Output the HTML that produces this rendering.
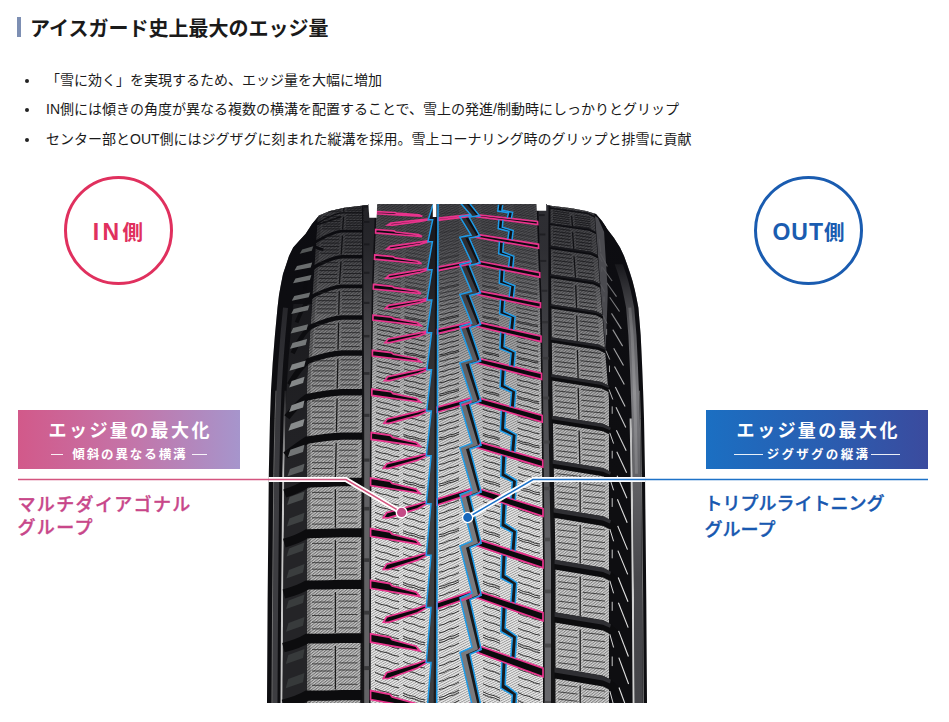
<!DOCTYPE html>
<html lang="ja">
<head>
<meta charset="utf-8">
<title>アイスガード史上最大のエッジ量</title>
<style>
html,body{margin:0;padding:0;background:#fff;}
body{width:949px;height:722px;position:relative;overflow:hidden;font-family:"Liberation Sans","Noto Sans CJK JP",sans-serif;color:#1a1a1a;}
.bar{position:absolute;left:17px;top:17px;width:4px;height:20px;background:#7d8fb3;}
.h{position:absolute;left:30px;top:19px;font-size:20px;line-height:20px;font-weight:700;white-space:nowrap;}
ul{position:absolute;left:0;top:0;margin:0;padding:0;list-style:none;}
li{position:absolute;left:46px;white-space:nowrap;font-size:14px;line-height:20px;}
li:before{content:"";position:absolute;left:-21px;top:9px;width:4px;height:4px;border-radius:50%;background:#222;}
.circ{position:absolute;width:103px;height:103px;border-radius:50%;border:3px solid;text-align:center;line-height:106px;font-size:23px;font-weight:700;letter-spacing:2px;text-indent:3px;white-space:nowrap;}
.circ span{font-size:20.5px;}
.cin{left:63.5px;top:175.5px;border-color:#e0305e;color:#e0305e;letter-spacing:3.4px;}
.cout{left:754px;top:175.5px;border-color:#1a5cb0;color:#1a5cb0;letter-spacing:1px;text-indent:1px;}
.box{position:absolute;top:410px;height:59px;width:222px;color:#fff;text-align:center;font-weight:700;white-space:nowrap;}
.bin{left:18px;background:linear-gradient(90deg,#d2598a 0%,#c474a8 50%,#a695cc 100%);}
.bout{left:706px;background:linear-gradient(90deg,#1b6fc2 0%,#2a5db0 55%,#3b4b9e 100%);}
.box .t{position:absolute;left:0;right:0;top:11px;font-size:18px;line-height:20px;letter-spacing:2.4px;text-indent:2.4px;}
.box .s{position:absolute;left:0;right:0;top:36.5px;font-size:12.5px;line-height:16px;letter-spacing:1.9px;}
.box .s i{display:inline-block;height:0;border-top:1px solid #fff;vertical-align:4px;opacity:.9;}
.lab{position:absolute;font-size:18px;font-weight:500;white-space:nowrap;-webkit-text-stroke:0.35px currentColor;}
.lin{left:17.5px;top:494px;color:#c8478a;line-height:22.5px;letter-spacing:1.35px;}
.lout{left:704.5px;top:490.5px;color:#1858b0;line-height:26px;letter-spacing:0px;}
svg{position:absolute;left:0;top:0;}
</style>
</head>
<body>
<div class="bar"></div>
<div class="h">アイスガード史上最大のエッジ量</div>
<ul>
<li style="top:70px">「雪に効く」を実現するため、エッジ量を大幅に増加</li>
<li style="top:99px">IN側には傾きの角度が異なる複数の横溝を配置することで、雪上の発進/制動時にしっかりとグリップ</li>
<li style="top:129px">センター部とOUT側にはジグザグに刻まれた縦溝を採用。雪上コーナリング時のグリップと排雪に貢献</li>
</ul>
<div class="circ cin">IN<span>側</span></div>
<div class="circ cout">OUT<span>側</span></div>
<div class="box bin"><div class="t">エッジ量の最大化</div><div class="s"><i style="width:11.2px;margin-right:9.6px"></i>傾斜の異なる横溝<i style="width:14.7px;margin-left:4.4px"></i></div></div>
<div class="box bout"><div class="t">エッジ量の最大化</div><div class="s" style="letter-spacing:2.3px"><i style="width:29.1px;margin-right:3.7px"></i>ジグザグの縦溝<i style="width:29.6px;margin-left:0.3px"></i></div></div>
<div class="lab lin">マルチダイアゴナル<br>グループ</div>
<div class="lab lout">トリプルライトニング<br>グループ</div>
<svg width="949" height="722" viewBox="0 0 949 722">
<defs>
<clipPath id="cs"><polygon points="267.0,703.0 267.6,600.0 268.3,530.0 268.8,473.8 269.4,446.0 270.0,418.4 271.0,390.7 272.7,363.0 274.9,335.4 277.5,307.7 279.0,295.0 281.0,284.0 283.0,274.0 286.3,264.2 289.0,256.0 293.2,247.6 299.0,241.0 305.7,233.8 312.0,224.0 319.0,215.5 330.0,211.0 344.5,207.7 368.0,205.0 368.0,204.0 546.6,204.0 546.6,205.2 571.5,208.2 586.0,211.0 596.0,214.0 602.0,221.0 607.5,229.6 614.0,238.0 620.0,247.6 624.0,256.0 627.0,264.2 630.0,273.0 632.5,281.0 634.8,290.0 636.5,298.0 638.4,307.7 640.7,335.4 642.0,363.0 643.1,390.7 644.0,418.4 644.5,446.0 645.0,473.8 645.6,530.0 646.3,600.0 647.0,703.0"/></clipPath>
<pattern id="hl" width="2.2" height="2.2" patternUnits="userSpaceOnUse" patternTransform="rotate(-32)"><rect width="2.2" height="2.2" fill="#eeeeee"/><rect width="2.2" height="0.9" fill="#979797"/></pattern>
<pattern id="hr" width="2.2" height="2.2" patternUnits="userSpaceOnUse" patternTransform="rotate(-28)"><rect width="2.2" height="2.2" fill="#ececec"/><rect width="2.2" height="0.9" fill="#979797"/></pattern>
<pattern id="hs" width="2.2" height="2.2" patternUnits="userSpaceOnUse" patternTransform="rotate(-38)"><rect width="2.2" height="2.2" fill="#c6c6c6"/><rect width="2.2" height="1.0" fill="#707070"/></pattern>
<pattern id="hs2" width="2.2" height="2.2" patternUnits="userSpaceOnUse" patternTransform="rotate(-38)"><rect width="2.2" height="2.2" fill="#d6d6d6"/><rect width="2.2" height="1.0" fill="#808080"/></pattern>
<linearGradient id="shade" x1="0" y1="204" x2="0" y2="520" gradientUnits="userSpaceOnUse"><stop offset="0.000" stop-color="#0c0c11" stop-opacity="0.73"/><stop offset="0.082" stop-color="#0c0c11" stop-opacity="0.71"/><stop offset="0.146" stop-color="#0c0c11" stop-opacity="0.68"/><stop offset="0.259" stop-color="#0c0c11" stop-opacity="0.56"/><stop offset="0.377" stop-color="#0c0c11" stop-opacity="0.39"/><stop offset="0.509" stop-color="#0c0c11" stop-opacity="0.25"/><stop offset="0.661" stop-color="#0c0c11" stop-opacity="0.13"/><stop offset="0.842" stop-color="#0c0c11" stop-opacity="0.04"/><stop offset="1.000" stop-color="#0c0c11" stop-opacity="0.00"/></linearGradient>
<linearGradient id="rb" x1="0" y1="260" x2="0" y2="703" gradientUnits="userSpaceOnUse"><stop offset="0" stop-color="#141418"/><stop offset=".16" stop-color="#5c5c60"/><stop offset=".30" stop-color="#7c7c80"/><stop offset=".50" stop-color="#606064"/><stop offset=".72" stop-color="#47474b"/><stop offset="1" stop-color="#444448"/></linearGradient>
<linearGradient id="rg" x1="0" y1="204" x2="0" y2="703" gradientUnits="userSpaceOnUse"><stop offset="0" stop-color="#8a8a8e"/><stop offset=".25" stop-color="#5a5a5e"/><stop offset=".55" stop-color="#56565a"/><stop offset=".72" stop-color="#66666a"/><stop offset="1" stop-color="#68686c"/></linearGradient>
<linearGradient id="lw" x1="0" y1="380" x2="0" y2="475" gradientUnits="userSpaceOnUse"><stop offset="0" stop-color="#c6c6c6" stop-opacity="0"/><stop offset="1" stop-color="#c6c6c6" stop-opacity="1"/></linearGradient>
</defs>
<polygon points="267.0,703.0 267.6,600.0 268.3,530.0 268.8,473.8 269.4,446.0 270.0,418.4 271.0,390.7 272.7,363.0 274.9,335.4 277.5,307.7 279.0,295.0 281.0,284.0 283.0,274.0 286.3,264.2 289.0,256.0 293.2,247.6 299.0,241.0 305.7,233.8 312.0,224.0 319.0,215.5 330.0,211.0 344.5,207.7 368.0,205.0 368.0,204.0 546.6,204.0 546.6,205.2 571.5,208.2 586.0,211.0 596.0,214.0 602.0,221.0 607.5,229.6 614.0,238.0 620.0,247.6 624.0,256.0 627.0,264.2 630.0,273.0 632.5,281.0 634.8,290.0 636.5,298.0 638.4,307.7 640.7,335.4 642.0,363.0 643.1,390.7 644.0,418.4 644.5,446.0 645.0,473.8 645.6,530.0 646.3,600.0 647.0,703.0" fill="#0e0e11"/>
<g clip-path="url(#cs)">
<path d="M285.5,307.7 L282.9,335.4 L280.7,363.0 L279.0,390.7 L278.0,418.4 L277.4,446.0 L276.8,473.8 L276.3,530.0 L275.6,600.0 L275.0,703.0" fill="none" stroke="#3d3d41" stroke-width="5"/>
<path d="M285.6,390.7 L284.6,418.4 L284.0,446.0 L283.4,473.8 L282.9,530.0 L282.2,600.0 L281.6,703.0" fill="none" stroke="url(#lw)" stroke-width="2.2"/>
<path d="M276.0,390.7 L275.0,418.4 L274.4,446.0 L273.8,473.8 L273.3,530.0 L272.6,600.0 L272.0,703.0" fill="none" stroke="#8a8a8a" stroke-width=".8"/>
<path d="M630.7,418.4 L631.2,446.0 L631.7,473.8 L632.3,530.0 L633.0,600.0 L633.7,703.0" fill="none" stroke="#cfcfcf" stroke-width="2.2"/>
<path d="M639.5,390.7 L640.4,418.4 L640.9,446.0 L641.4,473.8 L642.0,530.0 L642.7,600.0 L643.4,703.0" fill="none" stroke="#8c8c8c" stroke-width=".8"/>
<rect x="368" y="204" width="68.5" height="500" fill="url(#hl)"/>
<rect x="436.5" y="204" width="109" height="500" fill="url(#hr)"/>
<polygon points="319.0,200.0 318.5,208.0 317.9,216.0 317.4,224.0 316.9,232.0 316.3,240.0 315.8,248.0 315.3,256.0 314.7,264.0 314.2,272.0 313.7,280.0 313.1,288.0 312.6,296.0 312.1,304.0 311.5,312.0 311.0,320.0 310.5,328.0 309.9,336.0 309.4,344.0 308.9,352.0 308.3,360.0 307.8,368.0 307.3,376.0 307.0,384.0 307.0,392.0 307.0,400.0 307.0,408.0 307.0,416.0 307.0,424.0 307.0,432.0 307.0,440.0 307.0,448.0 307.0,456.0 307.0,464.0 307.0,472.0 307.0,480.0 307.0,488.0 307.0,496.0 307.0,504.0 307.0,512.0 307.0,520.0 307.0,528.0 307.0,536.0 307.0,544.0 307.0,552.0 307.0,560.0 307.0,568.0 307.0,576.0 307.0,584.0 307.0,592.0 307.0,600.0 307.0,608.0 307.0,616.0 307.0,624.0 307.0,632.0 307.0,640.0 307.0,648.0 307.0,656.0 307.0,664.0 307.0,672.0 307.0,680.0 307.0,688.0 307.0,696.0 307.0,704.0 362.0,707.0 362.0,200.0" fill="url(#hs)"/>
<polygon points="319.0,200.0 318.5,208.0 317.9,216.0 317.4,224.0 316.9,232.0 316.3,240.0 315.8,248.0 315.3,256.0 314.7,264.0 314.2,272.0 313.7,280.0 313.1,288.0 312.6,296.0 312.1,304.0 311.5,312.0 311.0,320.0 310.5,328.0 309.9,336.0 309.4,344.0 308.9,352.0 308.3,360.0 307.8,368.0 307.3,376.0 307.0,384.0 307.0,392.0 307.0,400.0 307.0,408.0 307.0,416.0 307.0,424.0 307.0,432.0 307.0,440.0 307.0,448.0 307.0,456.0 307.0,464.0 307.0,472.0 307.0,480.0 307.0,488.0 307.0,496.0 307.0,504.0 307.0,512.0 307.0,520.0 307.0,528.0 307.0,536.0 307.0,544.0 307.0,552.0 307.0,560.0 307.0,568.0 307.0,576.0 307.0,584.0 307.0,592.0 307.0,600.0 307.0,608.0 307.0,616.0 307.0,624.0 307.0,632.0 307.0,640.0 307.0,648.0 307.0,656.0 307.0,664.0 307.0,672.0 307.0,680.0 307.0,688.0 307.0,696.0 307.0,704.0 310.5,704.0 310.5,696.0 310.5,688.0 310.5,680.0 310.5,672.0 310.5,664.0 310.5,656.0 310.5,648.0 310.5,640.0 310.5,632.0 310.5,624.0 310.5,616.0 310.5,608.0 310.5,600.0 310.5,592.0 310.5,584.0 310.5,576.0 310.5,568.0 310.5,560.0 310.5,552.0 310.5,544.0 310.5,536.0 310.5,528.0 310.5,520.0 310.5,512.0 310.5,504.0 310.5,496.0 310.5,488.0 310.5,480.0 310.5,472.0 310.5,464.0 310.5,456.0 310.5,448.0 310.5,440.0 310.5,432.0 310.5,424.0 310.5,416.0 310.5,408.0 310.5,400.0 310.5,392.0 310.5,384.0 310.8,376.0 311.3,368.0 311.8,360.0 312.4,352.0 312.9,344.0 313.4,336.0 314.0,328.0 314.5,320.0 315.0,312.0 315.6,304.0 316.1,296.0 316.6,288.0 317.2,280.0 317.7,272.0 318.2,264.0 318.8,256.0 319.3,248.0 319.8,240.0 320.4,232.0 320.9,224.0 321.4,216.0 322.0,208.0 322.5,200.0" fill="#000" fill-opacity=".25"/>
<polygon points="593.2,200.0 593.8,208.0 594.5,216.0 595.1,224.0 595.7,232.0 596.4,240.0 597.0,248.0 597.6,256.0 598.3,264.0 598.9,272.0 599.5,280.0 600.2,288.0 600.8,296.0 601.4,304.0 602.1,312.0 602.7,320.0 603.3,328.0 603.9,336.0 604.6,344.0 605.2,352.0 605.8,360.0 606.5,368.0 607.1,376.0 607.7,384.0 608.4,392.0 609.0,400.0 609.0,408.0 609.0,416.0 609.0,424.0 609.0,432.0 609.0,440.0 609.0,448.0 609.0,456.0 609.0,464.0 609.0,472.0 609.0,480.0 609.0,488.0 609.0,496.0 609.0,504.0 609.0,512.0 609.0,520.0 609.0,528.0 609.0,536.0 609.0,544.0 609.0,552.0 609.0,560.0 609.0,568.0 609.0,576.0 609.0,584.0 609.0,592.0 609.0,600.0 609.0,608.0 609.0,616.0 609.0,624.0 609.0,632.0 609.0,640.0 609.0,648.0 609.0,656.0 609.0,664.0 609.0,672.0 609.0,680.0 609.0,688.0 609.0,696.0 609.0,704.0 555.0,704.0 555.0,696.0 555.0,688.0 555.0,680.0 555.0,672.0 555.0,664.0 555.0,656.0 555.0,648.0 555.0,640.0 555.0,632.0 555.0,624.0 555.0,616.0 555.0,608.0 555.0,600.0 555.0,592.0 555.0,584.0 555.0,576.0 555.0,568.0 555.0,560.0 554.9,552.0 554.7,544.0 554.5,536.0 554.4,528.0 554.2,520.0 554.1,512.0 554.0,504.0 553.8,496.0 553.6,488.0 553.5,480.0 553.4,472.0 553.2,464.0 553.0,456.0 552.9,448.0 552.8,440.0 552.6,432.0 552.5,424.0 552.3,416.0 552.1,408.0 552.0,400.0 551.9,392.0 551.8,384.0 551.7,376.0 551.6,368.0 551.5,360.0 551.4,352.0 551.3,344.0 551.2,336.0 551.2,328.0 551.1,320.0 551.0,312.0 550.9,304.0 550.8,296.0 550.7,288.0 550.6,280.0 550.5,272.0 550.4,264.0 550.3,256.0 550.2,248.0 550.1,240.0 550.0,232.0 550.0,224.0 550.0,216.0 550.0,208.0 550.0,200.0" fill="url(#hs2)"/>
<polygon points="293.4,304.0 292.6,312.0 291.8,320.0 291.1,328.0 290.4,336.0 289.7,344.0 289.1,352.0 288.4,360.0 287.9,368.0 287.4,376.0 286.9,384.0 286.5,392.0 286.2,400.0 285.9,408.0 285.6,416.0 285.4,424.0 285.2,432.0 285.0,440.0 284.9,448.0 284.7,456.0 284.5,464.0 284.3,472.0 284.2,480.0 284.2,488.0 284.1,496.0 284.0,504.0 284.0,512.0 283.9,520.0 283.8,528.0 283.7,536.0 283.7,544.0 283.6,552.0 283.5,560.0 283.4,568.0 283.3,576.0 283.3,584.0 283.2,592.0 283.1,600.0 283.1,608.0 283.0,616.0 283.0,624.0 282.9,632.0 282.9,640.0 282.8,648.0 282.8,656.0 282.7,664.0 282.7,672.0 282.6,680.0 282.6,688.0 282.5,696.0 282.5,704.0 307.0,704.0 307.0,696.0 307.0,688.0 307.0,680.0 307.0,672.0 307.0,664.0 307.0,656.0 307.0,648.0 307.0,640.0 307.0,632.0 307.0,624.0 307.0,616.0 307.0,608.0 307.0,600.0 307.0,592.0 307.0,584.0 307.0,576.0 307.0,568.0 307.0,560.0 307.0,552.0 307.0,544.0 307.0,536.0 307.0,528.0 307.0,520.0 307.0,512.0 307.0,504.0 307.0,496.0 307.0,488.0 307.0,480.0 307.0,472.0 307.0,464.0 307.0,456.0 307.0,448.0 307.0,440.0 307.0,432.0 307.0,424.0 307.0,416.0 307.0,408.0 307.0,400.0 307.0,392.0 307.0,384.0 307.3,376.0 307.8,368.0 308.3,360.0 308.9,352.0 309.4,344.0 309.9,336.0 310.5,328.0 311.0,320.0 311.5,312.0 312.1,304.0" fill="#242427"/>
<polygon points="362.0,204.0 362.0,230.0 362.0,260.0 362.0,290.0 362.0,320.0 362.0,350.0 362.0,400.0 360.2,707.0 370.6,707.0 371.7,400.0 372.5,350.0 372.9,320.0 373.4,290.0 374.5,260.0 375.8,230.0 376.5,204.0" fill="#161618"/>
<polygon points="363.2,204.0 363.2,230.0 363.3,260.0 363.5,290.0 363.7,320.0 363.9,350.0 364.2,400.0 364.2,707.0 369.0,707.0 370.1,400.0 370.9,350.0 371.3,320.0 371.8,290.0 372.9,260.0 374.2,230.0 374.9,204.0" fill="#626265"/>
<polygon points="536.7,204.0 537.4,230.0 538.4,260.0 539.9,300.0 540.7,350.0 541.4,400.0 542.2,480.0 543.0,560.0 543.0,707.0 555.5,707.0 555.5,560.0 554.0,480.0 552.5,400.0 551.9,350.0 551.3,300.0 550.9,260.0 550.5,230.0 550.5,204.0" fill="#131315"/>
<polygon points="538.4,204.0 539.1,230.0 540.1,260.0 541.6,300.0 542.4,350.0 543.1,400.0 543.9,480.0 544.7,560.0 544.7,707.0 551.0,707.0 551.0,560.0 549.5,480.0 548.2,400.0 548.3,350.0 548.3,300.0 548.4,260.0 548.4,230.0 548.5,204.0" fill="url(#rg)"/>
<rect x="364" y="205.7" width="5.5" height="2.0" fill="#3a3a3c"/>
<rect x="538.4" y="200.1" width="6.2" height="2.0" fill="#4a4a4c"/>
<rect x="364" y="220.9" width="5.5" height="2.0" fill="#3a3a3c"/>
<rect x="538.5" y="214.1" width="6.2" height="2.0" fill="#4a4a4c"/>
<rect x="364" y="243.4" width="5.5" height="2.0" fill="#3a3a3c"/>
<rect x="539.2" y="233.5" width="6.2" height="2.0" fill="#4a4a4c"/>
<rect x="364" y="271.7" width="5.5" height="2.1" fill="#3a3a3c"/>
<rect x="540.1" y="259.9" width="6.2" height="2.0" fill="#4a4a4c"/>
<rect x="364" y="301.8" width="5.5" height="2.2" fill="#3a3a3c"/>
<rect x="541.2" y="289.7" width="6.2" height="2.1" fill="#4a4a4c"/>
<rect x="364" y="334.9" width="5.5" height="2.5" fill="#3a3a3c"/>
<rect x="541.9" y="321.0" width="6.2" height="2.4" fill="#4a4a4c"/>
<rect x="364" y="372.1" width="5.5" height="2.7" fill="#3a3a3c"/>
<rect x="542.5" y="356.9" width="6.2" height="2.6" fill="#4a4a4c"/>
<rect x="364" y="413.8" width="5.5" height="3.1" fill="#3a3a3c"/>
<rect x="543.0" y="396.5" width="6.2" height="3.0" fill="#4a4a4c"/>
<rect x="364" y="458.5" width="5.5" height="3.2" fill="#3a3a3c"/>
<rect x="543.5" y="440.5" width="6.2" height="3.1" fill="#4a4a4c"/>
<rect x="364" y="506.9" width="5.5" height="3.6" fill="#3a3a3c"/>
<rect x="544.0" y="486.8" width="6.2" height="3.5" fill="#4a4a4c"/>
<rect x="364" y="558.3" width="5.5" height="3.6" fill="#3a3a3c"/>
<rect x="544.5" y="537.7" width="6.2" height="3.6" fill="#4a4a4c"/>
<rect x="364" y="610.8" width="5.5" height="3.8" fill="#3a3a3c"/>
<rect x="544.7" y="589.6" width="6.2" height="3.7" fill="#4a4a4c"/>
<rect x="364" y="666.1" width="5.5" height="4.0" fill="#3a3a3c"/>
<rect x="544.7" y="643.6" width="6.2" height="3.9" fill="#4a4a4c"/>
<rect x="364" y="724.1" width="5.5" height="4.1" fill="#3a3a3c"/>
<rect x="544.7" y="700.9" width="6.2" height="4.1" fill="#4a4a4c"/>
<rect x="364" y="782.1" width="5.5" height="4.1" fill="#3a3a3c"/>
<rect x="544.7" y="758.9" width="6.2" height="4.1" fill="#4a4a4c"/>
<line x1="344.2" y1="202.6" x2="343.7" y2="211.7" stroke="#1c1c1c" stroke-width="1.3"/>
<path d="M323.9,202.2 H341.5 M347.0,201.2 H364.7" stroke="#2a2a2a" stroke-width=".8" fill="none"/>
<path d="M323.8,204.1 H341.5 M347.0,203.1 H364.7" stroke="#2a2a2a" stroke-width=".8" fill="none"/>
<path d="M323.7,206.0 H341.4 M347.0,205.0 H364.6" stroke="#2a2a2a" stroke-width=".8" fill="none"/>
<path d="M323.5,207.9 H341.3 M346.9,206.9 H364.5" stroke="#2a2a2a" stroke-width=".8" fill="none"/>
<path d="M323.4,209.8 H341.2 M346.7,208.8 H364.4" stroke="#2a2a2a" stroke-width=".8" fill="none"/>
<path d="M323.3,211.7 H341.0 M346.6,210.7 H364.3" stroke="#2a2a2a" stroke-width=".8" fill="none"/>
<polygon points="549.5,207.2 587.9,212.7 595.9,216.7 605.9,225.7 605.9,227.2 595.9,218.2 587.9,214.2 549.5,208.7" fill="#0c0c0e"/>
<polygon points="549.5,207.2 587.9,212.7 595.9,216.7 594.9,216.4 587.9,213.4 549.5,207.9" fill="#2f2f33"/>
<line x1="571.6" y1="215.9" x2="572.5" y2="226.6" stroke="#1c1c1c" stroke-width="1.3"/>
<path d="M553.0,210.9 L569.2,213.3 M574.3,215.1 L590.0,217.4" stroke="#2a2a2a" stroke-width=".8" fill="none"/>
<path d="M553.0,213.1 L569.3,215.4 M574.5,217.2 L590.2,219.6" stroke="#2a2a2a" stroke-width=".8" fill="none"/>
<path d="M553.0,215.2 L569.5,217.6 M574.6,219.4 L590.4,221.7" stroke="#2a2a2a" stroke-width=".8" fill="none"/>
<path d="M553.0,217.4 L569.6,219.7 M574.7,221.6 L590.5,223.9" stroke="#2a2a2a" stroke-width=".8" fill="none"/>
<path d="M553.0,219.5 L569.7,221.9 M574.9,223.7 L590.7,226.0" stroke="#2a2a2a" stroke-width=".8" fill="none"/>
<path d="M553.0,221.7 L569.8,224.0 M575.0,225.9 L590.9,228.2" stroke="#2a2a2a" stroke-width=".8" fill="none"/>
<path d="M362.5,212.9 L342,212.9 Q334.1,213.4 318.1,222.9 Q310.1,227.9 341.3,216.5" fill="none" stroke="#0c0c0e" stroke-width="1.4"/>
<line x1="343.6" y1="216.6" x2="342.6" y2="229.4" stroke="#1c1c1c" stroke-width="1.3"/>
<path d="M323.0,216.6 H340.8 M346.4,215.6 H364.1" stroke="#2a2a2a" stroke-width=".8" fill="none"/>
<path d="M322.8,219.1 H340.6 M346.2,218.1 H364.0" stroke="#2a2a2a" stroke-width=".8" fill="none"/>
<path d="M322.6,221.5 H340.5 M346.1,220.5 H363.9" stroke="#2a2a2a" stroke-width=".8" fill="none"/>
<path d="M322.5,224.0 H340.3 M345.9,223.0 H363.7" stroke="#2a2a2a" stroke-width=".8" fill="none"/>
<path d="M322.3,226.4 H340.2 M345.8,225.4 H363.6" stroke="#2a2a2a" stroke-width=".8" fill="none"/>
<path d="M322.1,228.9 H340.0 M345.7,227.9 H363.5" stroke="#2a2a2a" stroke-width=".8" fill="none"/>
<polygon points="549.5,222.9 589.2,228.6 597.2,232.6 607.2,241.6 607.2,243.8 597.2,234.8 589.2,230.8 549.5,225.1" fill="#0c0c0e"/>
<polygon points="549.5,222.9 589.2,228.6 597.2,232.6 596.2,232.6 589.2,229.6 549.5,223.9" fill="#2f2f33"/>
<line x1="572.6" y1="232.2" x2="573.8" y2="249.3" stroke="#1c1c1c" stroke-width="1.3"/>
<path d="M553.0,228.1 L570.2,230.4 M575.4,232.2 L591.4,234.6" stroke="#2a2a2a" stroke-width=".8" fill="none"/>
<path d="M553.0,231.2 L570.4,233.5 M575.6,235.3 L591.6,237.7" stroke="#2a2a2a" stroke-width=".8" fill="none"/>
<path d="M553.0,234.3 L570.6,236.6 M575.7,238.5 L591.9,240.8" stroke="#2a2a2a" stroke-width=".8" fill="none"/>
<path d="M553.1,237.4 L570.7,239.7 M575.9,241.6 L592.1,243.9" stroke="#2a2a2a" stroke-width=".8" fill="none"/>
<path d="M553.1,240.5 L570.9,242.9 M576.1,244.7 L592.4,247.0" stroke="#2a2a2a" stroke-width=".8" fill="none"/>
<path d="M553.2,243.6 L571.1,246.0 M576.3,247.8 L592.6,250.2" stroke="#2a2a2a" stroke-width=".8" fill="none"/>
<line x1="599.3" y1="239.6" x2="600.6" y2="251.7" stroke="#e2e2e2" stroke-width="1.1"/>
<line x1="599.5" y1="239.1" x2="599.5" y2="243.4" stroke="#c8c8c8" stroke-width="1"/>
<path d="M362.5,231.2 L342,231.2 Q333.5,231.7 316.9,241.2 Q308.9,246.2 323.4,249.8" fill="none" stroke="#0c0c0e" stroke-width="2.7"/>
<line x1="342.5" y1="235.6" x2="341.2" y2="254.6" stroke="#1c1c1c" stroke-width="1.3"/>
<path d="M321.6,236.3 H339.6 M345.2,235.3 H363.2" stroke="#2a2a2a" stroke-width=".8" fill="none"/>
<path d="M321.4,239.7 H339.4 M345.0,238.7 H363.0" stroke="#2a2a2a" stroke-width=".8" fill="none"/>
<path d="M321.2,243.1 H339.2 M344.8,242.1 H362.8" stroke="#2a2a2a" stroke-width=".8" fill="none"/>
<path d="M321.0,246.5 H339.0 M344.7,245.5 H362.7" stroke="#2a2a2a" stroke-width=".8" fill="none"/>
<path d="M320.7,249.9 H338.8 M344.5,248.9 H362.5" stroke="#2a2a2a" stroke-width=".8" fill="none"/>
<path d="M320.5,253.3 H338.6 M344.3,252.3 H362.3" stroke="#2a2a2a" stroke-width=".8" fill="none"/>
<polygon points="549.7,245.6 591.1,251.7 599.1,255.7 609.1,264.7 609.1,268.1 599.1,259.1 591.1,255.1 549.7,249.1" fill="#0c0c0e"/>
<polygon points="549.7,245.6 591.1,251.7 599.1,255.7 598.1,256.2 591.1,253.2 549.7,247.2" fill="#2f2f33"/>
<line x1="574.0" y1="256.2" x2="575.5" y2="277.8" stroke="#1c1c1c" stroke-width="1.3"/>
<path d="M553.3,252.6 L571.6,254.9 M576.9,256.8 L593.3,259.1" stroke="#2a2a2a" stroke-width=".8" fill="none"/>
<path d="M553.3,256.4 L571.8,258.7 M577.1,260.6 L593.6,262.9" stroke="#2a2a2a" stroke-width=".8" fill="none"/>
<path d="M553.3,260.2 L572.1,262.5 M577.3,264.4 L593.9,266.7" stroke="#2a2a2a" stroke-width=".8" fill="none"/>
<path d="M553.4,264.0 L572.3,266.4 M577.5,268.2 L594.2,270.5" stroke="#2a2a2a" stroke-width=".8" fill="none"/>
<path d="M553.4,267.8 L572.5,270.2 M577.8,272.0 L594.5,274.3" stroke="#2a2a2a" stroke-width=".8" fill="none"/>
<path d="M553.5,271.6 L572.7,274.0 M578.0,275.8 L594.8,278.1" stroke="#2a2a2a" stroke-width=".8" fill="none"/>
<line x1="600.4" y1="253.4" x2="607.3" y2="266.6" stroke="#e2e2e2" stroke-width="1.1"/>
<line x1="602.3" y1="267.2" x2="612.1" y2="281.0" stroke="#e2e2e2" stroke-width="1.1"/>
<line x1="598.4" y1="255.0" x2="602.2" y2="261.9" stroke="#d8d8d8" stroke-width="1"/>
<line x1="601.7" y1="266.6" x2="601.7" y2="271.7" stroke="#c8c8c8" stroke-width="1"/>
<path d="M362.5,256.8 L342,256.8 Q332.6,257.3 315.2,266.5 Q307.2,271.5 304.7,289.3" fill="none" stroke="#0c0c0e" stroke-width="3.5"/>
<line x1="341.0" y1="261.5" x2="339.4" y2="284.0" stroke="#1c1c1c" stroke-width="1.3"/>
<path d="M319.9,262.7 H338.0 M343.7,261.7 H361.9" stroke="#2a2a2a" stroke-width=".8" fill="none"/>
<path d="M319.6,266.6 H337.8 M343.5,265.6 H361.7" stroke="#2a2a2a" stroke-width=".8" fill="none"/>
<path d="M319.4,270.6 H337.5 M343.3,269.6 H361.5" stroke="#2a2a2a" stroke-width=".8" fill="none"/>
<path d="M319.1,274.5 H337.3 M343.1,273.5 H361.3" stroke="#2a2a2a" stroke-width=".8" fill="none"/>
<path d="M318.8,278.4 H337.1 M342.8,277.4 H361.1" stroke="#2a2a2a" stroke-width=".8" fill="none"/>
<path d="M318.6,282.4 H336.8 M342.6,281.4 H361.0" stroke="#2a2a2a" stroke-width=".8" fill="none"/>
<polygon points="550.0,274.2 593.4,280.6 601.4,284.6 611.4,293.6 611.4,297.5 601.4,288.5 593.4,284.5 550.1,278.1" fill="#0c0c0e"/>
<polygon points="550.0,274.2 593.4,280.6 601.4,284.6 600.4,285.3 593.4,282.3 550.0,275.9" fill="#2f2f33"/>
<line x1="575.7" y1="285.3" x2="576.6" y2="307.9" stroke="#1c1c1c" stroke-width="1.3"/>
<path d="M553.6,281.8 L573.3,284.1 M578.6,285.9 L595.6,288.3" stroke="#2a2a2a" stroke-width=".8" fill="none"/>
<path d="M553.6,285.7 L573.5,288.1 M578.9,289.9 L595.9,292.2" stroke="#2a2a2a" stroke-width=".8" fill="none"/>
<path d="M553.7,289.7 L573.7,292.0 M579.0,293.9 L596.3,296.2" stroke="#2a2a2a" stroke-width=".8" fill="none"/>
<path d="M553.7,293.7 L573.8,296.0 M579.1,297.8 L596.6,300.2" stroke="#2a2a2a" stroke-width=".8" fill="none"/>
<path d="M553.8,297.6 L573.9,300.0 M579.2,301.8 L596.9,304.1" stroke="#2a2a2a" stroke-width=".8" fill="none"/>
<path d="M553.8,301.6 L573.9,303.9 M579.3,305.8 L597.2,308.1" stroke="#2a2a2a" stroke-width=".8" fill="none"/>
<line x1="606.7" y1="282.8" x2="616.5" y2="296.6" stroke="#e2e2e2" stroke-width="1.1"/>
<line x1="609.7" y1="297.2" x2="619.5" y2="311.5" stroke="#e2e2e2" stroke-width="1.1"/>
<line x1="600.7" y1="284.6" x2="604.5" y2="291.8" stroke="#d8d8d8" stroke-width="1"/>
<line x1="604.0" y1="296.6" x2="604.0" y2="301.8" stroke="#c8c8c8" stroke-width="1"/>
<path d="M362.5,286.4 L342,286.4 Q331.6,286.9 313.2,295.9 Q305.2,300.9 296.6,322.5" fill="none" stroke="#0c0c0e" stroke-width="3.8"/>
<line x1="339.3" y1="291.3" x2="338.7" y2="314.7" stroke="#1c1c1c" stroke-width="1.3"/>
<path d="M317.9,292.6 H336.4 M342.2,291.6 H360.6" stroke="#2a2a2a" stroke-width=".8" fill="none"/>
<path d="M317.6,296.6 H336.3 M342.1,295.6 H360.5" stroke="#2a2a2a" stroke-width=".8" fill="none"/>
<path d="M317.4,300.7 H336.2 M342.0,299.7 H360.5" stroke="#2a2a2a" stroke-width=".8" fill="none"/>
<path d="M317.1,304.8 H336.1 M342.0,303.8 H360.4" stroke="#2a2a2a" stroke-width=".8" fill="none"/>
<path d="M316.8,308.9 H336.0 M341.9,307.9 H360.3" stroke="#2a2a2a" stroke-width=".8" fill="none"/>
<path d="M316.5,312.9 H336.0 M341.8,311.9 H360.3" stroke="#2a2a2a" stroke-width=".8" fill="none"/>
<polygon points="550.4,304.3 595.8,311.1 603.8,315.1 613.8,324.1 613.8,328.2 603.8,319.2 595.8,315.2 550.4,308.4" fill="#0c0c0e"/>
<polygon points="550.4,304.3 595.8,311.1 603.8,315.1 602.8,315.9 595.8,312.9 550.4,306.1" fill="#2f2f33"/>
<line x1="576.7" y1="315.6" x2="577.3" y2="341.0" stroke="#1c1c1c" stroke-width="1.3"/>
<path d="M554.0,312.4 L574.2,314.8 M579.5,316.6 L598.0,318.9" stroke="#2a2a2a" stroke-width=".8" fill="none"/>
<path d="M554.0,316.8 L574.2,319.1 M579.6,321.0 L598.4,323.3" stroke="#2a2a2a" stroke-width=".8" fill="none"/>
<path d="M554.1,321.2 L574.3,323.5 M579.7,325.3 L598.7,327.7" stroke="#2a2a2a" stroke-width=".8" fill="none"/>
<path d="M554.1,325.5 L574.4,327.9 M579.8,329.7 L599.1,332.1" stroke="#2a2a2a" stroke-width=".8" fill="none"/>
<path d="M554.2,329.9 L574.5,332.3 M579.9,334.1 L599.4,336.4" stroke="#2a2a2a" stroke-width=".8" fill="none"/>
<path d="M554.2,334.3 L574.6,336.6 M580.0,338.5 L599.8,340.8" stroke="#2a2a2a" stroke-width=".8" fill="none"/>
<line x1="611.5" y1="313.4" x2="621.3" y2="328.9" stroke="#e2e2e2" stroke-width="1.1"/>
<line x1="612.8" y1="329.6" x2="622.6" y2="346.1" stroke="#e2e2e2" stroke-width="1.1"/>
<line x1="603.1" y1="315.3" x2="606.9" y2="323.4" stroke="#d8d8d8" stroke-width="1"/>
<line x1="606.6" y1="328.9" x2="606.6" y2="334.9" stroke="#c8c8c8" stroke-width="1"/>
<path d="M362.5,317.5 L342,317.5 Q330.6,318.0 311.2,326.6 Q303.2,331.6 292.6,353.2" fill="none" stroke="#0c0c0e" stroke-width="4.5"/>
<line x1="338.6" y1="322.7" x2="338.0" y2="349.8" stroke="#1c1c1c" stroke-width="1.3"/>
<path d="M315.8,324.4 H335.7 M341.6,323.4 H360.1" stroke="#2a2a2a" stroke-width=".8" fill="none"/>
<path d="M315.5,329.1 H335.6 M341.5,328.1 H360.0" stroke="#2a2a2a" stroke-width=".8" fill="none"/>
<path d="M315.2,333.7 H335.5 M341.4,332.7 H359.9" stroke="#2a2a2a" stroke-width=".8" fill="none"/>
<path d="M314.8,338.3 H335.4 M341.3,337.3 H359.8" stroke="#2a2a2a" stroke-width=".8" fill="none"/>
<path d="M314.5,342.9 H335.3 M341.2,341.9 H359.8" stroke="#2a2a2a" stroke-width=".8" fill="none"/>
<path d="M314.2,347.6 H335.2 M341.1,346.6 H359.7" stroke="#2a2a2a" stroke-width=".8" fill="none"/>
<polygon points="550.8,337.3 598.5,344.5 606.5,348.5 616.5,357.5 616.5,362.9 606.5,353.9 598.5,349.9 550.8,342.6" fill="#0c0c0e"/>
<polygon points="550.8,337.3 598.5,344.5 606.5,348.5 605.5,349.9 598.5,346.9 550.8,339.7" fill="#2f2f33"/>
<line x1="577.4" y1="349.8" x2="578.1" y2="377.9" stroke="#1c1c1c" stroke-width="1.3"/>
<path d="M554.4,346.9 L574.9,349.3 M580.2,351.1 L600.8,353.5" stroke="#2a2a2a" stroke-width=".8" fill="none"/>
<path d="M554.4,351.7 L575.0,354.1 M580.3,355.9 L601.2,358.3" stroke="#2a2a2a" stroke-width=".8" fill="none"/>
<path d="M554.5,356.5 L575.0,358.9 M580.4,360.7 L601.5,363.0" stroke="#2a2a2a" stroke-width=".8" fill="none"/>
<path d="M554.5,361.3 L575.1,363.7 M580.5,365.5 L601.9,367.8" stroke="#2a2a2a" stroke-width=".8" fill="none"/>
<path d="M554.6,366.1 L575.2,368.5 M580.6,370.3 L602.3,372.6" stroke="#2a2a2a" stroke-width=".8" fill="none"/>
<path d="M554.7,370.9 L575.3,373.2 M580.7,375.1 L602.7,377.4" stroke="#2a2a2a" stroke-width=".8" fill="none"/>
<line x1="613.7" y1="348.3" x2="623.5" y2="365.6" stroke="#e2e2e2" stroke-width="1.1"/>
<line x1="614.5" y1="366.4" x2="624.3" y2="384.5" stroke="#e2e2e2" stroke-width="1.1"/>
<line x1="605.9" y1="350.6" x2="609.7" y2="359.5" stroke="#d8d8d8" stroke-width="1"/>
<line x1="609.5" y1="365.6" x2="609.5" y2="372.1" stroke="#c8c8c8" stroke-width="1"/>
<path d="M362.5,353.0 L342,353.0 Q329.4,353.5 308.8,360.6 Q300.8,365.6 289.5,384.6" fill="none" stroke="#0c0c0e" stroke-width="5.6"/>
<line x1="337.9" y1="358.8" x2="337.2" y2="388.4" stroke="#1c1c1c" stroke-width="1.3"/>
<path d="M313.3,360.8 H335.0 M340.8,359.8 H359.5" stroke="#2a2a2a" stroke-width=".8" fill="none"/>
<path d="M313.0,365.9 H334.9 M340.7,364.9 H359.4" stroke="#2a2a2a" stroke-width=".8" fill="none"/>
<path d="M312.7,370.9 H334.8 M340.6,369.9 H359.3" stroke="#2a2a2a" stroke-width=".8" fill="none"/>
<path d="M312.3,375.9 H334.6 M340.5,374.9 H359.2" stroke="#2a2a2a" stroke-width=".8" fill="none"/>
<path d="M312.0,380.9 H334.5 M340.4,379.9 H359.1" stroke="#2a2a2a" stroke-width=".8" fill="none"/>
<path d="M312.0,385.9 H334.4 M340.4,384.9 H359.1" stroke="#2a2a2a" stroke-width=".8" fill="none"/>
<polygon points="551.2,374.2 601.5,382.0 609.5,386.0 619.5,395.0 619.5,401.4 609.5,392.4 601.5,388.4 551.3,380.6" fill="#0c0c0e"/>
<polygon points="551.2,374.2 601.5,382.0 609.5,386.0 608.5,387.9 601.5,384.9 551.2,377.1" fill="#2f2f33"/>
<line x1="578.2" y1="387.8" x2="578.9" y2="419.4" stroke="#1c1c1c" stroke-width="1.3"/>
<path d="M554.8,385.4 L575.6,387.7 M581.0,389.5 L603.8,391.9" stroke="#2a2a2a" stroke-width=".8" fill="none"/>
<path d="M554.9,390.7 L575.7,393.0 M581.1,394.9 L604.2,397.2" stroke="#2a2a2a" stroke-width=".8" fill="none"/>
<path d="M554.9,396.0 L575.8,398.4 M581.3,400.2 L604.6,402.5" stroke="#2a2a2a" stroke-width=".8" fill="none"/>
<path d="M555.0,401.3 L575.9,403.7 M581.4,405.5 L605.0,407.9" stroke="#2a2a2a" stroke-width=".8" fill="none"/>
<path d="M555.1,406.7 L576.0,409.0 M581.5,410.9 L605.0,413.2" stroke="#2a2a2a" stroke-width=".8" fill="none"/>
<path d="M555.2,412.0 L576.1,414.3 M581.6,416.2 L605.0,418.5" stroke="#2a2a2a" stroke-width=".8" fill="none"/>
<line x1="615.3" y1="386.9" x2="625.1" y2="406.4" stroke="#e2e2e2" stroke-width="1.1"/>
<line x1="616.0" y1="407.2" x2="625.8" y2="427.6" stroke="#e2e2e2" stroke-width="1.1"/>
<line x1="609.0" y1="389.4" x2="612.8" y2="399.5" stroke="#d8d8d8" stroke-width="1"/>
<line x1="612.2" y1="406.4" x2="612.2" y2="413.8" stroke="#c8c8c8" stroke-width="1"/>
<path d="M362.5,392.2 L342,392.2 Q328.5,392.7 307.0,397.3 Q299.0,402.3 286.9,417.3" fill="none" stroke="#0c0c0e" stroke-width="6.6"/>
<line x1="337.1" y1="398.5" x2="336.4" y2="431.8" stroke="#1c1c1c" stroke-width="1.3"/>
<path d="M312.0,401.0 H334.1 M340.1,400.0 H358.8" stroke="#2a2a2a" stroke-width=".8" fill="none"/>
<path d="M312.0,406.6 H334.0 M339.9,405.6 H358.7" stroke="#2a2a2a" stroke-width=".8" fill="none"/>
<path d="M312.0,412.1 H333.9 M339.8,411.1 H358.6" stroke="#2a2a2a" stroke-width=".8" fill="none"/>
<path d="M312.0,417.7 H333.8 M339.7,416.7 H358.5" stroke="#2a2a2a" stroke-width=".8" fill="none"/>
<path d="M312.0,423.3 H333.7 M339.6,422.3 H358.4" stroke="#2a2a2a" stroke-width=".8" fill="none"/>
<path d="M312.0,428.9 H333.6 M339.5,427.9 H358.4" stroke="#2a2a2a" stroke-width=".8" fill="none"/>
<polygon points="551.8,415.8 603.0,423.8 611.0,427.8 621.0,436.8 621.0,444.3 611.0,435.3 603.0,431.3 551.9,423.3" fill="#0c0c0e"/>
<polygon points="551.8,415.8 603.0,423.8 611.0,427.8 610.0,430.2 603.0,427.2 551.9,419.2" fill="#2f2f33"/>
<line x1="579.1" y1="430.5" x2="579.8" y2="463.8" stroke="#1c1c1c" stroke-width="1.3"/>
<path d="M555.5,428.2 L576.5,430.6 M581.9,432.4 L605.0,434.8" stroke="#2a2a2a" stroke-width=".8" fill="none"/>
<path d="M555.6,433.8 L576.6,436.2 M582.0,438.0 L605.0,440.3" stroke="#2a2a2a" stroke-width=".8" fill="none"/>
<path d="M555.7,439.4 L576.7,441.7 M582.1,443.6 L605.0,445.9" stroke="#2a2a2a" stroke-width=".8" fill="none"/>
<path d="M555.8,445.0 L576.8,447.3 M582.3,449.2 L605.0,451.5" stroke="#2a2a2a" stroke-width=".8" fill="none"/>
<path d="M555.9,450.6 L576.9,452.9 M582.4,454.7 L605.0,457.1" stroke="#2a2a2a" stroke-width=".8" fill="none"/>
<path d="M556.0,456.1 L577.0,458.5 M582.5,460.3 L605.0,462.7" stroke="#2a2a2a" stroke-width=".8" fill="none"/>
<line x1="616.4" y1="430.2" x2="626.2" y2="450.8" stroke="#e2e2e2" stroke-width="1.1"/>
<line x1="616.8" y1="451.7" x2="626.6" y2="472.8" stroke="#e2e2e2" stroke-width="1.1"/>
<line x1="609.8" y1="432.9" x2="613.6" y2="443.6" stroke="#d8d8d8" stroke-width="1"/>
<line x1="612.2" y1="450.8" x2="612.2" y2="458.5" stroke="#c8c8c8" stroke-width="1"/>
<path d="M362.5,436.1 L342,436.1 Q328.5,436.6 307.0,440.1 Q299.0,445.1 285.6,455.4" fill="none" stroke="#0c0c0e" stroke-width="7.4"/>
<line x1="336.2" y1="442.8" x2="335.4" y2="477.4" stroke="#1c1c1c" stroke-width="1.3"/>
<path d="M312.0,445.4 H333.2 M339.2,444.4 H358.1" stroke="#2a2a2a" stroke-width=".8" fill="none"/>
<path d="M312.0,451.2 H333.1 M339.1,450.2 H358.0" stroke="#2a2a2a" stroke-width=".8" fill="none"/>
<path d="M312.0,456.9 H333.0 M339.0,455.9 H357.9" stroke="#2a2a2a" stroke-width=".8" fill="none"/>
<path d="M312.0,462.7 H332.9 M338.9,461.7 H357.8" stroke="#2a2a2a" stroke-width=".8" fill="none"/>
<path d="M312.0,468.5 H332.8 M338.7,467.5 H357.7" stroke="#2a2a2a" stroke-width=".8" fill="none"/>
<path d="M312.0,474.2 H332.6 M338.6,473.2 H357.6" stroke="#2a2a2a" stroke-width=".8" fill="none"/>
<polygon points="552.6,460.1 603.0,468.1 611.0,472.1 621.0,481.1 621.0,489.4 611.0,480.4 603.0,476.3 552.8,468.3" fill="#0c0c0e"/>
<polygon points="552.6,460.1 603.0,468.1 611.0,472.1 610.0,474.8 603.0,471.8 552.7,463.8" fill="#2f2f33"/>
<line x1="580.0" y1="475.5" x2="580.2" y2="511.9" stroke="#1c1c1c" stroke-width="1.3"/>
<path d="M556.4,473.7 L577.4,476.0 M582.9,477.8 L605.0,480.2" stroke="#2a2a2a" stroke-width=".8" fill="none"/>
<path d="M556.5,479.7 L577.5,482.1 M583.0,483.9 L605.0,486.2" stroke="#2a2a2a" stroke-width=".8" fill="none"/>
<path d="M556.6,485.8 L577.5,488.1 M583.0,489.9 L605.0,492.3" stroke="#2a2a2a" stroke-width=".8" fill="none"/>
<path d="M556.7,491.8 L577.5,494.1 M583.0,496.0 L605.0,498.3" stroke="#2a2a2a" stroke-width=".8" fill="none"/>
<path d="M556.8,497.9 L577.5,500.2 M583.0,502.0 L605.0,504.4" stroke="#2a2a2a" stroke-width=".8" fill="none"/>
<path d="M556.9,503.9 L577.5,506.2 M583.0,508.1 L605.0,510.4" stroke="#2a2a2a" stroke-width=".8" fill="none"/>
<line x1="617.1" y1="475.7" x2="626.9" y2="498.2" stroke="#e2e2e2" stroke-width="1.1"/>
<line x1="617.4" y1="499.3" x2="627.2" y2="522.8" stroke="#e2e2e2" stroke-width="1.1"/>
<line x1="609.8" y1="478.5" x2="613.6" y2="490.3" stroke="#d8d8d8" stroke-width="1"/>
<line x1="612.2" y1="498.2" x2="612.2" y2="506.9" stroke="#c8c8c8" stroke-width="1"/>
<path d="M362.5,482.1 L342,482.1 Q328.5,482.6 307.0,483.6 Q299.0,488.6 284.7,493.6" fill="none" stroke="#0c0c0e" stroke-width="8.5"/>
<line x1="335.4" y1="489.3" x2="335.4" y2="527.7" stroke="#1c1c1c" stroke-width="1.3"/>
<path d="M312.0,492.4 H332.5 M338.5,491.4 H357.5" stroke="#2a2a2a" stroke-width=".8" fill="none"/>
<path d="M312.0,498.7 H332.5 M338.5,497.7 H357.5" stroke="#2a2a2a" stroke-width=".8" fill="none"/>
<path d="M312.0,505.1 H332.5 M338.5,504.1 H357.5" stroke="#2a2a2a" stroke-width=".8" fill="none"/>
<path d="M312.0,511.4 H332.5 M338.5,510.4 H357.5" stroke="#2a2a2a" stroke-width=".8" fill="none"/>
<path d="M312.0,517.8 H332.5 M338.5,516.8 H357.5" stroke="#2a2a2a" stroke-width=".8" fill="none"/>
<path d="M312.0,524.1 H332.5 M338.5,523.1 H357.5" stroke="#2a2a2a" stroke-width=".8" fill="none"/>
<polygon points="553.5,508.2 603.0,516.2 611.0,520.3 621.0,529.3 621.0,538.9 611.0,529.9 603.0,525.9 553.7,517.8" fill="#0c0c0e"/>
<polygon points="553.5,508.2 603.0,516.2 611.0,520.3 610.0,523.6 603.0,520.6 553.6,512.6" fill="#2f2f33"/>
<line x1="580.2" y1="525.0" x2="580.2" y2="563.4" stroke="#1c1c1c" stroke-width="1.3"/>
<path d="M557.3,523.4 L577.5,525.8 M583.0,527.6 L605.0,529.9" stroke="#2a2a2a" stroke-width=".8" fill="none"/>
<path d="M557.4,529.8 L577.5,532.1 M583.0,533.9 L605.0,536.3" stroke="#2a2a2a" stroke-width=".8" fill="none"/>
<path d="M557.5,536.1 L577.5,538.4 M583.0,540.3 L605.0,542.6" stroke="#2a2a2a" stroke-width=".8" fill="none"/>
<path d="M557.7,542.4 L577.5,544.8 M583.0,546.6 L605.0,549.0" stroke="#2a2a2a" stroke-width=".8" fill="none"/>
<path d="M557.8,548.8 L577.5,551.1 M583.0,553.0 L605.0,555.3" stroke="#2a2a2a" stroke-width=".8" fill="none"/>
<path d="M557.9,555.1 L577.5,557.5 M583.0,559.3 L605.0,561.7" stroke="#2a2a2a" stroke-width=".8" fill="none"/>
<line x1="617.7" y1="525.9" x2="627.5" y2="549.6" stroke="#e2e2e2" stroke-width="1.1"/>
<line x1="617.9" y1="550.6" x2="627.7" y2="574.4" stroke="#e2e2e2" stroke-width="1.1"/>
<line x1="609.8" y1="529.0" x2="613.6" y2="541.3" stroke="#d8d8d8" stroke-width="1"/>
<line x1="612.2" y1="549.6" x2="612.2" y2="558.3" stroke="#c8c8c8" stroke-width="1"/>
<path d="M362.5,532.7 L342,532.7 Q328.5,533.2 307.0,533.7 Q299.0,538.7 284.3,543.1" fill="none" stroke="#0c0c0e" stroke-width="9.0"/>
<line x1="335.4" y1="540.2" x2="335.4" y2="579.3" stroke="#1c1c1c" stroke-width="1.3"/>
<path d="M312.0,543.4 H332.5 M338.5,542.4 H357.5" stroke="#2a2a2a" stroke-width=".8" fill="none"/>
<path d="M312.0,549.8 H332.5 M338.5,548.8 H357.5" stroke="#2a2a2a" stroke-width=".8" fill="none"/>
<path d="M312.0,556.3 H332.5 M338.5,555.3 H357.5" stroke="#2a2a2a" stroke-width=".8" fill="none"/>
<path d="M312.0,562.7 H332.5 M338.5,561.7 H357.5" stroke="#2a2a2a" stroke-width=".8" fill="none"/>
<path d="M312.0,569.2 H332.5 M338.5,568.2 H357.5" stroke="#2a2a2a" stroke-width=".8" fill="none"/>
<path d="M312.0,575.7 H332.5 M338.5,574.7 H357.5" stroke="#2a2a2a" stroke-width=".8" fill="none"/>
<polygon points="554.5,559.7 603.0,567.7 611.0,571.7 621.0,580.7 621.0,590.4 611.0,581.4 603.0,577.4 554.5,569.4" fill="#0c0c0e"/>
<polygon points="554.5,559.7 603.0,567.7 611.0,571.7 610.0,575.1 603.0,572.1 554.5,564.1" fill="#2f2f33"/>
<line x1="580.2" y1="576.6" x2="580.2" y2="616.0" stroke="#1c1c1c" stroke-width="1.3"/>
<path d="M558.0,575.1 L577.5,577.4 M583.0,579.3 L605.0,581.6" stroke="#2a2a2a" stroke-width=".8" fill="none"/>
<path d="M558.0,581.6 L577.5,583.9 M583.0,585.8 L605.0,588.1" stroke="#2a2a2a" stroke-width=".8" fill="none"/>
<path d="M558.0,588.1 L577.5,590.4 M583.0,592.3 L605.0,594.6" stroke="#2a2a2a" stroke-width=".8" fill="none"/>
<path d="M558.0,594.6 L577.5,596.9 M583.0,598.8 L605.0,601.1" stroke="#2a2a2a" stroke-width=".8" fill="none"/>
<path d="M558.0,601.1 L577.5,603.4 M583.0,605.3 L605.0,607.6" stroke="#2a2a2a" stroke-width=".8" fill="none"/>
<path d="M558.0,607.6 L577.5,609.9 M583.0,611.8 L605.0,614.1" stroke="#2a2a2a" stroke-width=".8" fill="none"/>
<line x1="618.2" y1="577.5" x2="628.0" y2="601.8" stroke="#e2e2e2" stroke-width="1.1"/>
<line x1="618.4" y1="602.8" x2="628.2" y2="627.6" stroke="#e2e2e2" stroke-width="1.1"/>
<line x1="609.8" y1="580.7" x2="613.6" y2="593.3" stroke="#d8d8d8" stroke-width="1"/>
<line x1="612.2" y1="601.8" x2="612.2" y2="610.8" stroke="#c8c8c8" stroke-width="1"/>
<path d="M362.5,584.4 L342,584.4 Q328.5,584.9 307.0,585.0 Q299.0,590.0 283.8,594.0" fill="none" stroke="#0c0c0e" stroke-width="9.2"/>
<line x1="335.4" y1="592.0" x2="335.4" y2="632.8" stroke="#1c1c1c" stroke-width="1.3"/>
<path d="M312.0,595.4 H332.5 M338.5,594.4 H357.5" stroke="#2a2a2a" stroke-width=".8" fill="none"/>
<path d="M312.0,602.1 H332.5 M338.5,601.1 H357.5" stroke="#2a2a2a" stroke-width=".8" fill="none"/>
<path d="M312.0,608.8 H332.5 M338.5,607.8 H357.5" stroke="#2a2a2a" stroke-width=".8" fill="none"/>
<path d="M312.0,615.5 H332.5 M338.5,614.5 H357.5" stroke="#2a2a2a" stroke-width=".8" fill="none"/>
<path d="M312.0,622.2 H332.5 M338.5,621.2 H357.5" stroke="#2a2a2a" stroke-width=".8" fill="none"/>
<path d="M312.0,628.9 H332.5 M338.5,627.9 H357.5" stroke="#2a2a2a" stroke-width=".8" fill="none"/>
<polygon points="554.5,612.3 603.0,620.3 611.0,624.3 621.0,633.3 621.0,643.4 611.0,634.4 603.0,630.4 554.5,622.4" fill="#0c0c0e"/>
<polygon points="554.5,612.3 603.0,620.3 611.0,624.3 610.0,627.8 603.0,624.8 554.5,616.8" fill="#2f2f33"/>
<line x1="580.2" y1="629.6" x2="580.2" y2="671.3" stroke="#1c1c1c" stroke-width="1.3"/>
<path d="M558.0,628.4 L577.5,630.7 M583.0,632.6 L605.0,634.9" stroke="#2a2a2a" stroke-width=".8" fill="none"/>
<path d="M558.0,635.2 L577.5,637.6 M583.0,639.4 L605.0,641.7" stroke="#2a2a2a" stroke-width=".8" fill="none"/>
<path d="M558.0,642.1 L577.5,644.4 M583.0,646.3 L605.0,648.6" stroke="#2a2a2a" stroke-width=".8" fill="none"/>
<path d="M558.0,648.9 L577.5,651.3 M583.0,653.1 L605.0,655.5" stroke="#2a2a2a" stroke-width=".8" fill="none"/>
<path d="M558.0,655.8 L577.5,658.1 M583.0,660.0 L605.0,662.3" stroke="#2a2a2a" stroke-width=".8" fill="none"/>
<path d="M558.0,662.7 L577.5,665.0 M583.0,666.8 L605.0,669.2" stroke="#2a2a2a" stroke-width=".8" fill="none"/>
<line x1="618.6" y1="630.9" x2="628.4" y2="656.5" stroke="#e2e2e2" stroke-width="1.1"/>
<line x1="618.8" y1="657.6" x2="628.6" y2="684.0" stroke="#e2e2e2" stroke-width="1.1"/>
<line x1="609.8" y1="634.2" x2="613.6" y2="647.5" stroke="#d8d8d8" stroke-width="1"/>
<line x1="612.2" y1="656.5" x2="612.2" y2="666.1" stroke="#c8c8c8" stroke-width="1"/>
<path d="M362.5,638.1 L342,638.1 Q328.5,638.6 307.0,638.6 Q299.0,643.6 283.4,647.6" fill="none" stroke="#0c0c0e" stroke-width="9.7"/>
<line x1="335.4" y1="645.9" x2="335.4" y2="689.5" stroke="#1c1c1c" stroke-width="1.3"/>
<path d="M312.0,649.6 H332.5 M338.5,648.6 H357.5" stroke="#2a2a2a" stroke-width=".8" fill="none"/>
<path d="M312.0,656.8 H332.5 M338.5,655.8 H357.5" stroke="#2a2a2a" stroke-width=".8" fill="none"/>
<path d="M312.0,663.9 H332.5 M338.5,662.9 H357.5" stroke="#2a2a2a" stroke-width=".8" fill="none"/>
<path d="M312.0,671.0 H332.5 M338.5,670.0 H357.5" stroke="#2a2a2a" stroke-width=".8" fill="none"/>
<path d="M312.0,678.1 H332.5 M338.5,677.1 H357.5" stroke="#2a2a2a" stroke-width=".8" fill="none"/>
<path d="M312.0,685.3 H332.5 M338.5,684.3 H357.5" stroke="#2a2a2a" stroke-width=".8" fill="none"/>
<polygon points="554.5,667.6 603.0,675.7 611.0,679.7 621.0,688.7 621.0,699.4 611.0,690.4 603.0,686.4 554.5,678.4" fill="#0c0c0e"/>
<polygon points="554.5,667.6 603.0,675.7 611.0,679.7 610.0,683.5 603.0,680.5 554.5,672.5" fill="#2f2f33"/>
<line x1="580.2" y1="685.6" x2="580.2" y2="729.3" stroke="#1c1c1c" stroke-width="1.3"/>
<path d="M558.0,684.6 L577.5,687.0 M583.0,688.8 L605.0,691.2" stroke="#2a2a2a" stroke-width=".8" fill="none"/>
<path d="M558.0,691.8 L577.5,694.1 M583.0,696.0 L605.0,698.3" stroke="#2a2a2a" stroke-width=".8" fill="none"/>
<path d="M558.0,699.0 L577.5,701.3 M583.0,703.1 L605.0,705.5" stroke="#2a2a2a" stroke-width=".8" fill="none"/>
<path d="M558.0,706.1 L577.5,708.5 M583.0,710.3 L605.0,712.6" stroke="#2a2a2a" stroke-width=".8" fill="none"/>
<path d="M558.0,713.3 L577.5,715.6 M583.0,717.4 L605.0,719.8" stroke="#2a2a2a" stroke-width=".8" fill="none"/>
<path d="M558.0,720.4 L577.5,722.8 M583.0,724.6 L605.0,726.9" stroke="#2a2a2a" stroke-width=".8" fill="none"/>
<line x1="619.0" y1="687.5" x2="628.8" y2="714.2" stroke="#e2e2e2" stroke-width="1.1"/>
<line x1="619.0" y1="715.4" x2="628.8" y2="742.1" stroke="#e2e2e2" stroke-width="1.1"/>
<line x1="609.8" y1="691.0" x2="613.6" y2="705.0" stroke="#d8d8d8" stroke-width="1"/>
<line x1="612.2" y1="714.2" x2="612.2" y2="724.1" stroke="#c8c8c8" stroke-width="1"/>
<path d="M362.5,695.1 L342,695.1 Q328.5,695.6 307.0,695.6 Q299.0,700.6 283.0,704.6" fill="none" stroke="#0c0c0e" stroke-width="10.2"/>
<line x1="335.4" y1="703.2" x2="335.4" y2="747.5" stroke="#1c1c1c" stroke-width="1.3"/>
<path d="M312.0,707.0 H332.5 M338.5,706.0 H357.5" stroke="#2a2a2a" stroke-width=".8" fill="none"/>
<path d="M312.0,714.2 H332.5 M338.5,713.2 H357.5" stroke="#2a2a2a" stroke-width=".8" fill="none"/>
<path d="M312.0,721.5 H332.5 M338.5,720.5 H357.5" stroke="#2a2a2a" stroke-width=".8" fill="none"/>
<path d="M312.0,728.7 H332.5 M338.5,727.7 H357.5" stroke="#2a2a2a" stroke-width=".8" fill="none"/>
<path d="M312.0,736.0 H332.5 M338.5,735.0 H357.5" stroke="#2a2a2a" stroke-width=".8" fill="none"/>
<path d="M312.0,743.2 H332.5 M338.5,742.2 H357.5" stroke="#2a2a2a" stroke-width=".8" fill="none"/>
<line x1="619.0" y1="745.6" x2="628.8" y2="772.2" stroke="#e2e2e2" stroke-width="1.1"/>
<line x1="619.0" y1="773.4" x2="628.8" y2="800.1" stroke="#e2e2e2" stroke-width="1.1"/>
<line x1="609.8" y1="749.0" x2="613.6" y2="763.0" stroke="#d8d8d8" stroke-width="1"/>
<line x1="612.2" y1="772.2" x2="612.2" y2="782.1" stroke="#c8c8c8" stroke-width="1"/>
<line x1="619.0" y1="803.6" x2="628.8" y2="830.2" stroke="#e2e2e2" stroke-width="1.1"/>
<line x1="619.0" y1="831.4" x2="628.8" y2="858.1" stroke="#e2e2e2" stroke-width="1.1"/>
<line x1="609.8" y1="807.0" x2="613.6" y2="821.0" stroke="#d8d8d8" stroke-width="1"/>
<line x1="612.2" y1="830.2" x2="612.2" y2="840.1" stroke="#c8c8c8" stroke-width="1"/>
<polyline points="380.9,197.6 386.5,198.3 392.0,198.5 397.6,199.2 403.2,199.5" fill="none" stroke="#262626" stroke-width=".9" stroke-opacity="0.25"/>
<polyline points="406.9,198.8 412.0,199.3 417.1,199.6 422.2,200.2 427.3,200.4" fill="none" stroke="#262626" stroke-width=".9" stroke-opacity="0.25"/>
<polyline points="440.3,199.9 444.9,199.6 449.6,199.0 454.2,198.7 458.9,198.1" fill="none" stroke="#262626" stroke-width=".9" stroke-opacity="0.25"/>
<polyline points="481.1,198.5 486.4,199.1 491.6,199.4 496.9,200.0" fill="none" stroke="#262626" stroke-width=".9" stroke-opacity="0.25"/>
<polyline points="513.6,200.6 518.7,201.2 523.8,201.5 528.9,202.1 534.0,202.4" fill="none" stroke="#262626" stroke-width=".9" stroke-opacity="0.25"/>
<polyline points="380.9,199.6 386.5,200.2 392.0,200.5 397.6,201.1 403.2,201.4" fill="none" stroke="#262626" stroke-width=".9" stroke-opacity="0.25"/>
<polyline points="406.9,200.7 412.0,201.3 417.1,201.5 422.2,202.1 427.3,202.4" fill="none" stroke="#262626" stroke-width=".9" stroke-opacity="0.25"/>
<polyline points="440.3,201.8 444.9,201.5 449.6,200.9 454.2,200.6 458.9,200.0" fill="none" stroke="#262626" stroke-width=".9" stroke-opacity="0.25"/>
<polyline points="481.1,200.4 486.4,201.0 491.6,201.3 496.9,202.0" fill="none" stroke="#262626" stroke-width=".9" stroke-opacity="0.25"/>
<polyline points="513.6,202.5 518.7,203.1 523.8,203.4 528.9,204.0 534.0,204.3" fill="none" stroke="#262626" stroke-width=".9" stroke-opacity="0.25"/>
<polyline points="380.9,201.5 386.5,202.1 392.0,202.4 397.6,203.0 403.2,203.3" fill="none" stroke="#262626" stroke-width=".9" stroke-opacity="0.25"/>
<polyline points="406.9,202.6 412.0,203.2 417.1,203.4 422.2,204.0 427.3,204.3" fill="none" stroke="#262626" stroke-width=".9" stroke-opacity="0.25"/>
<polyline points="440.3,203.7 444.9,203.4 449.6,202.8 454.2,202.5 458.9,201.9" fill="none" stroke="#262626" stroke-width=".9" stroke-opacity="0.25"/>
<polyline points="481.1,202.3 486.4,202.9 491.6,203.2 496.9,203.9" fill="none" stroke="#262626" stroke-width=".9" stroke-opacity="0.25"/>
<polyline points="513.6,204.4 518.7,205.0 523.9,205.3 529.0,205.9 534.1,206.2" fill="none" stroke="#262626" stroke-width=".9" stroke-opacity="0.25"/>
<polyline points="380.9,203.4 386.5,204.0 392.0,204.3 397.6,204.9 403.1,205.2" fill="none" stroke="#262626" stroke-width=".9" stroke-opacity="0.25"/>
<polyline points="406.9,204.5 412.0,205.1 417.1,205.3 422.2,205.9 427.3,206.2" fill="none" stroke="#262626" stroke-width=".9" stroke-opacity="0.25"/>
<polyline points="440.3,205.6 444.9,205.3 449.6,204.7 454.2,204.4 458.9,203.8" fill="none" stroke="#262626" stroke-width=".9" stroke-opacity="0.25"/>
<polyline points="481.1,204.2 486.4,204.9 491.7,205.2 496.9,205.8" fill="none" stroke="#262626" stroke-width=".9" stroke-opacity="0.25"/>
<polyline points="513.7,206.3 518.8,207.0 523.9,207.2 529.1,207.9 534.2,208.2" fill="none" stroke="#262626" stroke-width=".9" stroke-opacity="0.25"/>
<polyline points="380.9,205.3 386.4,205.9 392.0,206.2 397.5,206.8 403.1,207.1" fill="none" stroke="#262626" stroke-width=".9" stroke-opacity="0.25"/>
<polyline points="406.8,206.4 411.9,207.0 417.0,207.3 422.1,207.9 427.2,208.1" fill="none" stroke="#262626" stroke-width=".9" stroke-opacity="0.25"/>
<polyline points="440.3,207.5 444.9,207.3 449.6,206.6 454.2,206.4 458.9,205.7" fill="none" stroke="#262626" stroke-width=".9" stroke-opacity="0.25"/>
<polyline points="481.2,206.1 486.4,206.8 491.7,207.1 497.0,207.7" fill="none" stroke="#262626" stroke-width=".9" stroke-opacity="0.25"/>
<polyline points="513.7,208.2 518.9,208.9 524.0,209.2 529.1,209.8 534.3,210.1" fill="none" stroke="#262626" stroke-width=".9" stroke-opacity="0.25"/>
<polyline points="380.8,207.2 386.3,207.8 391.9,208.1 397.5,208.8 403.0,209.0" fill="none" stroke="#262626" stroke-width=".9" stroke-opacity="0.25"/>
<polyline points="406.8,208.3 411.9,208.9 417.0,209.2 422.1,209.8 427.2,210.0" fill="none" stroke="#262626" stroke-width=".9" stroke-opacity="0.25"/>
<polyline points="440.2,209.5 444.9,209.2 449.6,208.6 454.2,208.3 458.9,207.6" fill="none" stroke="#262626" stroke-width=".9" stroke-opacity="0.25"/>
<polyline points="481.2,208.1 486.5,208.7 491.7,209.0 497.0,209.6" fill="none" stroke="#262626" stroke-width=".9" stroke-opacity="0.25"/>
<polyline points="513.8,210.2 518.9,210.8 524.1,211.1 529.2,211.7 534.4,212.0" fill="none" stroke="#262626" stroke-width=".9" stroke-opacity="0.25"/>
<polyline points="380.7,209.1 386.3,209.8 391.8,210.1 397.4,210.7 403.0,211.0" fill="none" stroke="#262626" stroke-width=".9" stroke-opacity="0.25"/>
<polyline points="406.7,210.3 411.8,210.9 416.9,211.1 422.1,211.7 427.2,211.9" fill="none" stroke="#262626" stroke-width=".9" stroke-opacity="0.25"/>
<polyline points="440.2,211.4 444.9,211.1 449.6,210.5 454.2,210.2 458.9,209.6" fill="none" stroke="#262626" stroke-width=".9" stroke-opacity="0.25"/>
<polyline points="481.2,210.0 486.5,210.6 491.8,210.9 497.1,211.6" fill="none" stroke="#262626" stroke-width=".9" stroke-opacity="0.25"/>
<polyline points="513.9,212.1 519.0,212.7 524.1,213.0 529.3,213.6 534.4,213.9" fill="none" stroke="#262626" stroke-width=".9" stroke-opacity="0.25"/>
<polyline points="380.6,211.1 386.2,211.7 391.8,212.0 397.3,212.6 402.9,212.9" fill="none" stroke="#262626" stroke-width=".9" stroke-opacity="0.25"/>
<polyline points="406.7,212.2 411.8,212.8 416.9,213.0 422.0,213.6 427.1,213.9" fill="none" stroke="#262626" stroke-width=".9" stroke-opacity="0.25"/>
<polyline points="440.2,213.3 444.9,213.0 449.5,212.4 454.2,212.1 458.9,211.5" fill="none" stroke="#262626" stroke-width=".9" stroke-opacity="0.25"/>
<polyline points="481.2,211.9 486.5,212.5 491.8,212.8 497.1,213.5" fill="none" stroke="#262626" stroke-width=".9" stroke-opacity="0.25"/>
<polyline points="513.9,214.0 519.1,214.7 524.2,215.0 529.4,215.7 534.5,216.0" fill="none" stroke="#262626" stroke-width=".9" stroke-opacity="0.25"/>
<polyline points="380.6,211.6 386.2,212.3 391.7,212.5 397.3,213.2 402.9,213.5" fill="none" stroke="#262626" stroke-width=".9" stroke-opacity="0.25"/>
<polyline points="406.7,212.7 411.8,213.3 416.9,213.6 422.0,214.2 427.1,214.5" fill="none" stroke="#262626" stroke-width=".9" stroke-opacity="0.25"/>
<polyline points="440.2,213.9 444.9,213.6 449.5,213.0 454.2,212.7 458.9,212.1" fill="none" stroke="#262626" stroke-width=".9" stroke-opacity="0.25"/>
<polyline points="481.2,212.5 486.5,213.1 491.8,213.4 497.1,214.1" fill="none" stroke="#262626" stroke-width=".9" stroke-opacity="0.25"/>
<polyline points="513.9,214.6 519.1,215.3 524.2,215.7 529.4,216.4 534.5,216.7" fill="none" stroke="#262626" stroke-width=".9" stroke-opacity="0.25"/>
<polyline points="380.5,213.6 386.1,214.2 391.7,214.5 397.3,215.2 402.8,215.5" fill="none" stroke="#262626" stroke-width=".9" stroke-opacity="0.25"/>
<polyline points="406.6,214.8 411.7,215.4 416.8,215.7 422.0,216.4 427.1,216.7" fill="none" stroke="#262626" stroke-width=".9" stroke-opacity="0.25"/>
<polyline points="440.2,216.0 444.9,215.7 449.5,215.0 454.2,214.7 458.9,214.0" fill="none" stroke="#262626" stroke-width=".9" stroke-opacity="0.25"/>
<polyline points="481.3,214.4 486.6,215.1 491.9,215.5 497.2,216.2" fill="none" stroke="#262626" stroke-width=".9" stroke-opacity="0.25"/>
<polyline points="514.0,216.8 519.2,217.6 524.3,217.9 529.5,218.7 534.6,219.1" fill="none" stroke="#262626" stroke-width=".9" stroke-opacity="0.25"/>
<polyline points="380.4,215.6 386.0,216.4 391.6,216.7 397.2,217.4 402.8,217.8" fill="none" stroke="#262626" stroke-width=".9" stroke-opacity="0.25"/>
<polyline points="406.5,216.9 411.7,217.7 416.8,218.0 421.9,218.7 427.1,219.0" fill="none" stroke="#262626" stroke-width=".9" stroke-opacity="0.25"/>
<polyline points="440.2,218.3 444.8,218.0 449.5,217.2 454.2,216.9 458.9,216.1" fill="none" stroke="#262626" stroke-width=".9" stroke-opacity="0.25"/>
<polyline points="481.3,216.6 486.6,217.4 491.9,217.7 497.2,218.5" fill="none" stroke="#262626" stroke-width=".9" stroke-opacity="0.25"/>
<polyline points="514.1,219.2 519.2,220.0 524.4,220.4 529.6,221.2 534.7,221.6" fill="none" stroke="#262626" stroke-width=".9" stroke-opacity="0.25"/>
<polyline points="380.3,217.9 385.9,218.7 391.5,219.0 397.1,219.8 402.7,220.2" fill="none" stroke="#262626" stroke-width=".9" stroke-opacity="0.25"/>
<polyline points="406.5,219.3 411.6,220.1 416.8,220.4 421.9,221.2 427.0,221.5" fill="none" stroke="#262626" stroke-width=".9" stroke-opacity="0.25"/>
<polyline points="440.1,220.8 444.8,220.4 449.5,219.6 454.2,219.2 458.9,218.4" fill="none" stroke="#262626" stroke-width=".9" stroke-opacity="0.25"/>
<polyline points="481.3,219.0 486.6,219.8 491.9,220.2 497.3,221.0" fill="none" stroke="#262626" stroke-width=".9" stroke-opacity="0.25"/>
<polyline points="514.1,221.7 519.3,222.6 524.5,223.0 529.7,223.9 534.8,224.3" fill="none" stroke="#262626" stroke-width=".9" stroke-opacity="0.25"/>
<polyline points="380.2,220.3 385.8,221.2 391.4,221.6 397.0,222.4 402.6,222.8" fill="none" stroke="#262626" stroke-width=".9" stroke-opacity="0.25"/>
<polyline points="406.4,221.8 411.5,222.7 416.7,223.0 421.8,223.8 427.0,224.2" fill="none" stroke="#262626" stroke-width=".9" stroke-opacity="0.25"/>
<polyline points="440.1,223.4 444.8,223.0 449.5,222.1 454.2,221.7 458.9,220.9" fill="none" stroke="#262626" stroke-width=".9" stroke-opacity="0.25"/>
<polyline points="481.4,221.5 486.7,222.3 492.0,222.8 497.3,223.6" fill="none" stroke="#262626" stroke-width=".9" stroke-opacity="0.25"/>
<polyline points="514.2,224.4 519.4,225.3 524.6,225.7 529.8,226.7 535.0,227.1" fill="none" stroke="#262626" stroke-width=".9" stroke-opacity="0.25"/>
<polyline points="380.1,223.0 385.7,223.8 391.3,224.2 396.9,225.1 402.6,225.6" fill="none" stroke="#262626" stroke-width=".9" stroke-opacity="0.25"/>
<polyline points="406.3,224.5 411.5,225.4 416.6,225.8 421.8,226.7 426.9,227.0" fill="none" stroke="#262626" stroke-width=".9" stroke-opacity="0.25"/>
<polyline points="440.1,226.2 444.8,225.8 449.5,224.9 454.2,224.4 458.9,223.5" fill="none" stroke="#262626" stroke-width=".9" stroke-opacity="0.25"/>
<polyline points="481.4,224.1 486.7,225.1 492.0,225.5 497.4,226.4" fill="none" stroke="#262626" stroke-width=".9" stroke-opacity="0.25"/>
<polyline points="514.3,227.2 519.5,228.2 524.7,228.6 529.9,229.6 535.1,230.1" fill="none" stroke="#262626" stroke-width=".9" stroke-opacity="0.25"/>
<polyline points="380.0,225.7 385.6,226.6 391.3,227.1 396.9,228.0 402.5,228.5" fill="none" stroke="#262626" stroke-width=".9" stroke-opacity="0.25"/>
<polyline points="406.3,227.4 411.4,228.3 416.6,228.7 421.7,229.6 426.9,230.0" fill="none" stroke="#262626" stroke-width=".9" stroke-opacity="0.25"/>
<polyline points="440.1,229.1 444.8,228.7 449.5,227.7 454.2,227.3 458.9,226.3" fill="none" stroke="#262626" stroke-width=".9" stroke-opacity="0.25"/>
<polyline points="481.4,227.0 486.8,227.9 492.1,228.4 497.4,229.4" fill="none" stroke="#262626" stroke-width=".9" stroke-opacity="0.25"/>
<polyline points="514.4,230.2 519.6,231.2 524.8,231.7 530.0,232.7 535.2,233.2" fill="none" stroke="#262626" stroke-width=".9" stroke-opacity="0.25"/>
<polyline points="379.9,228.6 385.5,229.6 391.2,230.1 396.8,231.1 402.4,231.5" fill="none" stroke="#262626" stroke-width=".9" stroke-opacity="0.25"/>
<polyline points="406.2,230.4 411.3,231.3 416.5,231.7 421.7,232.7 426.9,233.1" fill="none" stroke="#262626" stroke-width=".9" stroke-opacity="0.25"/>
<polyline points="440.0,232.2 444.8,231.7 449.5,230.7 454.2,230.3 458.9,229.3" fill="none" stroke="#262626" stroke-width=".9" stroke-opacity="0.27"/>
<polyline points="481.5,229.9 486.8,231.0 492.1,231.4 497.5,232.5" fill="none" stroke="#262626" stroke-width=".9" stroke-opacity="0.25"/>
<polyline points="514.5,233.4 519.7,234.4 524.9,234.9 530.1,236.0 535.3,236.4" fill="none" stroke="#262626" stroke-width=".9" stroke-opacity="0.28"/>
<polyline points="379.9,229.5 385.5,230.5 391.1,231.0 396.7,232.0 402.4,232.5" fill="none" stroke="#262626" stroke-width=".9" stroke-opacity="0.25"/>
<polyline points="406.2,231.3 411.3,232.3 416.5,232.7 421.7,233.7 426.8,234.1" fill="none" stroke="#262626" stroke-width=".9" stroke-opacity="0.26"/>
<polyline points="440.0,233.2 444.8,232.7 449.5,231.7 454.2,231.2 458.9,230.2" fill="none" stroke="#262626" stroke-width=".9" stroke-opacity="0.27"/>
<polyline points="481.5,230.9 486.8,231.9 492.2,232.4 497.5,233.4" fill="none" stroke="#262626" stroke-width=".9" stroke-opacity="0.26"/>
<polyline points="514.5,234.3 519.7,235.4 524.9,235.9 530.2,236.9 535.4,237.4" fill="none" stroke="#262626" stroke-width=".9" stroke-opacity="0.28"/>
<polyline points="379.8,232.6 385.4,233.7 391.0,234.1 396.6,235.2 402.3,235.7" fill="none" stroke="#262626" stroke-width=".9" stroke-opacity="0.27"/>
<polyline points="406.1,234.5 411.3,235.5 416.4,235.9 421.6,236.9 426.8,237.4" fill="none" stroke="#262626" stroke-width=".9" stroke-opacity="0.28"/>
<polyline points="440.0,236.4 444.7,235.9 449.5,234.8 454.2,234.4 458.9,233.3" fill="none" stroke="#262626" stroke-width=".9" stroke-opacity="0.30"/>
<polyline points="481.5,234.0 486.9,235.1 492.2,235.6 497.6,236.7" fill="none" stroke="#262626" stroke-width=".9" stroke-opacity="0.28"/>
<polyline points="514.6,237.6 519.8,238.7 525.0,239.2 530.3,240.3 535.5,240.9" fill="none" stroke="#262626" stroke-width=".9" stroke-opacity="0.31"/>
<polyline points="379.6,235.8 385.3,236.9 390.9,237.4 396.5,238.5 402.2,239.0" fill="none" stroke="#262626" stroke-width=".9" stroke-opacity="0.29"/>
<polyline points="406.0,237.8 411.2,238.8 416.4,239.3 421.5,240.3 426.7,240.8" fill="none" stroke="#262626" stroke-width=".9" stroke-opacity="0.31"/>
<polyline points="440.0,239.8 444.7,239.3 449.4,238.2 454.2,237.7 458.9,236.6" fill="none" stroke="#262626" stroke-width=".9" stroke-opacity="0.32"/>
<polyline points="481.5,237.3 486.9,238.4 492.3,238.9 497.7,240.1" fill="none" stroke="#262626" stroke-width=".9" stroke-opacity="0.30"/>
<polyline points="514.7,241.0 519.9,242.2 525.2,242.7 530.4,243.8 535.6,244.4" fill="none" stroke="#262626" stroke-width=".9" stroke-opacity="0.33"/>
<polyline points="379.5,239.2 385.1,240.3 390.8,240.8 396.4,242.0 402.1,242.5" fill="none" stroke="#262626" stroke-width=".9" stroke-opacity="0.32"/>
<polyline points="405.9,241.2 411.1,242.3 416.3,242.7 421.5,243.8 426.7,244.3" fill="none" stroke="#262626" stroke-width=".9" stroke-opacity="0.33"/>
<polyline points="440.0,243.3 444.7,242.7 449.4,241.6 454.2,241.1 458.9,239.9" fill="none" stroke="#262626" stroke-width=".9" stroke-opacity="0.35"/>
<polyline points="481.6,240.7 487.0,241.9 492.3,242.4 497.7,243.6" fill="none" stroke="#262626" stroke-width=".9" stroke-opacity="0.33"/>
<polyline points="514.8,244.6 520.1,245.7 525.3,246.3 530.5,247.5 535.8,248.0" fill="none" stroke="#262626" stroke-width=".9" stroke-opacity="0.36"/>
<polyline points="379.4,242.7 385.0,243.8 390.7,244.4 396.3,245.5 402.0,246.1" fill="none" stroke="#262626" stroke-width=".9" stroke-opacity="0.35"/>
<polyline points="405.8,244.7 411.0,245.9 416.2,246.3 421.4,247.5 426.6,247.9" fill="none" stroke="#262626" stroke-width=".9" stroke-opacity="0.36"/>
<polyline points="439.9,246.9 444.7,246.3 449.4,245.1 454.2,244.6 458.9,243.4" fill="none" stroke="#262626" stroke-width=".9" stroke-opacity="0.38"/>
<polyline points="481.6,244.2 487.0,245.4 492.4,246.0 497.8,247.2" fill="none" stroke="#262626" stroke-width=".9" stroke-opacity="0.36"/>
<polyline points="514.9,248.2 520.2,249.4 525.4,250.0 530.7,251.2 535.9,251.7" fill="none" stroke="#262626" stroke-width=".9" stroke-opacity="0.39"/>
<polyline points="379.2,246.3 384.9,247.4 390.6,248.0 396.2,249.2 401.9,249.7" fill="none" stroke="#262626" stroke-width=".9" stroke-opacity="0.37"/>
<polyline points="405.7,248.4 410.9,249.5 416.1,250.0 421.3,251.2 426.6,251.7" fill="none" stroke="#262626" stroke-width=".9" stroke-opacity="0.39"/>
<polyline points="439.9,250.6 444.6,250.0 449.4,248.8 454.2,248.2 458.9,247.0" fill="none" stroke="#262626" stroke-width=".9" stroke-opacity="0.40"/>
<polyline points="481.7,247.9 487.1,249.1 492.5,249.7 497.9,250.9" fill="none" stroke="#262626" stroke-width=".9" stroke-opacity="0.38"/>
<polyline points="515.0,251.9 520.3,253.2 525.5,253.7 530.8,255.0 536.1,255.6" fill="none" stroke="#262626" stroke-width=".9" stroke-opacity="0.41"/>
<polyline points="379.1,249.9 384.7,251.2 390.4,251.7 396.1,253.0 401.8,253.5" fill="none" stroke="#262626" stroke-width=".9" stroke-opacity="0.40"/>
<polyline points="405.6,252.1 410.8,253.3 416.1,253.8 421.3,255.0 426.5,255.5" fill="none" stroke="#262626" stroke-width=".9" stroke-opacity="0.42"/>
<polyline points="439.9,254.4 444.6,253.8 449.4,252.5 454.1,252.0 458.9,250.8" fill="none" stroke="#262626" stroke-width=".9" stroke-opacity="0.43"/>
<polyline points="481.7,251.6 487.1,252.8 492.5,253.4 498.0,254.7" fill="none" stroke="#262626" stroke-width=".9" stroke-opacity="0.41"/>
<polyline points="515.1,255.8 520.4,257.0 525.7,257.6 531.0,258.9 536.2,259.5" fill="none" stroke="#262626" stroke-width=".9" stroke-opacity="0.44"/>
<polyline points="378.9,253.7 384.6,255.0 390.3,255.5 396.0,256.8 401.7,257.4" fill="none" stroke="#262626" stroke-width=".9" stroke-opacity="0.43"/>
<polyline points="405.5,256.0 410.7,257.2 416.0,257.7 421.2,258.9 426.4,259.4" fill="none" stroke="#262626" stroke-width=".9" stroke-opacity="0.45"/>
<polyline points="439.8,258.2 444.6,257.7 449.4,256.4 454.1,255.8 458.9,254.6" fill="none" stroke="#262626" stroke-width=".9" stroke-opacity="0.46"/>
<polyline points="481.8,255.4 487.2,256.7 492.6,257.3 498.0,258.6" fill="none" stroke="#262626" stroke-width=".9" stroke-opacity="0.44"/>
<polyline points="515.2,259.7 520.5,261.0 525.8,261.6 531.1,262.9 536.4,263.5" fill="none" stroke="#262626" stroke-width=".9" stroke-opacity="0.47"/>
<polyline points="378.9,254.9 384.6,256.1 390.3,256.7 395.9,258.0 401.6,258.6" fill="none" stroke="#262626" stroke-width=".9" stroke-opacity="0.44"/>
<polyline points="405.5,257.1 410.7,258.3 416.0,258.8 421.2,260.1 426.4,260.6" fill="none" stroke="#262626" stroke-width=".9" stroke-opacity="0.45"/>
<polyline points="439.8,259.4 444.6,258.8 449.4,257.6 454.1,257.0 458.9,255.7" fill="none" stroke="#262626" stroke-width=".9" stroke-opacity="0.47"/>
<polyline points="481.8,256.6 487.2,257.9 492.6,258.5 498.1,259.8" fill="none" stroke="#262626" stroke-width=".9" stroke-opacity="0.45"/>
<polyline points="515.3,260.9 520.6,262.2 525.9,262.8 531.2,264.1 536.5,264.7" fill="none" stroke="#262626" stroke-width=".9" stroke-opacity="0.48"/>
<polyline points="378.7,258.8 384.4,260.0 390.1,260.6 395.8,261.9 401.5,262.5" fill="none" stroke="#262626" stroke-width=".9" stroke-opacity="0.47"/>
<polyline points="405.4,261.1 410.6,262.3 415.9,262.8 421.1,264.0 426.4,264.6" fill="none" stroke="#262626" stroke-width=".9" stroke-opacity="0.48"/>
<polyline points="439.8,263.4 444.6,262.8 449.4,261.5 454.1,260.9 458.9,259.6" fill="none" stroke="#262626" stroke-width=".9" stroke-opacity="0.50"/>
<polyline points="481.8,260.5 487.3,261.8 492.7,262.4 498.1,263.8" fill="none" stroke="#262626" stroke-width=".9" stroke-opacity="0.48"/>
<polyline points="515.4,264.9 520.7,266.2 526.0,266.8 531.3,268.1 536.6,268.7" fill="none" stroke="#262626" stroke-width=".9" stroke-opacity="0.51"/>
<polyline points="378.6,262.7 384.3,264.0 390.0,264.6 395.7,265.9 401.4,266.6" fill="none" stroke="#262626" stroke-width=".9" stroke-opacity="0.50"/>
<polyline points="405.3,265.1 410.5,266.3 415.8,266.8 421.0,268.1 426.3,268.6" fill="none" stroke="#262626" stroke-width=".9" stroke-opacity="0.51"/>
<polyline points="439.7,267.4 444.5,266.8 449.3,265.5 454.1,264.9 458.9,263.6" fill="none" stroke="#262626" stroke-width=".9" stroke-opacity="0.53"/>
<polyline points="481.9,264.5 487.3,265.8 492.8,266.5 498.2,267.8" fill="none" stroke="#262626" stroke-width=".9" stroke-opacity="0.51"/>
<polyline points="515.5,268.9 520.8,270.3 526.1,270.9 531.5,272.2 536.8,272.8" fill="none" stroke="#262626" stroke-width=".9" stroke-opacity="0.54"/>
<polyline points="378.4,266.8 384.1,268.1 389.9,268.7 395.6,270.0 401.3,270.6" fill="none" stroke="#262626" stroke-width=".9" stroke-opacity="0.53"/>
<polyline points="405.2,269.1 410.4,270.4 415.7,270.9 421.0,272.2 426.2,272.7" fill="none" stroke="#262626" stroke-width=".9" stroke-opacity="0.54"/>
<polyline points="439.7,271.5 444.5,270.9 449.3,269.6 454.1,269.0 458.9,267.6" fill="none" stroke="#262626" stroke-width=".9" stroke-opacity="0.56"/>
<polyline points="481.9,268.5 487.4,269.9 492.8,270.5 498.3,271.9" fill="none" stroke="#262626" stroke-width=".9" stroke-opacity="0.54"/>
<polyline points="515.6,273.0 521.0,274.4 526.3,275.0 531.6,276.3 536.9,276.9" fill="none" stroke="#262626" stroke-width=".9" stroke-opacity="0.57"/>
<polyline points="378.3,270.8 384.0,272.2 389.7,272.8 395.4,274.1 401.2,274.7" fill="none" stroke="#262626" stroke-width=".9" stroke-opacity="0.56"/>
<polyline points="405.1,273.2 410.3,274.5 415.6,275.0 420.9,276.3 426.2,276.8" fill="none" stroke="#262626" stroke-width=".9" stroke-opacity="0.57"/>
<polyline points="439.7,275.6 444.5,275.0 449.3,273.7 454.1,273.1 458.9,271.7" fill="none" stroke="#262626" stroke-width=".9" stroke-opacity="0.59"/>
<polyline points="482.0,272.6 487.5,274.0 492.9,274.6 498.4,276.0" fill="none" stroke="#262626" stroke-width=".9" stroke-opacity="0.57"/>
<polyline points="515.8,277.1 521.1,278.5 526.4,279.1 531.8,280.4 537.1,281.0" fill="none" stroke="#262626" stroke-width=".9" stroke-opacity="0.60"/>
<polyline points="378.1,274.9 383.8,276.3 389.6,276.9 395.3,278.2 401.1,278.8" fill="none" stroke="#262626" stroke-width=".9" stroke-opacity="0.59"/>
<polyline points="405.0,277.3 410.2,278.6 415.5,279.2 420.8,280.4 426.1,281.0" fill="none" stroke="#262626" stroke-width=".9" stroke-opacity="0.60"/>
<polyline points="439.6,279.8 444.5,279.1 449.3,277.8 454.1,277.2 458.9,275.8" fill="none" stroke="#262626" stroke-width=".9" stroke-opacity="0.62"/>
<polyline points="482.0,276.7 487.5,278.1 493.0,278.7 498.5,280.1" fill="none" stroke="#262626" stroke-width=".9" stroke-opacity="0.60"/>
<polyline points="515.9,281.3 521.2,282.6 526.6,283.2 531.9,284.6 537.3,285.2" fill="none" stroke="#262626" stroke-width=".9" stroke-opacity="0.63"/>
<polyline points="377.9,279.1 383.7,280.4 389.4,281.0 395.2,282.4 401.0,283.0" fill="none" stroke="#262626" stroke-width=".9" stroke-opacity="0.62"/>
<polyline points="404.9,281.5 410.2,282.7 415.5,283.3 420.7,284.5 426.1,285.1" fill="none" stroke="#262626" stroke-width=".9" stroke-opacity="0.64"/>
<polyline points="439.6,283.9 444.4,283.3 449.3,281.9 454.1,281.3 458.9,280.0" fill="none" stroke="#262626" stroke-width=".9" stroke-opacity="0.65"/>
<polyline points="482.1,280.9 487.6,282.2 493.1,282.9 498.6,284.2" fill="none" stroke="#262626" stroke-width=".9" stroke-opacity="0.63"/>
<polyline points="516.0,285.4 521.4,286.7 526.7,287.3 532.0,288.7 537.4,289.3" fill="none" stroke="#262626" stroke-width=".9" stroke-opacity="0.67"/>
<polyline points="377.8,283.2 383.5,284.5 389.3,285.1 395.1,286.5 400.9,287.1" fill="none" stroke="#262626" stroke-width=".9" stroke-opacity="0.65"/>
<polyline points="404.8,285.6 410.1,286.9 415.4,287.4 420.7,288.7 426.0,289.2" fill="none" stroke="#262626" stroke-width=".9" stroke-opacity="0.67"/>
<polyline points="439.6,288.0 444.4,287.4 449.3,286.0 454.1,285.4 458.9,284.1" fill="none" stroke="#262626" stroke-width=".9" stroke-opacity="0.69"/>
<polyline points="482.1,285.0 487.6,286.4 493.1,287.0 498.6,288.4" fill="none" stroke="#262626" stroke-width=".9" stroke-opacity="0.66"/>
<polyline points="516.1,289.5 521.4,290.8 526.8,291.4 532.1,292.8 537.4,293.4" fill="none" stroke="#262626" stroke-width=".9" stroke-opacity="0.70"/>
<polyline points="377.7,284.4 383.5,285.8 389.3,286.4 395.0,287.7 400.8,288.3" fill="none" stroke="#262626" stroke-width=".9" stroke-opacity="0.66"/>
<polyline points="404.7,286.8 410.0,288.1 415.4,288.6 420.7,289.9 426.0,290.4" fill="none" stroke="#262626" stroke-width=".9" stroke-opacity="0.68"/>
<polyline points="439.6,289.2 444.4,288.6 449.3,287.3 454.1,286.7 458.9,285.3" fill="none" stroke="#262626" stroke-width=".9" stroke-opacity="0.69"/>
<polyline points="482.2,286.2 487.7,287.6 493.1,288.2 498.6,289.6" fill="none" stroke="#262626" stroke-width=".9" stroke-opacity="0.67"/>
<polyline points="516.1,290.7 521.4,292.1 526.8,292.7 532.1,294.0 537.5,294.6" fill="none" stroke="#262626" stroke-width=".9" stroke-opacity="0.71"/>
<polyline points="377.6,288.5 383.4,289.9 389.2,290.5 395.0,291.8 400.8,292.4" fill="none" stroke="#262626" stroke-width=".9" stroke-opacity="0.69"/>
<polyline points="404.7,290.9 410.0,292.2 415.3,292.7 420.7,294.0 426.0,294.5" fill="none" stroke="#262626" stroke-width=".9" stroke-opacity="0.71"/>
<polyline points="439.6,293.3 444.4,292.7 449.3,291.4 454.1,290.8 458.9,289.4" fill="none" stroke="#262626" stroke-width=".9" stroke-opacity="0.72"/>
<polyline points="482.2,290.3 487.7,291.7 493.2,292.3 498.7,293.7" fill="none" stroke="#262626" stroke-width=".9" stroke-opacity="0.70"/>
<polyline points="516.1,294.8 521.5,296.2 526.8,296.8 532.2,298.1 537.5,298.8" fill="none" stroke="#262626" stroke-width=".9" stroke-opacity="0.74"/>
<polyline points="377.5,292.6 383.3,294.0 389.1,294.6 395.0,295.9 400.8,296.6" fill="none" stroke="#262626" stroke-width=".9" stroke-opacity="0.72"/>
<polyline points="404.7,295.0 410.0,296.3 415.3,296.9 420.6,298.1 426.0,298.7" fill="none" stroke="#262626" stroke-width=".9" stroke-opacity="0.74"/>
<polyline points="439.5,297.5 444.4,296.8 449.2,295.5 454.1,294.9 458.9,293.5" fill="none" stroke="#262626" stroke-width=".9" stroke-opacity="0.76"/>
<polyline points="482.2,294.4 487.7,295.8 493.2,296.5 498.7,297.8" fill="none" stroke="#262626" stroke-width=".9" stroke-opacity="0.73"/>
<polyline points="516.2,299.0 521.5,300.3 526.9,301.0 532.2,302.3 537.6,303.0" fill="none" stroke="#262626" stroke-width=".9" stroke-opacity="0.77"/>
<polyline points="377.5,296.8 383.3,298.1 389.1,298.7 394.9,300.1 400.7,300.7" fill="none" stroke="#262626" stroke-width=".9" stroke-opacity="0.75"/>
<polyline points="404.6,299.2 409.9,300.5 415.3,301.0 420.6,302.3 425.9,302.9" fill="none" stroke="#262626" stroke-width=".9" stroke-opacity="0.77"/>
<polyline points="439.5,301.6 444.4,301.0 449.2,299.6 454.1,299.0 458.9,297.7" fill="none" stroke="#262626" stroke-width=".9" stroke-opacity="0.79"/>
<polyline points="482.2,298.6 487.7,300.0 493.2,300.6 498.7,302.0" fill="none" stroke="#262626" stroke-width=".9" stroke-opacity="0.76"/>
<polyline points="516.2,303.2 521.6,304.5 526.9,305.2 532.3,306.6 537.6,307.2" fill="none" stroke="#262626" stroke-width=".9" stroke-opacity="0.80"/>
<polyline points="377.4,300.9 383.2,302.3 389.1,302.9 394.9,304.3 400.7,304.9" fill="none" stroke="#262626" stroke-width=".9" stroke-opacity="0.78"/>
<polyline points="404.6,303.4 409.9,304.7 415.2,305.2 420.6,306.5 425.9,307.1" fill="none" stroke="#262626" stroke-width=".9" stroke-opacity="0.80"/>
<polyline points="439.5,305.9 444.4,305.2 449.2,303.8 454.1,303.2 458.9,301.8" fill="none" stroke="#262626" stroke-width=".9" stroke-opacity="0.82"/>
<polyline points="482.2,302.8 487.7,304.2 493.3,304.8 498.8,306.2" fill="none" stroke="#262626" stroke-width=".9" stroke-opacity="0.80"/>
<polyline points="516.3,307.4 521.6,308.8 527.0,309.5 532.3,310.9 537.7,311.5" fill="none" stroke="#262626" stroke-width=".9" stroke-opacity="0.83"/>
<polyline points="377.4,305.1 383.2,306.5 389.0,307.2 394.8,308.6 400.6,309.2" fill="none" stroke="#262626" stroke-width=".9" stroke-opacity="0.81"/>
<polyline points="404.5,307.6 409.9,309.0 415.2,309.5 420.5,310.9 425.9,311.4" fill="none" stroke="#262626" stroke-width=".9" stroke-opacity="0.83"/>
<polyline points="439.5,310.2 444.4,309.5 449.2,308.1 454.1,307.5 458.9,306.1" fill="none" stroke="#262626" stroke-width=".9" stroke-opacity="0.85"/>
<polyline points="482.3,307.0 487.8,308.4 493.3,309.1 498.8,310.5" fill="none" stroke="#262626" stroke-width=".9" stroke-opacity="0.83"/>
<polyline points="516.3,311.8 521.7,313.2 527.0,313.8 532.4,315.3 537.8,316.0" fill="none" stroke="#262626" stroke-width=".9" stroke-opacity="0.86"/>
<polyline points="377.3,309.4 383.1,310.8 388.9,311.5 394.8,312.9 400.6,313.6" fill="none" stroke="#262626" stroke-width=".9" stroke-opacity="0.85"/>
<polyline points="404.5,312.0 409.8,313.3 415.2,313.9 420.5,315.3 425.9,315.9" fill="none" stroke="#262626" stroke-width=".9" stroke-opacity="0.86"/>
<polyline points="439.5,314.6 444.4,313.9 449.2,312.5 454.1,311.8 458.9,310.4" fill="none" stroke="#262626" stroke-width=".9" stroke-opacity="0.88"/>
<polyline points="482.3,311.3 487.8,312.8 493.3,313.5 498.8,315.0" fill="none" stroke="#262626" stroke-width=".9" stroke-opacity="0.86"/>
<polyline points="516.4,316.2 521.7,317.7 527.1,318.3 532.5,319.8 537.8,320.5" fill="none" stroke="#262626" stroke-width=".9" stroke-opacity="0.90"/>
<polyline points="377.3,313.8 383.1,315.3 388.9,315.9 394.7,317.4 400.5,318.1" fill="none" stroke="#262626" stroke-width=".9" stroke-opacity="0.88"/>
<polyline points="404.5,316.4 409.8,317.8 415.1,318.4 420.5,319.8 425.8,320.4" fill="none" stroke="#262626" stroke-width=".9" stroke-opacity="0.90"/>
<polyline points="439.5,319.1 444.3,318.4 449.2,316.9 454.1,316.2 458.9,314.8" fill="none" stroke="#262626" stroke-width=".9" stroke-opacity="0.92"/>
<polyline points="482.3,315.8 487.8,317.3 493.3,318.0 498.9,319.5" fill="none" stroke="#262626" stroke-width=".9" stroke-opacity="0.89"/>
<polyline points="516.4,320.8 521.8,322.3 527.1,323.0 532.5,324.5 537.9,325.2" fill="none" stroke="#262626" stroke-width=".9" stroke-opacity="0.93"/>
<polyline points="377.2,315.1 383.0,316.6 388.9,317.3 394.7,318.8 400.5,319.4" fill="none" stroke="#262626" stroke-width=".9" stroke-opacity="0.89"/>
<polyline points="404.4,317.8 409.8,319.2 415.1,319.8 420.5,321.2 425.8,321.8" fill="none" stroke="#262626" stroke-width=".9" stroke-opacity="0.91"/>
<polyline points="439.5,320.5 444.3,319.8 449.2,318.3 454.1,317.6 458.9,316.1" fill="none" stroke="#262626" stroke-width=".9" stroke-opacity="0.93"/>
<polyline points="482.3,317.1 487.8,318.6 493.3,319.3 498.9,320.9" fill="none" stroke="#262626" stroke-width=".9" stroke-opacity="0.90"/>
<polyline points="516.4,322.1 521.8,323.7 527.2,324.4 532.5,325.9 537.9,326.6" fill="none" stroke="#262626" stroke-width=".9" stroke-opacity="0.94"/>
<polyline points="377.2,319.7 383.0,321.2 388.8,321.9 394.7,323.4 400.5,324.1" fill="none" stroke="#262626" stroke-width=".9" stroke-opacity="0.92"/>
<polyline points="404.4,322.4 409.7,323.8 415.1,324.4 420.5,325.9 425.8,326.5" fill="none" stroke="#262626" stroke-width=".9" stroke-opacity="0.94"/>
<polyline points="439.5,325.1 444.3,324.4 449.2,322.9 454.1,322.2 458.9,320.7" fill="none" stroke="#262626" stroke-width=".9" stroke-opacity="0.96"/>
<polyline points="482.3,321.7 487.8,323.2 493.4,324.0 498.9,325.5" fill="none" stroke="#262626" stroke-width=".9" stroke-opacity="0.94"/>
<polyline points="516.5,326.8 521.8,328.4 527.2,329.1 532.6,330.7 538.0,331.4" fill="none" stroke="#262626" stroke-width=".9" stroke-opacity="0.98"/>
<polyline points="377.1,324.3 382.9,325.9 388.8,326.6 394.6,328.1 400.4,328.8" fill="none" stroke="#262626" stroke-width=".9" stroke-opacity="0.96"/>
<polyline points="404.4,327.1 409.7,328.5 415.1,329.2 420.4,330.6 425.8,331.3" fill="none" stroke="#262626" stroke-width=".9" stroke-opacity="0.98"/>
<polyline points="439.4,329.9 444.3,329.1 449.2,327.6 454.1,326.9 458.9,325.4" fill="none" stroke="#262626" stroke-width=".9" stroke-opacity="1.00"/>
<polyline points="482.3,326.4 487.9,328.0 493.4,328.7 498.9,330.3" fill="none" stroke="#262626" stroke-width=".9" stroke-opacity="0.97"/>
<polyline points="516.5,331.6 521.9,333.2 527.3,333.9 532.7,335.5 538.0,336.3" fill="none" stroke="#262626" stroke-width=".9"/>
<polyline points="377.0,329.1 382.9,330.6 388.7,331.3 394.5,332.9 400.4,333.6" fill="none" stroke="#262626" stroke-width=".9" stroke-opacity="0.99"/>
<polyline points="404.3,331.9 409.7,333.4 415.0,334.0 420.4,335.5 425.8,336.1" fill="none" stroke="#262626" stroke-width=".9"/>
<polyline points="439.4,334.7 444.3,334.0 449.2,332.4 454.1,331.7 459.0,330.1" fill="none" stroke="#262626" stroke-width=".9"/>
<polyline points="482.4,331.2 487.9,332.8 493.4,333.5 499.0,335.1" fill="none" stroke="#262626" stroke-width=".9"/>
<polyline points="516.6,336.5 521.9,338.1 527.3,338.8 532.7,340.5 538.1,341.2" fill="none" stroke="#262626" stroke-width=".9"/>
<polyline points="377.0,333.9 382.8,335.5 388.7,336.2 394.5,337.8 400.3,338.6" fill="none" stroke="#262626" stroke-width=".9"/>
<polyline points="404.3,336.8 409.6,338.3 415.0,338.9 420.4,340.4 425.7,341.1" fill="none" stroke="#262626" stroke-width=".9"/>
<polyline points="439.4,339.6 444.3,338.9 449.2,337.3 454.1,336.6 459.0,335.0" fill="none" stroke="#262626" stroke-width=".9"/>
<polyline points="482.4,336.0 487.9,337.7 493.5,338.4 499.0,340.1" fill="none" stroke="#262626" stroke-width=".9"/>
<polyline points="516.6,341.5 522.0,343.1 527.4,343.8 532.8,345.5 538.2,346.2" fill="none" stroke="#262626" stroke-width=".9"/>
<polyline points="376.9,338.8 382.7,340.4 388.6,341.2 394.4,342.8 400.3,343.5" fill="none" stroke="#262626" stroke-width=".9"/>
<polyline points="404.2,341.7 409.6,343.2 415.0,343.9 420.3,345.4 425.7,346.1" fill="none" stroke="#262626" stroke-width=".9"/>
<polyline points="439.4,344.6 444.3,343.9 449.2,342.3 454.1,341.5 459.0,339.9" fill="none" stroke="#262626" stroke-width=".9"/>
<polyline points="482.4,341.0 488.0,342.6 493.5,343.4 499.0,345.1" fill="none" stroke="#262626" stroke-width=".9"/>
<polyline points="516.7,346.5 522.1,348.1 527.4,348.9 532.9,350.5 538.2,351.3" fill="none" stroke="#262626" stroke-width=".9"/>
<polyline points="376.8,343.8 382.7,345.4 388.5,346.2 394.4,347.8 400.3,348.6" fill="none" stroke="#262626" stroke-width=".9"/>
<polyline points="404.2,346.7 409.5,348.3 414.9,348.9 420.3,350.5 425.7,351.2" fill="none" stroke="#262626" stroke-width=".9"/>
<polyline points="439.4,349.7 444.3,348.9 449.2,347.3 454.1,346.5 459.0,344.9" fill="none" stroke="#262626" stroke-width=".9"/>
<polyline points="482.4,346.0 488.0,347.7 493.5,348.4 499.1,350.1" fill="none" stroke="#262626" stroke-width=".9"/>
<polyline points="516.7,351.5 522.1,353.2 527.5,353.9 532.9,355.6 538.3,356.4" fill="none" stroke="#262626" stroke-width=".9"/>
<polyline points="376.8,348.8 382.6,350.5 388.5,351.2 394.3,352.9 400.2,353.6" fill="none" stroke="#262626" stroke-width=".9"/>
<polyline points="404.1,351.8 409.5,353.3 414.9,354.0 420.3,355.6 425.7,356.3" fill="none" stroke="#262626" stroke-width=".9"/>
<polyline points="439.4,354.8 444.3,354.0 449.2,352.3 454.1,351.6 459.0,349.9" fill="none" stroke="#262626" stroke-width=".9"/>
<polyline points="482.4,351.0 488.0,352.7 493.6,353.5 499.1,355.2" fill="none" stroke="#262626" stroke-width=".9"/>
<polyline points="516.8,356.6 522.2,358.3 527.6,359.1 533.0,360.7 538.4,361.5" fill="none" stroke="#262626" stroke-width=".9"/>
<polyline points="376.7,350.3 382.6,352.0 388.5,352.7 394.3,354.4 400.2,355.2" fill="none" stroke="#262626" stroke-width=".9"/>
<polyline points="404.1,353.3 409.5,354.9 414.9,355.5 420.3,357.1 425.6,357.8" fill="none" stroke="#262626" stroke-width=".9"/>
<polyline points="439.4,356.3 444.3,355.5 449.2,353.9 454.1,353.1 459.0,351.4" fill="none" stroke="#262626" stroke-width=".9"/>
<polyline points="482.5,352.6 488.0,354.2 493.6,355.0 499.1,356.7" fill="none" stroke="#262626" stroke-width=".9"/>
<polyline points="516.8,358.2 522.2,359.8 527.6,360.6 533.0,362.3 538.4,363.1" fill="none" stroke="#262626" stroke-width=".9"/>
<polyline points="376.7,355.4 382.5,357.1 388.4,357.9 394.3,359.5 400.1,360.3" fill="none" stroke="#262626" stroke-width=".9"/>
<polyline points="404.1,358.4 409.5,360.0 414.8,360.7 420.2,362.3 425.6,363.0" fill="none" stroke="#262626" stroke-width=".9"/>
<polyline points="439.4,361.4 444.3,360.7 449.2,359.0 454.1,358.2 459.0,356.6" fill="none" stroke="#262626" stroke-width=".9"/>
<polyline points="482.5,357.7 488.0,359.4 493.6,360.2 499.2,361.9" fill="none" stroke="#262626" stroke-width=".9"/>
<polyline points="516.8,363.3 522.2,365.0 527.6,365.8 533.1,367.5 538.5,368.3" fill="none" stroke="#262626" stroke-width=".9"/>
<polyline points="376.6,360.6 382.5,362.3 388.3,363.0 394.2,364.7 400.1,365.5" fill="none" stroke="#262626" stroke-width=".9"/>
<polyline points="404.0,363.6 409.4,365.2 414.8,365.9 420.2,367.5 425.6,368.2" fill="none" stroke="#262626" stroke-width=".9"/>
<polyline points="439.3,366.7 444.2,365.9 449.2,364.2 454.1,363.4 459.0,361.7" fill="none" stroke="#262626" stroke-width=".9"/>
<polyline points="482.5,362.8 488.1,364.6 493.6,365.4 499.2,367.1" fill="none" stroke="#262626" stroke-width=".9"/>
<polyline points="516.9,368.6 522.3,370.3 527.7,371.1 533.1,372.8 538.5,373.6" fill="none" stroke="#262626" stroke-width=".9"/>
<polyline points="376.5,365.8 382.4,367.5 388.3,368.3 394.2,370.0 400.0,370.8" fill="none" stroke="#262626" stroke-width=".9"/>
<polyline points="404.0,368.9 409.4,370.5 414.8,371.2 420.2,372.8 425.6,373.5" fill="none" stroke="#262626" stroke-width=".9"/>
<polyline points="439.3,372.0 444.2,371.2 449.1,369.4 454.1,368.6 459.0,366.9" fill="none" stroke="#262626" stroke-width=".9"/>
<polyline points="482.5,368.1 488.1,369.8 493.7,370.7 499.2,372.4" fill="none" stroke="#262626" stroke-width=".9"/>
<polyline points="516.9,373.9 522.4,375.6 527.8,376.5 533.2,378.2 538.6,379.0" fill="none" stroke="#262626" stroke-width=".9"/>
<polyline points="376.5,371.1 382.3,372.8 388.2,373.6 394.1,375.3 400.0,376.1" fill="none" stroke="#262626" stroke-width=".9"/>
<polyline points="403.9,374.2 409.3,375.8 414.7,376.5 420.1,378.2 425.5,378.9" fill="none" stroke="#262626" stroke-width=".9"/>
<polyline points="439.3,377.3 444.2,376.5 449.1,374.8 454.1,374.0 459.0,372.2" fill="none" stroke="#262626" stroke-width=".9"/>
<polyline points="482.5,373.4 488.1,375.2 493.7,376.0 499.3,377.8" fill="none" stroke="#262626" stroke-width=".9"/>
<polyline points="517.0,379.3 522.4,381.1 527.8,381.9 533.3,383.7 538.7,384.5" fill="none" stroke="#262626" stroke-width=".9"/>
<polyline points="376.4,376.4 382.3,378.2 388.2,379.0 394.0,380.8 399.9,381.6" fill="none" stroke="#262626" stroke-width=".9"/>
<polyline points="403.9,379.6 409.3,381.3 414.7,382.0 420.1,383.7 425.5,384.4" fill="none" stroke="#262626" stroke-width=".9"/>
<polyline points="439.3,382.8 444.2,382.0 449.1,380.2 454.0,379.4 459.0,377.6" fill="none" stroke="#262626" stroke-width=".9"/>
<polyline points="482.6,378.8 488.1,380.6 493.7,381.5 499.3,383.3" fill="none" stroke="#262626" stroke-width=".9"/>
<polyline points="517.0,384.8 522.5,386.6 527.9,387.5 533.3,389.3 538.8,390.2" fill="none" stroke="#262626" stroke-width=".9"/>
<polyline points="376.3,381.9 382.2,383.7 388.1,384.5 394.0,386.3 399.9,387.1" fill="none" stroke="#262626" stroke-width=".9"/>
<polyline points="403.8,385.1 409.2,386.8 414.7,387.6 420.1,389.3 425.5,390.0" fill="none" stroke="#262626" stroke-width=".9"/>
<polyline points="439.3,388.4 444.2,387.5 449.1,385.7 454.0,384.9 459.0,383.1" fill="none" stroke="#262626" stroke-width=".9"/>
<polyline points="482.6,384.3 488.2,386.1 493.8,387.0 499.4,388.9" fill="none" stroke="#262626" stroke-width=".9"/>
<polyline points="517.1,390.4 522.5,392.3 528.0,393.2 533.4,395.0 538.9,395.9" fill="none" stroke="#262626" stroke-width=".9"/>
<polyline points="376.2,387.4 382.1,389.3 388.0,390.1 393.9,392.0 399.8,392.8" fill="none" stroke="#262626" stroke-width=".9"/>
<polyline points="403.8,390.7 409.2,392.5 414.6,393.2 420.0,395.0 425.4,395.8" fill="none" stroke="#262626" stroke-width=".9"/>
<polyline points="439.3,394.1 444.2,393.2 449.1,391.4 454.0,390.5 459.0,388.7" fill="none" stroke="#262626" stroke-width=".9"/>
<polyline points="482.6,389.9 488.2,391.8 493.8,392.7 499.4,394.6" fill="none" stroke="#262626" stroke-width=".9"/>
<polyline points="517.2,396.2 522.6,398.1 528.0,399.0 533.5,400.9 538.9,401.7" fill="none" stroke="#262626" stroke-width=".9"/>
<polyline points="376.2,389.1 382.1,391.0 388.0,391.8 393.9,393.7 399.8,394.5" fill="none" stroke="#262626" stroke-width=".9"/>
<polyline points="403.8,392.4 409.2,394.2 414.6,395.0 420.0,396.7 425.4,397.5" fill="none" stroke="#262626" stroke-width=".9"/>
<polyline points="439.2,395.8 444.2,394.9 449.1,393.1 454.0,392.2 459.0,390.4" fill="none" stroke="#262626" stroke-width=".9"/>
<polyline points="482.6,391.6 488.2,393.5 493.8,394.4 499.4,396.3" fill="none" stroke="#262626" stroke-width=".9"/>
<polyline points="517.2,397.9 522.6,399.8 528.1,400.7 533.5,402.6 539.0,403.5" fill="none" stroke="#262626" stroke-width=".9"/>
<polyline points="376.1,394.8 382.0,396.7 387.9,397.6 393.8,399.5 399.8,400.4" fill="none" stroke="#262626" stroke-width=".9"/>
<polyline points="403.7,398.2 409.1,400.0 414.6,400.8 420.0,402.6 425.4,403.4" fill="none" stroke="#262626" stroke-width=".9"/>
<polyline points="439.2,401.7 444.2,400.8 449.1,398.9 454.0,398.0 459.0,396.1" fill="none" stroke="#262626" stroke-width=".9"/>
<polyline points="482.6,397.4 488.2,399.3 493.8,400.2 499.5,402.2" fill="none" stroke="#262626" stroke-width=".9"/>
<polyline points="517.2,403.8 522.7,405.7 528.1,406.6 533.6,408.6 539.0,409.5" fill="none" stroke="#262626" stroke-width=".9"/>
<polyline points="376.1,400.7 382.0,402.6 387.9,403.5 393.8,405.4 399.7,406.3" fill="none" stroke="#262626" stroke-width=".9"/>
<polyline points="403.7,404.1 409.1,405.9 414.5,406.7 419.9,408.5 425.4,409.3" fill="none" stroke="#262626" stroke-width=".9"/>
<polyline points="439.2,407.6 444.2,406.7 449.1,404.8 454.0,403.9 459.0,402.0" fill="none" stroke="#262626" stroke-width=".9"/>
<polyline points="482.7,403.2 488.3,405.2 493.9,406.1 499.5,408.1" fill="none" stroke="#262626" stroke-width=".9"/>
<polyline points="517.3,409.8 522.8,411.7 528.2,412.6 533.7,414.6 539.1,415.5" fill="none" stroke="#262626" stroke-width=".9"/>
<polyline points="376.0,406.6 381.9,408.5 387.8,409.4 393.7,411.4 399.6,412.3" fill="none" stroke="#262626" stroke-width=".9"/>
<polyline points="403.6,410.1 409.0,411.9 414.5,412.7 419.9,414.6 425.3,415.4" fill="none" stroke="#262626" stroke-width=".9"/>
<polyline points="439.2,413.6 444.1,412.7 449.1,410.7 454.0,409.8 459.0,407.9" fill="none" stroke="#262626" stroke-width=".9"/>
<polyline points="482.7,409.2 488.3,411.2 493.9,412.1 499.5,414.1" fill="none" stroke="#262626" stroke-width=".9"/>
<polyline points="517.4,415.8 522.8,417.8 528.3,418.7 533.7,420.6 539.2,421.6" fill="none" stroke="#262626" stroke-width=".9"/>
<polyline points="375.9,412.6 381.8,414.5 387.7,415.4 393.7,417.4 399.6,418.3" fill="none" stroke="#262626" stroke-width=".9"/>
<polyline points="403.6,416.1 409.0,418.0 414.4,418.8 419.9,420.6 425.3,421.4" fill="none" stroke="#262626" stroke-width=".9"/>
<polyline points="439.2,419.6 444.1,418.7 449.1,416.8 454.0,415.9 459.0,413.9" fill="none" stroke="#262626" stroke-width=".9"/>
<polyline points="482.7,415.2 488.3,417.2 494.0,418.2 499.6,420.2" fill="none" stroke="#262626" stroke-width=".9"/>
<polyline points="517.4,421.9 522.9,423.8 528.3,424.8 533.8,426.7 539.3,427.6" fill="none" stroke="#262626" stroke-width=".9"/>
<polyline points="375.8,418.6 381.7,420.6 387.7,421.5 393.6,423.5 399.5,424.4" fill="none" stroke="#262626" stroke-width=".9"/>
<polyline points="403.5,422.2 408.9,424.0 414.4,424.8 419.8,426.7 425.3,427.5" fill="none" stroke="#262626" stroke-width=".9"/>
<polyline points="439.2,425.7 444.1,424.8 449.1,422.8 454.0,421.9 459.0,420.0" fill="none" stroke="#262626" stroke-width=".9"/>
<polyline points="482.7,421.3 488.4,423.3 494.0,424.2 499.6,426.3" fill="none" stroke="#262626" stroke-width=".9"/>
<polyline points="517.5,428.0 523.0,429.9 528.4,430.9 533.9,432.8 539.4,433.8" fill="none" stroke="#262626" stroke-width=".9"/>
<polyline points="375.7,424.7 381.7,426.7 387.6,427.6 393.5,429.6 399.5,430.5" fill="none" stroke="#262626" stroke-width=".9"/>
<polyline points="403.5,428.3 408.9,430.1 414.3,430.9 419.8,432.8 425.2,433.6" fill="none" stroke="#262626" stroke-width=".9"/>
<polyline points="439.1,431.8 444.1,430.9 449.1,428.9 454.0,428.0 459.0,426.0" fill="none" stroke="#262626" stroke-width=".9"/>
<polyline points="482.8,427.4 488.4,429.4 494.0,430.4 499.7,432.4" fill="none" stroke="#262626" stroke-width=".9"/>
<polyline points="517.5,434.1 523.0,436.1 528.5,437.0 534.0,438.9 539.5,439.9" fill="none" stroke="#262626" stroke-width=".9"/>
<polyline points="375.7,430.8 381.6,432.8 387.5,433.7 393.5,435.7 399.4,436.6" fill="none" stroke="#262626" stroke-width=".9"/>
<polyline points="403.4,434.4 408.8,436.3 414.3,437.1 419.8,438.9 425.2,439.7" fill="none" stroke="#262626" stroke-width=".9"/>
<polyline points="439.1,437.9 444.1,437.0 449.1,435.0 454.0,434.1 459.0,432.2" fill="none" stroke="#262626" stroke-width=".9"/>
<polyline points="482.8,433.5 488.4,435.5 494.1,436.5 499.7,438.5" fill="none" stroke="#262626" stroke-width=".9"/>
<polyline points="517.6,440.2 523.1,442.2 528.6,443.1 534.1,445.1 539.5,446.0" fill="none" stroke="#262626" stroke-width=".9"/>
<polyline points="375.6,432.6 381.6,434.6 387.5,435.5 393.4,437.5 399.4,438.4" fill="none" stroke="#262626" stroke-width=".9"/>
<polyline points="403.4,436.2 408.8,438.1 414.3,438.9 419.7,440.8 425.2,441.6" fill="none" stroke="#262626" stroke-width=".9"/>
<polyline points="439.1,439.8 444.1,438.9 449.1,436.9 454.0,436.0 459.0,434.0" fill="none" stroke="#262626" stroke-width=".9"/>
<polyline points="482.8,435.3 488.4,437.3 494.1,438.3 499.7,440.3" fill="none" stroke="#262626" stroke-width=".9"/>
<polyline points="517.6,442.0 523.1,444.0 528.6,444.9 534.1,446.9 539.6,447.8" fill="none" stroke="#262626" stroke-width=".9"/>
<polyline points="375.6,438.7 381.5,440.7 387.4,441.6 393.4,443.6 399.3,444.6" fill="none" stroke="#262626" stroke-width=".9"/>
<polyline points="403.3,442.3 408.8,444.2 414.2,445.0 419.7,446.9 425.2,447.7" fill="none" stroke="#262626" stroke-width=".9"/>
<polyline points="439.1,445.9 444.1,445.0 449.0,443.0 454.0,442.1 459.0,440.1" fill="none" stroke="#262626" stroke-width=".9"/>
<polyline points="482.8,441.4 488.5,443.4 494.1,444.4 499.8,446.4" fill="none" stroke="#262626" stroke-width=".9"/>
<polyline points="517.7,448.1 523.2,450.1 528.7,451.1 534.2,453.1 539.6,454.0" fill="none" stroke="#262626" stroke-width=".9"/>
<polyline points="375.5,444.9 381.4,446.9 387.4,447.8 393.3,449.8 399.3,450.7" fill="none" stroke="#262626" stroke-width=".9"/>
<polyline points="403.3,448.4 408.7,450.3 414.2,451.1 419.7,453.0 425.1,453.9" fill="none" stroke="#262626" stroke-width=".9"/>
<polyline points="439.1,452.0 444.1,451.1 449.0,449.1 454.0,448.2 459.0,446.2" fill="none" stroke="#262626" stroke-width=".9"/>
<polyline points="482.9,447.6 488.5,449.6 494.2,450.5 499.8,452.6" fill="none" stroke="#262626" stroke-width=".9"/>
<polyline points="517.7,454.3 523.2,456.3 528.7,457.3 534.2,459.3 539.7,460.2" fill="none" stroke="#262626" stroke-width=".9"/>
<polyline points="375.4,451.0 381.3,453.0 387.3,453.9 393.3,456.0 399.2,456.9" fill="none" stroke="#262626" stroke-width=".9"/>
<polyline points="403.2,454.6 408.7,456.5 414.2,457.3 419.6,459.3 425.1,460.1" fill="none" stroke="#262626" stroke-width=".9"/>
<polyline points="439.1,458.3 444.0,457.3 449.0,455.3 454.0,454.4 459.0,452.4" fill="none" stroke="#262626" stroke-width=".9"/>
<polyline points="482.9,453.7 488.5,455.8 494.2,456.7 499.9,458.8" fill="none" stroke="#262626" stroke-width=".9"/>
<polyline points="517.8,460.5 523.3,462.6 528.8,463.5 534.3,465.6 539.8,466.5" fill="none" stroke="#262626" stroke-width=".9"/>
<polyline points="375.3,457.2 381.3,459.2 387.2,460.2 393.2,462.2 399.2,463.1" fill="none" stroke="#262626" stroke-width=".9"/>
<polyline points="403.2,460.9 408.6,462.8 414.1,463.6 419.6,465.5 425.1,466.4" fill="none" stroke="#262626" stroke-width=".9"/>
<polyline points="439.0,464.5 444.0,463.6 449.0,461.5 454.0,460.6 459.0,458.6" fill="none" stroke="#262626" stroke-width=".9"/>
<polyline points="482.9,459.9 488.6,462.0 494.2,463.0 499.9,465.1" fill="none" stroke="#262626" stroke-width=".9"/>
<polyline points="517.9,466.8 523.4,468.9 528.9,469.9 534.4,472.0 539.9,472.9" fill="none" stroke="#262626" stroke-width=".9"/>
<polyline points="375.2,463.5 381.2,465.5 387.2,466.5 393.1,468.5 399.1,469.5" fill="none" stroke="#262626" stroke-width=".9"/>
<polyline points="403.1,467.2 408.6,469.1 414.1,470.0 419.5,471.9 425.0,472.8" fill="none" stroke="#262626" stroke-width=".9"/>
<polyline points="439.0,470.9 444.0,469.9 449.0,467.9 454.0,466.9 459.0,464.9" fill="none" stroke="#262626" stroke-width=".9"/>
<polyline points="482.9,466.2 488.6,468.3 494.3,469.3 499.9,471.5" fill="none" stroke="#262626" stroke-width=".9"/>
<polyline points="517.9,473.3 523.4,475.4 529.0,476.3 534.5,478.5 540.0,479.5" fill="none" stroke="#262626" stroke-width=".9"/>
<polyline points="375.1,469.8 381.1,471.9 387.1,472.9 393.1,475.0 399.0,476.0" fill="none" stroke="#262626" stroke-width=".9"/>
<polyline points="403.1,473.6 408.5,475.6 414.0,476.4 419.5,478.4 425.0,479.3" fill="none" stroke="#262626" stroke-width=".9"/>
<polyline points="439.0,477.4 444.0,476.4 449.0,474.3 454.0,473.3 459.0,471.2" fill="none" stroke="#262626" stroke-width=".9"/>
<polyline points="483.0,472.6 488.6,474.8 494.3,475.8 500.0,478.0" fill="none" stroke="#262626" stroke-width=".9"/>
<polyline points="518.0,479.8 523.5,481.9 529.0,482.9 534.5,485.1 540.0,486.1" fill="none" stroke="#262626" stroke-width=".9"/>
<polyline points="375.0,476.3 381.0,478.4 387.0,479.4 393.0,481.6 399.0,482.5" fill="none" stroke="#262626" stroke-width=".9"/>
<polyline points="403.0,480.1 408.5,482.2 414.0,483.0 419.5,485.1 425.0,486.0" fill="none" stroke="#262626" stroke-width=".9"/>
<polyline points="439.0,484.0 444.0,483.0 449.0,480.9 454.0,479.9 459.0,477.7" fill="none" stroke="#262626" stroke-width=".9"/>
<polyline points="483.0,479.2 488.7,481.3 494.3,482.4 500.0,484.6" fill="none" stroke="#262626" stroke-width=".9"/>
<polyline points="518.0,486.5 523.5,488.6 529.0,489.7 534.5,491.9 540.0,492.9" fill="none" stroke="#262626" stroke-width=".9"/>
<polyline points="375.0,478.3 381.0,480.4 387.0,481.4 393.0,483.5 399.0,484.5" fill="none" stroke="#262626" stroke-width=".9"/>
<polyline points="403.0,482.1 408.5,484.2 414.0,485.0 419.5,487.1 425.0,488.0" fill="none" stroke="#262626" stroke-width=".9"/>
<polyline points="439.0,486.0 444.0,485.0 449.0,482.8 454.0,481.8 459.0,479.7" fill="none" stroke="#262626" stroke-width=".9"/>
<polyline points="483.0,481.1 488.7,483.3 494.3,484.4 500.0,486.6" fill="none" stroke="#262626" stroke-width=".9"/>
<polyline points="518.0,488.5 523.5,490.7 529.0,491.7 534.5,493.9 540.0,494.9" fill="none" stroke="#262626" stroke-width=".9"/>
<polyline points="375.0,484.9 381.0,487.1 387.0,488.1 393.0,490.3 399.0,491.3" fill="none" stroke="#262626" stroke-width=".9"/>
<polyline points="403.0,488.8 408.5,490.9 414.0,491.8 419.5,493.9 425.0,494.8" fill="none" stroke="#262626" stroke-width=".9"/>
<polyline points="439.0,492.8 444.0,491.8 449.0,489.6 454.0,488.5 459.0,486.4" fill="none" stroke="#262626" stroke-width=".9"/>
<polyline points="483.0,487.8 488.7,490.1 494.3,491.1 500.0,493.4" fill="none" stroke="#262626" stroke-width=".9"/>
<polyline points="518.0,495.3 523.5,497.5 529.0,498.6 534.5,500.8 540.0,501.8" fill="none" stroke="#262626" stroke-width=".9"/>
<polyline points="375.0,491.6 381.0,493.9 387.0,494.9 393.0,497.1 399.0,498.1" fill="none" stroke="#262626" stroke-width=".9"/>
<polyline points="403.0,495.6 408.5,497.7 414.0,498.7 419.5,500.8 425.0,501.7" fill="none" stroke="#262626" stroke-width=".9"/>
<polyline points="439.0,499.7 444.0,498.6 449.0,496.4 454.0,495.4 459.0,493.1" fill="none" stroke="#262626" stroke-width=".9"/>
<polyline points="483.0,494.6 488.7,496.9 494.3,498.0 500.0,500.3" fill="none" stroke="#262626" stroke-width=".9"/>
<polyline points="518.0,502.2 523.5,504.4 529.0,505.5 534.5,507.8 540.0,508.8" fill="none" stroke="#262626" stroke-width=".9"/>
<polyline points="375.0,498.5 381.0,500.7 387.0,501.8 393.0,504.0 399.0,505.1" fill="none" stroke="#262626" stroke-width=".9"/>
<polyline points="403.0,502.5 408.5,504.7 414.0,505.6 419.5,507.7 425.0,508.7" fill="none" stroke="#262626" stroke-width=".9"/>
<polyline points="439.0,506.6 444.0,505.6 449.0,503.3 454.0,502.3 459.0,500.0" fill="none" stroke="#262626" stroke-width=".9"/>
<polyline points="483.0,501.5 488.7,503.8 494.3,504.9 500.0,507.2" fill="none" stroke="#262626" stroke-width=".9"/>
<polyline points="518.0,509.2 523.5,511.4 529.0,512.5 534.5,514.8 540.0,515.8" fill="none" stroke="#262626" stroke-width=".9"/>
<polyline points="375.0,505.4 381.0,507.7 387.0,508.8 393.0,511.0 399.0,512.1" fill="none" stroke="#262626" stroke-width=".9"/>
<polyline points="403.0,509.5 408.5,511.7 414.0,512.6 419.5,514.8 425.0,515.7" fill="none" stroke="#262626" stroke-width=".9"/>
<polyline points="439.0,513.6 444.0,512.6 449.0,510.3 454.0,509.2 459.0,507.0" fill="none" stroke="#262626" stroke-width=".9"/>
<polyline points="483.0,508.5 488.7,510.8 494.3,511.9 500.0,514.2" fill="none" stroke="#262626" stroke-width=".9"/>
<polyline points="518.0,516.2 523.5,518.5 529.0,519.5 534.5,521.8 540.0,522.9" fill="none" stroke="#262626" stroke-width=".9"/>
<polyline points="375.0,512.4 381.0,514.7 387.0,515.8 393.0,518.1 399.0,519.1" fill="none" stroke="#262626" stroke-width=".9"/>
<polyline points="403.0,516.6 408.5,518.7 414.0,519.6 419.5,521.8 425.0,522.7" fill="none" stroke="#262626" stroke-width=".9"/>
<polyline points="439.0,520.7 444.0,519.6 449.0,517.3 454.0,516.3 459.0,514.0" fill="none" stroke="#262626" stroke-width=".9"/>
<polyline points="483.0,515.5 488.7,517.9 494.3,519.0 500.0,521.3" fill="none" stroke="#262626" stroke-width=".9"/>
<polyline points="518.0,523.2 523.5,525.5 529.0,526.6 534.5,528.9 540.0,529.9" fill="none" stroke="#262626" stroke-width=".9"/>
<polyline points="375.0,519.5 381.0,521.8 387.0,522.8 393.0,525.1 399.0,526.2" fill="none" stroke="#262626" stroke-width=".9"/>
<polyline points="403.0,523.6 408.5,525.8 414.0,526.7 419.5,528.9 425.0,529.8" fill="none" stroke="#262626" stroke-width=".9"/>
<polyline points="439.0,527.7 444.0,526.7 449.0,524.4 454.0,523.3 459.0,521.0" fill="none" stroke="#262626" stroke-width=".9"/>
<polyline points="483.0,522.6 488.7,524.9 494.3,526.0 500.0,528.4" fill="none" stroke="#262626" stroke-width=".9"/>
<polyline points="518.0,530.3 523.5,532.6 529.0,533.7 534.5,535.9 540.0,537.0" fill="none" stroke="#262626" stroke-width=".9"/>
<polyline points="375.0,526.5 381.0,528.8 387.0,529.9 393.0,532.2 399.0,533.2" fill="none" stroke="#262626" stroke-width=".9"/>
<polyline points="403.0,530.7 408.5,532.8 414.0,533.8 419.5,535.9 425.0,536.9" fill="none" stroke="#262626" stroke-width=".9"/>
<polyline points="439.0,534.8 444.0,533.7 449.0,531.4 454.0,530.4 459.0,528.1" fill="none" stroke="#262626" stroke-width=".9"/>
<polyline points="483.0,529.6 488.7,532.0 494.3,533.1 500.0,535.4" fill="none" stroke="#262626" stroke-width=".9"/>
<polyline points="518.0,537.4 523.5,539.7 529.0,540.7 534.5,543.0 540.0,544.1" fill="none" stroke="#262626" stroke-width=".9"/>
<polyline points="375.0,528.7 381.0,531.0 387.0,532.0 393.0,534.3 399.0,535.4" fill="none" stroke="#262626" stroke-width=".9"/>
<polyline points="403.0,532.8 408.5,534.9 414.0,535.9 419.5,538.0 425.0,539.0" fill="none" stroke="#262626" stroke-width=".9"/>
<polyline points="439.0,536.9 444.0,535.8 449.0,533.6 454.0,532.5 459.0,530.2" fill="none" stroke="#262626" stroke-width=".9"/>
<polyline points="483.0,531.8 488.7,534.1 494.3,535.2 500.0,537.5" fill="none" stroke="#262626" stroke-width=".9"/>
<polyline points="518.0,539.5 523.5,541.8 529.0,542.8 534.5,545.1 540.0,546.2" fill="none" stroke="#262626" stroke-width=".9"/>
<polyline points="375.0,535.7 381.0,538.0 387.0,539.1 393.0,541.4 399.0,542.4" fill="none" stroke="#262626" stroke-width=".9"/>
<polyline points="403.0,539.8 408.5,542.0 414.0,542.9 419.5,545.1 425.0,546.0" fill="none" stroke="#262626" stroke-width=".9"/>
<polyline points="439.0,544.0 444.0,542.9 449.0,540.6 454.0,539.6 459.0,537.3" fill="none" stroke="#262626" stroke-width=".9"/>
<polyline points="483.0,538.8 488.7,541.1 494.3,542.2 500.0,544.6" fill="none" stroke="#262626" stroke-width=".9"/>
<polyline points="518.0,546.5 523.5,548.8 529.0,549.9 534.5,552.2 540.0,553.2" fill="none" stroke="#262626" stroke-width=".9"/>
<polyline points="375.0,542.8 381.0,545.1 387.0,546.1 393.0,548.4 399.0,549.5" fill="none" stroke="#262626" stroke-width=".9"/>
<polyline points="403.0,546.9 408.5,549.1 414.0,550.0 419.5,552.1 425.0,553.1" fill="none" stroke="#262626" stroke-width=".9"/>
<polyline points="439.0,551.0 444.0,550.0 449.0,547.7 454.0,546.6 459.0,544.3" fill="none" stroke="#262626" stroke-width=".9"/>
<polyline points="483.0,545.9 488.7,548.2 494.3,549.3 500.0,551.6" fill="none" stroke="#262626" stroke-width=".9"/>
<polyline points="518.0,553.6 523.5,555.9 529.0,556.9 534.5,559.2 540.0,560.3" fill="none" stroke="#262626" stroke-width=".9"/>
<polyline points="375.0,549.8 381.0,552.1 387.0,553.2 393.0,555.5 399.0,556.5" fill="none" stroke="#262626" stroke-width=".9"/>
<polyline points="403.0,553.9 408.5,556.1 414.0,557.0 419.5,559.2 425.0,560.1" fill="none" stroke="#262626" stroke-width=".9"/>
<polyline points="439.0,558.1 444.0,557.0 449.0,554.7 454.0,553.7 459.0,551.4" fill="none" stroke="#262626" stroke-width=".9"/>
<polyline points="483.0,552.9 488.7,555.3 494.3,556.4 500.0,558.7" fill="none" stroke="#262626" stroke-width=".9"/>
<polyline points="518.0,560.7 523.5,563.0 529.0,564.0 534.5,566.3 540.0,567.4" fill="none" stroke="#262626" stroke-width=".9"/>
<polyline points="375.0,556.9 381.0,559.2 387.0,560.2 393.0,562.5 399.0,563.6" fill="none" stroke="#262626" stroke-width=".9"/>
<polyline points="403.0,561.0 408.5,563.2 414.0,564.1 419.5,566.3 425.0,567.2" fill="none" stroke="#262626" stroke-width=".9"/>
<polyline points="439.0,565.2 444.0,564.1 449.0,561.8 454.0,560.7 459.0,558.4" fill="none" stroke="#262626" stroke-width=".9"/>
<polyline points="483.0,560.0 488.7,562.3 494.3,563.4 500.0,565.8" fill="none" stroke="#262626" stroke-width=".9"/>
<polyline points="518.0,567.7 523.5,570.1 529.0,571.1 534.5,573.4 540.0,574.5" fill="none" stroke="#262626" stroke-width=".9"/>
<polyline points="375.0,564.0 381.0,566.3 387.0,567.3 393.0,569.6 399.0,570.7" fill="none" stroke="#262626" stroke-width=".9"/>
<polyline points="403.0,568.1 408.5,570.3 414.0,571.2 419.5,573.4 425.0,574.3" fill="none" stroke="#262626" stroke-width=".9"/>
<polyline points="439.0,572.3 444.0,571.2 449.0,568.9 454.0,567.8 459.0,565.5" fill="none" stroke="#262626" stroke-width=".9"/>
<polyline points="483.0,567.1 488.7,569.4 494.3,570.5 500.0,572.9" fill="none" stroke="#262626" stroke-width=".9"/>
<polyline points="518.0,574.9 523.5,577.2 529.0,578.3 534.5,580.6 540.0,581.6" fill="none" stroke="#262626" stroke-width=".9"/>
<polyline points="375.0,571.1 381.0,573.4 387.0,574.4 393.0,576.8 399.0,577.8" fill="none" stroke="#262626" stroke-width=".9"/>
<polyline points="403.0,575.2 408.5,577.4 414.0,578.4 419.5,580.5 425.0,581.5" fill="none" stroke="#262626" stroke-width=".9"/>
<polyline points="439.0,579.4 444.0,578.3 449.0,576.0 454.0,574.9 459.0,572.6" fill="none" stroke="#262626" stroke-width=".9"/>
<polyline points="483.0,574.2 488.7,576.5 494.3,577.7 500.0,580.0" fill="none" stroke="#262626" stroke-width=".9"/>
<polyline points="518.0,582.0 523.5,584.3 529.0,585.4 534.5,587.8 540.0,588.8" fill="none" stroke="#262626" stroke-width=".9"/>
<polyline points="375.0,578.2 381.0,580.5 387.0,581.6 393.0,583.9 399.0,585.0" fill="none" stroke="#262626" stroke-width=".9"/>
<polyline points="403.0,582.4 408.5,584.6 414.0,585.5 419.5,587.7 425.0,588.7" fill="none" stroke="#262626" stroke-width=".9"/>
<polyline points="439.0,586.6 444.0,585.5 449.0,583.2 454.0,582.1 459.0,579.8" fill="none" stroke="#262626" stroke-width=".9"/>
<polyline points="483.0,581.3 488.7,583.7 494.3,584.8 500.0,587.2" fill="none" stroke="#262626" stroke-width=".9"/>
<polyline points="518.0,589.2 523.5,591.6 529.0,592.6 534.5,595.0 540.0,596.1" fill="none" stroke="#262626" stroke-width=".9"/>
<polyline points="375.0,580.3 381.0,582.7 387.0,583.7 393.0,586.1 399.0,587.2" fill="none" stroke="#262626" stroke-width=".9"/>
<polyline points="403.0,584.5 408.5,586.7 414.0,587.7 419.5,589.9 425.0,590.8" fill="none" stroke="#262626" stroke-width=".9"/>
<polyline points="439.0,588.7 444.0,587.7 449.0,585.3 454.0,584.2 459.0,581.9" fill="none" stroke="#262626" stroke-width=".9"/>
<polyline points="483.0,583.5 488.7,585.9 494.3,587.0 500.0,589.4" fill="none" stroke="#262626" stroke-width=".9"/>
<polyline points="518.0,591.4 523.5,593.7 529.0,594.8 534.5,597.2 540.0,598.2" fill="none" stroke="#262626" stroke-width=".9"/>
<polyline points="375.0,587.5 381.0,589.9 387.0,590.9 393.0,593.3 399.0,594.4" fill="none" stroke="#262626" stroke-width=".9"/>
<polyline points="403.0,591.7 408.5,594.0 414.0,594.9 419.5,597.1 425.0,598.1" fill="none" stroke="#262626" stroke-width=".9"/>
<polyline points="439.0,596.0 444.0,594.9 449.0,592.5 454.0,591.4 459.0,589.1" fill="none" stroke="#262626" stroke-width=".9"/>
<polyline points="483.0,590.7 488.7,593.1 494.3,594.2 500.0,596.6" fill="none" stroke="#262626" stroke-width=".9"/>
<polyline points="518.0,598.6 523.5,601.0 529.0,602.1 534.5,604.4 540.0,605.5" fill="none" stroke="#262626" stroke-width=".9"/>
<polyline points="375.0,594.7 381.0,597.1 387.0,598.2 393.0,600.6 399.0,601.6" fill="none" stroke="#262626" stroke-width=".9"/>
<polyline points="403.0,599.0 408.5,601.2 414.0,602.2 419.5,604.4 425.0,605.4" fill="none" stroke="#262626" stroke-width=".9"/>
<polyline points="439.0,603.2 444.0,602.2 449.0,599.8 454.0,598.7 459.0,596.3" fill="none" stroke="#262626" stroke-width=".9"/>
<polyline points="483.0,597.9 488.7,600.3 494.3,601.5 500.0,603.9" fill="none" stroke="#262626" stroke-width=".9"/>
<polyline points="518.0,605.9 523.5,608.3 529.0,609.4 534.5,611.8 540.0,612.9" fill="none" stroke="#262626" stroke-width=".9"/>
<polyline points="375.0,602.0 381.0,604.4 387.0,605.5 393.0,607.9 399.0,609.0" fill="none" stroke="#262626" stroke-width=".9"/>
<polyline points="403.0,606.3 408.5,608.5 414.0,609.5 419.5,611.8 425.0,612.7" fill="none" stroke="#262626" stroke-width=".9"/>
<polyline points="439.0,610.6 444.0,609.5 449.0,607.1 454.0,606.0 459.0,603.6" fill="none" stroke="#262626" stroke-width=".9"/>
<polyline points="483.0,605.2 488.7,607.6 494.3,608.8 500.0,611.2" fill="none" stroke="#262626" stroke-width=".9"/>
<polyline points="518.0,613.3 523.5,615.7 529.0,616.8 534.5,619.2 540.0,620.3" fill="none" stroke="#262626" stroke-width=".9"/>
<polyline points="375.0,609.3 381.0,611.7 387.0,612.8 393.0,615.2 399.0,616.3" fill="none" stroke="#262626" stroke-width=".9"/>
<polyline points="403.0,613.6 408.5,615.9 414.0,616.9 419.5,619.1 425.0,620.1" fill="none" stroke="#262626" stroke-width=".9"/>
<polyline points="439.0,618.0 444.0,616.8 449.0,614.4 454.0,613.3 459.0,610.9" fill="none" stroke="#262626" stroke-width=".9"/>
<polyline points="483.0,612.6 488.7,615.0 494.3,616.2 500.0,618.6" fill="none" stroke="#262626" stroke-width=".9"/>
<polyline points="518.0,620.7 523.5,623.1 529.0,624.2 534.5,626.6 540.0,627.7" fill="none" stroke="#262626" stroke-width=".9"/>
<polyline points="375.0,616.7 381.0,619.1 387.0,620.2 393.0,622.6 399.0,623.8" fill="none" stroke="#262626" stroke-width=".9"/>
<polyline points="403.0,621.0 408.5,623.3 414.0,624.3 419.5,626.6 425.0,627.6" fill="none" stroke="#262626" stroke-width=".9"/>
<polyline points="439.0,625.4 444.0,624.3 449.0,621.9 454.0,620.7 459.0,618.3" fill="none" stroke="#262626" stroke-width=".9"/>
<polyline points="483.0,620.0 488.7,622.4 494.3,623.6 500.0,626.0" fill="none" stroke="#262626" stroke-width=".9"/>
<polyline points="518.0,628.1 523.5,630.5 529.0,631.7 534.5,634.1 540.0,635.2" fill="none" stroke="#262626" stroke-width=".9"/>
<polyline points="375.0,624.1 381.0,626.6 387.0,627.7 393.0,630.1 399.0,631.2" fill="none" stroke="#262626" stroke-width=".9"/>
<polyline points="403.0,628.5 408.5,630.8 414.0,631.8 419.5,634.1 425.0,635.1" fill="none" stroke="#262626" stroke-width=".9"/>
<polyline points="439.0,632.9 444.0,631.8 449.0,629.3 454.0,628.2 459.0,625.8" fill="none" stroke="#262626" stroke-width=".9"/>
<polyline points="483.0,627.4 488.7,629.9 494.3,631.1 500.0,633.5" fill="none" stroke="#262626" stroke-width=".9"/>
<polyline points="518.0,635.6 523.5,638.1 529.0,639.2 534.5,641.7 540.0,642.8" fill="none" stroke="#262626" stroke-width=".9"/>
<polyline points="375.0,631.6 381.0,634.1 387.0,635.2 393.0,637.6 399.0,638.8" fill="none" stroke="#262626" stroke-width=".9"/>
<polyline points="403.0,636.0 408.5,638.3 414.0,639.3 419.5,641.7 425.0,642.7" fill="none" stroke="#262626" stroke-width=".9"/>
<polyline points="439.0,640.4 444.0,639.3 449.0,636.8 454.0,635.7 459.0,633.3" fill="none" stroke="#262626" stroke-width=".9"/>
<polyline points="483.0,634.9 488.7,637.4 494.3,638.6 500.0,641.1" fill="none" stroke="#262626" stroke-width=".9"/>
<polyline points="518.0,643.2 523.5,645.7 529.0,646.8 534.5,649.3 540.0,650.5" fill="none" stroke="#262626" stroke-width=".9"/>
<polyline points="375.0,633.9 381.0,636.3 387.0,637.4 393.0,639.9 399.0,641.0" fill="none" stroke="#262626" stroke-width=".9"/>
<polyline points="403.0,638.3 408.5,640.6 414.0,641.6 419.5,643.9 425.0,644.9" fill="none" stroke="#262626" stroke-width=".9"/>
<polyline points="439.0,642.7 444.0,641.6 449.0,639.1 454.0,638.0 459.0,635.5" fill="none" stroke="#262626" stroke-width=".9"/>
<polyline points="483.0,637.2 488.7,639.7 494.3,640.9 500.0,643.4" fill="none" stroke="#262626" stroke-width=".9"/>
<polyline points="518.0,645.5 523.5,648.0 529.0,649.1 534.5,651.6 540.0,652.8" fill="none" stroke="#262626" stroke-width=".9"/>
<polyline points="375.0,641.4 381.0,643.9 387.0,645.0 393.0,647.5 399.0,648.7" fill="none" stroke="#262626" stroke-width=".9"/>
<polyline points="403.0,645.9 408.5,648.2 414.0,649.2 419.5,651.6 425.0,652.6" fill="none" stroke="#262626" stroke-width=".9"/>
<polyline points="439.0,650.3 444.0,649.2 449.0,646.7 454.0,645.6 459.0,643.1" fill="none" stroke="#262626" stroke-width=".9"/>
<polyline points="483.0,644.8 488.7,647.3 494.3,648.5 500.0,651.0" fill="none" stroke="#262626" stroke-width=".9"/>
<polyline points="518.0,653.2 523.5,655.7 529.0,656.8 534.5,659.3 540.0,660.5" fill="none" stroke="#262626" stroke-width=".9"/>
<polyline points="375.0,649.1 381.0,651.6 387.0,652.7 393.0,655.2 399.0,656.4" fill="none" stroke="#262626" stroke-width=".9"/>
<polyline points="403.0,653.5 408.5,655.9 414.0,656.9 419.5,659.3 425.0,660.3" fill="none" stroke="#262626" stroke-width=".9"/>
<polyline points="439.0,658.1 444.0,656.9 449.0,654.4 454.0,653.2 459.0,650.7" fill="none" stroke="#262626" stroke-width=".9"/>
<polyline points="483.0,652.4 488.7,655.0 494.3,656.2 500.0,658.7" fill="none" stroke="#262626" stroke-width=".9"/>
<polyline points="518.0,660.9 523.5,663.4 529.0,664.6 534.5,667.1 540.0,668.3" fill="none" stroke="#262626" stroke-width=".9"/>
<polyline points="375.0,656.8 381.0,659.3 387.0,660.4 393.0,663.0 399.0,664.1" fill="none" stroke="#262626" stroke-width=".9"/>
<polyline points="403.0,661.3 408.5,663.7 414.0,664.7 419.5,667.1 425.0,668.1" fill="none" stroke="#262626" stroke-width=".9"/>
<polyline points="439.0,665.8 444.0,664.7 449.0,662.1 454.0,661.0 459.0,658.4" fill="none" stroke="#262626" stroke-width=".9"/>
<polyline points="483.0,660.1 488.7,662.7 494.3,663.9 500.0,666.5" fill="none" stroke="#262626" stroke-width=".9"/>
<polyline points="518.0,668.7 523.5,671.2 529.0,672.4 534.5,675.0 540.0,676.2" fill="none" stroke="#262626" stroke-width=".9"/>
<polyline points="375.0,664.5 381.0,667.1 387.0,668.2 393.0,670.8 399.0,672.0" fill="none" stroke="#262626" stroke-width=".9"/>
<polyline points="403.0,669.1 408.5,671.5 414.0,672.5 419.5,674.9 425.0,676.0" fill="none" stroke="#262626" stroke-width=".9"/>
<polyline points="439.0,673.7 444.0,672.5 449.0,669.9 454.0,668.8 459.0,666.2" fill="none" stroke="#262626" stroke-width=".9"/>
<polyline points="483.0,667.9 488.7,670.5 494.3,671.8 500.0,674.4" fill="none" stroke="#262626" stroke-width=".9"/>
<polyline points="518.0,676.6 523.5,679.1 529.0,680.3 534.5,682.9 540.0,684.1" fill="none" stroke="#262626" stroke-width=".9"/>
<polyline points="375.0,672.4 381.0,674.9 387.0,676.1 393.0,678.7 399.0,679.9" fill="none" stroke="#262626" stroke-width=".9"/>
<polyline points="403.0,677.0 408.5,679.4 414.0,680.4 419.5,682.9 425.0,683.9" fill="none" stroke="#262626" stroke-width=".9"/>
<polyline points="439.0,681.6 444.0,680.4 449.0,677.8 454.0,676.7 459.0,674.1" fill="none" stroke="#262626" stroke-width=".9"/>
<polyline points="483.0,675.8 488.7,678.4 494.3,679.7 500.0,682.3" fill="none" stroke="#262626" stroke-width=".9"/>
<polyline points="518.0,684.5 523.5,687.1 529.0,688.3 534.5,690.9 540.0,692.1" fill="none" stroke="#262626" stroke-width=".9"/>
<polyline points="375.0,680.3 381.0,682.9 387.0,684.1 393.0,686.7 399.0,687.9" fill="none" stroke="#262626" stroke-width=".9"/>
<polyline points="403.0,684.9 408.5,687.4 414.0,688.4 419.5,690.9 425.0,692.0" fill="none" stroke="#262626" stroke-width=".9"/>
<polyline points="439.0,689.6 444.0,688.4 449.0,685.8 454.0,684.6 459.0,682.0" fill="none" stroke="#262626" stroke-width=".9"/>
<polyline points="483.0,683.8 488.7,686.4 494.3,687.7 500.0,690.3" fill="none" stroke="#262626" stroke-width=".9"/>
<polyline points="518.0,692.5 523.5,695.1 529.0,696.3 534.5,698.9 540.0,700.1" fill="none" stroke="#262626" stroke-width=".9"/>
<polyline points="375.0,688.3 381.0,690.9 387.0,692.1 393.0,694.7 399.0,695.9" fill="none" stroke="#262626" stroke-width=".9"/>
<polyline points="403.0,693.0 408.5,695.4 414.0,696.4 419.5,698.9 425.0,699.9" fill="none" stroke="#262626" stroke-width=".9"/>
<polyline points="439.0,697.6 444.0,696.4 449.0,693.8 454.0,692.6 459.0,690.0" fill="none" stroke="#262626" stroke-width=".9"/>
<polyline points="483.0,691.8 488.7,694.4 494.3,695.7 500.0,698.3" fill="none" stroke="#262626" stroke-width=".9"/>
<polyline points="518.0,700.5 523.5,703.1 529.0,704.3 534.5,706.8 540.0,708.0" fill="none" stroke="#262626" stroke-width=".9"/>
<polyline points="375.0,690.7 381.0,693.3 387.0,694.5 393.0,697.0 399.0,698.2" fill="none" stroke="#262626" stroke-width=".9"/>
<polyline points="403.0,695.3 408.5,697.8 414.0,698.8 419.5,701.2 425.0,702.3" fill="none" stroke="#262626" stroke-width=".9"/>
<polyline points="439.0,700.0 444.0,698.8 449.0,696.2 454.0,695.0 459.0,692.4" fill="none" stroke="#262626" stroke-width=".9"/>
<polyline points="483.0,694.2 488.7,696.8 494.3,698.0 500.0,700.7" fill="none" stroke="#262626" stroke-width=".9"/>
<polyline points="518.0,702.9 523.5,705.5 529.0,706.6 534.5,709.2 540.0,710.4" fill="none" stroke="#262626" stroke-width=".9"/>
<polyline points="375.0,698.6 381.0,701.2 387.0,702.4 393.0,705.0 399.0,706.2" fill="none" stroke="#262626" stroke-width=".9"/>
<polyline points="403.0,703.3 408.5,705.7 414.0,706.8 419.5,709.2 425.0,710.2" fill="none" stroke="#262626" stroke-width=".9"/>
<polyline points="439.0,707.9 444.0,706.7 449.0,704.1 454.0,703.0 459.0,700.4" fill="none" stroke="#262626" stroke-width=".9"/>
<polyline points="483.0,702.1 488.7,704.7 494.3,706.0 500.0,708.6" fill="none" stroke="#262626" stroke-width=".9"/>
<polyline points="518.0,710.8 523.5,713.4 529.0,714.6 534.5,717.2 540.0,718.4" fill="none" stroke="#262626" stroke-width=".9"/>
<polyline points="375.0,706.6 381.0,709.2 387.0,710.4 393.0,712.9 399.0,714.1" fill="none" stroke="#262626" stroke-width=".9"/>
<polyline points="403.0,711.2 408.5,713.7 414.0,714.7 419.5,717.1 425.0,718.2" fill="none" stroke="#262626" stroke-width=".9"/>
<polyline points="439.0,715.9 444.0,714.7 449.0,712.1 454.0,710.9 459.0,708.3" fill="none" stroke="#262626" stroke-width=".9"/>
<polyline points="483.0,710.1 488.7,712.7 494.3,713.9 500.0,716.6" fill="none" stroke="#262626" stroke-width=".9"/>
<polyline points="518.0,718.8 523.5,721.3 529.0,722.5 534.5,725.1 540.0,726.3" fill="none" stroke="#262626" stroke-width=".9"/>
<polyline points="375.0,714.5 381.0,717.1 387.0,718.3 393.0,720.9 399.0,722.1" fill="none" stroke="#262626" stroke-width=".9"/>
<polyline points="403.0,719.2 408.5,721.6 414.0,722.7 419.5,725.1 425.0,726.1" fill="none" stroke="#262626" stroke-width=".9"/>
<polyline points="439.0,723.8 444.0,722.6 449.0,720.0 454.0,718.9 459.0,716.3" fill="none" stroke="#262626" stroke-width=".9"/>
<polyline points="483.0,718.0 488.7,720.6 494.3,721.9 500.0,724.5" fill="none" stroke="#262626" stroke-width=".9"/>
<polyline points="518.0,726.7 523.5,729.3 529.0,730.5 534.5,733.1 540.0,734.2" fill="none" stroke="#262626" stroke-width=".9"/>
<polyline points="375.0,722.5 381.0,725.1 387.0,726.2 393.0,728.8 399.0,730.0" fill="none" stroke="#262626" stroke-width=".9"/>
<polyline points="403.0,727.1 408.5,729.6 414.0,730.6 419.5,733.0 425.0,734.1" fill="none" stroke="#262626" stroke-width=".9"/>
<polyline points="439.0,731.8 444.0,730.6 449.0,728.0 454.0,726.8 459.0,724.2" fill="none" stroke="#262626" stroke-width=".9"/>
<polyline points="483.0,726.0 488.7,728.6 494.3,729.8 500.0,732.5" fill="none" stroke="#262626" stroke-width=".9"/>
<polyline points="518.0,734.7 523.5,737.2 529.0,738.4 534.5,741.0 540.0,742.2" fill="none" stroke="#262626" stroke-width=".9"/>
<polyline points="375.0,730.4 381.0,733.0 387.0,734.2 393.0,736.8 399.0,738.0" fill="none" stroke="#262626" stroke-width=".9"/>
<polyline points="403.0,735.1 408.5,737.5 414.0,738.5 419.5,741.0 425.0,742.0" fill="none" stroke="#262626" stroke-width=".9"/>
<polyline points="439.0,739.7 444.0,738.5 449.0,735.9 454.0,734.7 459.0,732.2" fill="none" stroke="#262626" stroke-width=".9"/>
<polyline points="483.0,733.9 488.7,736.5 494.3,737.8 500.0,740.4" fill="none" stroke="#262626" stroke-width=".9"/>
<polyline points="518.0,742.6 523.5,745.2 529.0,746.4 534.5,749.0 540.0,750.1" fill="none" stroke="#262626" stroke-width=".9"/>
<polyline points="375.0,738.4 381.0,740.9 387.0,742.1 393.0,744.7 399.0,745.9" fill="none" stroke="#262626" stroke-width=".9"/>
<polyline points="403.0,743.0 408.5,745.4 414.0,746.5 419.5,748.9 425.0,750.0" fill="none" stroke="#262626" stroke-width=".9"/>
<polyline points="439.0,747.6 444.0,746.5 449.0,743.9 454.0,742.7 459.0,740.1" fill="none" stroke="#262626" stroke-width=".9"/>
<polyline points="483.0,741.8 488.7,744.5 494.3,745.7 500.0,748.3" fill="none" stroke="#262626" stroke-width=".9"/>
<polyline points="518.0,750.5 523.5,753.1 529.0,754.3 534.5,756.9 540.0,758.1" fill="none" stroke="#262626" stroke-width=".9"/>
<polyline points="375.0,746.3 381.0,748.9 387.0,750.1 393.0,752.7 399.0,753.9" fill="none" stroke="#262626" stroke-width=".9"/>
<polyline points="403.0,751.0 408.5,753.4 414.0,754.4 419.5,756.9 425.0,757.9" fill="none" stroke="#262626" stroke-width=".9"/>
<polyline points="439.0,755.6 444.0,754.4 449.0,751.8 454.0,750.6 459.0,748.1" fill="none" stroke="#262626" stroke-width=".9"/>
<polyline points="483.0,749.8 488.7,752.4 494.3,753.7 500.0,756.3" fill="none" stroke="#262626" stroke-width=".9"/>
<polyline points="518.0,758.5 523.5,761.1 529.0,762.3 534.5,764.8 540.0,766.0" fill="none" stroke="#262626" stroke-width=".9"/>
<polyline points="375.0,748.7 381.0,751.3 387.0,752.5 393.0,755.0 399.0,756.2" fill="none" stroke="#262626" stroke-width=".9"/>
<polyline points="403.0,753.3 408.5,755.8 414.0,756.8 419.5,759.2 425.0,760.3" fill="none" stroke="#262626" stroke-width=".9"/>
<polyline points="439.0,758.0 444.0,756.8 449.0,754.2 454.0,753.0 459.0,750.4" fill="none" stroke="#262626" stroke-width=".9"/>
<polyline points="483.0,752.2 488.7,754.8 494.3,756.0 500.0,758.7" fill="none" stroke="#262626" stroke-width=".9"/>
<polyline points="518.0,760.9 523.5,763.5 529.0,764.6 534.5,767.2 540.0,768.4" fill="none" stroke="#262626" stroke-width=".9"/>
<polyline points="375.0,756.6 381.0,759.2 387.0,760.4 393.0,763.0 399.0,764.2" fill="none" stroke="#262626" stroke-width=".9"/>
<polyline points="403.0,761.3 408.5,763.7 414.0,764.8 419.5,767.2 425.0,768.2" fill="none" stroke="#262626" stroke-width=".9"/>
<polyline points="439.0,765.9 444.0,764.7 449.0,762.1 454.0,761.0 459.0,758.4" fill="none" stroke="#262626" stroke-width=".9"/>
<polyline points="483.0,760.1 488.7,762.7 494.3,764.0 500.0,766.6" fill="none" stroke="#262626" stroke-width=".9"/>
<polyline points="518.0,768.8 523.5,771.4 529.0,772.6 534.5,775.2 540.0,776.4" fill="none" stroke="#262626" stroke-width=".9"/>
<polyline points="375.0,764.6 381.0,767.2 387.0,768.4 393.0,770.9 399.0,772.1" fill="none" stroke="#262626" stroke-width=".9"/>
<polyline points="403.0,769.2 408.5,771.7 414.0,772.7 419.5,775.1 425.0,776.2" fill="none" stroke="#262626" stroke-width=".9"/>
<polyline points="439.0,773.9 444.0,772.7 449.0,770.1 454.0,768.9 459.0,766.3" fill="none" stroke="#262626" stroke-width=".9"/>
<polyline points="483.0,768.1 488.7,770.7 494.3,771.9 500.0,774.6" fill="none" stroke="#262626" stroke-width=".9"/>
<polyline points="518.0,776.8 523.5,779.3 529.0,780.5 534.5,783.1 540.0,784.3" fill="none" stroke="#262626" stroke-width=".9"/>
<polyline points="375.0,772.5 381.0,775.1 387.0,776.3 393.0,778.9 399.0,780.1" fill="none" stroke="#262626" stroke-width=".9"/>
<polyline points="403.0,777.2 408.5,779.6 414.0,780.7 419.5,783.1 425.0,784.1" fill="none" stroke="#262626" stroke-width=".9"/>
<polyline points="439.0,781.8 444.0,780.6 449.0,778.0 454.0,776.9 459.0,774.3" fill="none" stroke="#262626" stroke-width=".9"/>
<polyline points="483.0,776.0 488.7,778.6 494.3,779.9 500.0,782.5" fill="none" stroke="#262626" stroke-width=".9"/>
<polyline points="518.0,784.7 523.5,787.3 529.0,788.5 534.5,791.1 540.0,792.2" fill="none" stroke="#262626" stroke-width=".9"/>
<polyline points="375.0,780.5 381.0,783.1 387.0,784.2 393.0,786.8 399.0,788.0" fill="none" stroke="#262626" stroke-width=".9"/>
<polyline points="403.0,785.1 408.5,787.6 414.0,788.6 419.5,791.0 425.0,792.1" fill="none" stroke="#262626" stroke-width=".9"/>
<polyline points="439.0,789.8 444.0,788.6 449.0,786.0 454.0,784.8 459.0,782.2" fill="none" stroke="#262626" stroke-width=".9"/>
<polyline points="483.0,784.0 488.7,786.6 494.3,787.8 500.0,790.5" fill="none" stroke="#262626" stroke-width=".9"/>
<polyline points="518.0,792.7 523.5,795.2 529.0,796.4 534.5,799.0 540.0,800.2" fill="none" stroke="#262626" stroke-width=".9"/>
<polyline points="375.0,788.4 381.0,791.0 387.0,792.2 393.0,794.8 399.0,796.0" fill="none" stroke="#262626" stroke-width=".9"/>
<polyline points="403.0,793.1 408.5,795.5 414.0,796.5 419.5,799.0 425.0,800.0" fill="none" stroke="#262626" stroke-width=".9"/>
<polyline points="439.0,797.7 444.0,796.5 449.0,793.9 454.0,792.7 459.0,790.2" fill="none" stroke="#262626" stroke-width=".9"/>
<polyline points="483.0,791.9 488.7,794.5 494.3,795.8 500.0,798.4" fill="none" stroke="#262626" stroke-width=".9"/>
<polyline points="518.0,800.6 523.5,803.2 529.0,804.4 534.5,807.0 540.0,808.1" fill="none" stroke="#262626" stroke-width=".9"/>
<polyline points="375.0,796.4 381.0,798.9 387.0,800.1 393.0,802.7 399.0,803.9" fill="none" stroke="#262626" stroke-width=".9"/>
<polyline points="403.0,801.0 408.5,803.4 414.0,804.5 419.5,806.9 425.0,808.0" fill="none" stroke="#262626" stroke-width=".9"/>
<polyline points="439.0,805.6 444.0,804.5 449.0,801.9 454.0,800.7 459.0,798.1" fill="none" stroke="#262626" stroke-width=".9"/>
<polyline points="483.0,799.8 488.7,802.5 494.3,803.7 500.0,806.3" fill="none" stroke="#262626" stroke-width=".9"/>
<polyline points="518.0,808.5 523.5,811.1 529.0,812.3 534.5,814.9 540.0,816.1" fill="none" stroke="#262626" stroke-width=".9"/>
<polyline points="375.0,804.3 381.0,806.9 387.0,808.1 393.0,810.7 399.0,811.9" fill="none" stroke="#262626" stroke-width=".9"/>
<polyline points="403.0,809.0 408.5,811.4 414.0,812.4 419.5,814.9 425.0,815.9" fill="none" stroke="#262626" stroke-width=".9"/>
<polyline points="439.0,813.6 444.0,812.4 449.0,809.8 454.0,808.6 459.0,806.1" fill="none" stroke="#262626" stroke-width=".9"/>
<polyline points="483.0,807.8 488.7,810.4 494.3,811.7 500.0,814.3" fill="none" stroke="#262626" stroke-width=".9"/>
<polyline points="518.0,816.5 523.5,819.1 529.0,820.3 534.5,822.8 540.0,824.0" fill="none" stroke="#262626" stroke-width=".9"/>
<polygon points="376.8,197.6 394.7,198.5 396.9,199.1 419.0,200.8 422.6,201.9 415.3,201.6 376.8,199.8" fill="#0b0b0d"/>
<polygon points="376.5,211.6 394.4,212.5 396.6,213.1 418.7,214.8 422.3,216.2 415.1,215.8 376.4,213.8" fill="#0b0b0d"/>
<polygon points="427.8,219.0 420.1,219.9 391.0,223.1 387.9,225.0 392.7,225.1 420.1,221.5 428.2,219.9" fill="#0b0b0d"/>
<polygon points="479.9,215.0 537.5,221.5 537.7,224.5 475.7,216.6" fill="#0b0b0d"/>
<polygon points="438.3,218.1 469.9,214.7 469.9,216.4 438.3,220.2" fill="#0b0b0d"/>
<polygon points="375.7,229.5 393.9,230.9 396.0,232.0 418.3,234.6 422.0,236.6 414.6,236.0 375.6,232.9" fill="#0b0b0d"/>
<polygon points="427.5,240.8 419.7,242.1 390.2,246.4 387.0,249.0 391.9,249.1 419.7,244.3 427.9,242.0" fill="#0b0b0d"/>
<polygon points="480.1,234.8 538.5,244.3 538.6,248.3 475.9,237.3" fill="#0b0b0d"/>
<polygon points="374.7,254.8 393.0,256.6 395.2,257.9 417.8,261.2 421.5,263.7 414.1,263.0 374.5,259.2" fill="#0b0b0d"/>
<polygon points="427.1,268.6 419.2,270.2 389.3,275.1 386.0,278.1 391.0,278.1 419.1,272.7 427.4,270.0" fill="#0b0b0d"/>
<polygon points="480.4,261.5 539.7,272.7 539.8,277.2 476.1,264.5" fill="#0b0b0d"/>
<polygon points="437.8,267.1 470.2,261.0 470.2,264.1 437.8,270.6" fill="#0b0b0d"/>
<polygon points="373.5,284.4 392.1,286.3 394.3,287.7 417.3,291.1 421.0,293.6 413.5,292.9 373.3,289.0" fill="#0b0b0d"/>
<polygon points="426.7,298.7 418.8,300.3 388.6,305.3 385.4,308.4 390.4,308.5 418.8,302.9 427.1,300.1" fill="#0b0b0d"/>
<polygon points="480.7,291.3 540.5,302.9 540.5,307.5 476.4,294.4" fill="#0b0b0d"/>
<polygon points="373.0,315.1 391.7,317.2 393.9,318.7 417.1,322.6 420.8,325.5 413.3,324.6 372.9,320.1" fill="#0b0b0d"/>
<polygon points="426.6,331.3 418.6,333.1 388.2,339.0 385.0,342.6 390.0,342.7 418.5,336.1 426.9,332.9" fill="#0b0b0d"/>
<polygon points="480.9,322.9 541.0,336.1 541.0,341.6 476.5,326.4" fill="#0b0b0d"/>
<polygon points="437.5,329.5 470.4,322.3 470.4,325.9 437.5,333.6" fill="#0b0b0d"/>
<polygon points="372.4,350.3 391.3,352.6 393.5,354.3 416.8,358.7 420.6,361.8 413.0,360.9 372.4,356.0" fill="#0b0b0d"/>
<polygon points="426.4,368.2 418.3,370.2 387.8,376.7 384.5,380.6 389.6,380.6 418.3,373.5 426.8,370.0" fill="#0b0b0d"/>
<polygon points="481.0,359.0 541.5,373.5 541.6,379.4 476.6,362.8" fill="#0b0b0d"/>
<polygon points="371.9,389.1 390.9,391.7 393.1,393.6 416.5,398.5 420.4,402.1 412.7,401.0 371.8,395.4" fill="#0b0b0d"/>
<polygon points="426.2,409.3 418.0,411.6 387.3,418.9 384.0,423.2 389.1,423.3 418.0,415.4 426.5,411.4" fill="#0b0b0d"/>
<polygon points="481.2,398.8 542.1,415.4 542.2,422.0 476.7,403.2" fill="#0b0b0d"/>
<polygon points="437.2,407.1 470.6,398.2 470.6,402.7 437.2,412.2" fill="#0b0b0d"/>
<polygon points="371.3,432.6 390.4,435.4 392.7,437.5 416.3,442.6 420.1,446.3 412.4,445.2 371.2,439.4" fill="#0b0b0d"/>
<polygon points="425.9,453.9 417.8,456.2 386.8,463.7 383.4,468.3 388.6,468.4 417.7,460.1 426.3,456.0" fill="#0b0b0d"/>
<polygon points="481.4,442.9 542.7,460.1 542.8,467.0 476.9,447.6" fill="#0b0b0d"/>
<polygon points="370.6,478.2 389.9,481.2 392.2,483.5 416.0,489.1 419.9,493.3 412.1,492.0 370.6,485.6" fill="#0b0b0d"/>
<polygon points="425.8,501.7 417.6,504.3 386.6,512.8 383.3,517.8 388.5,517.9 417.6,508.7 426.2,504.1" fill="#0b0b0d"/>
<polygon points="481.5,489.5 543.0,508.7 543.0,516.3 477.0,494.6" fill="#0b0b0d"/>
<polygon points="437.0,499.1 470.8,488.8 470.8,494.0 437.0,505.0" fill="#0b0b0d"/>
<polygon points="370.6,528.6 389.9,531.9 392.2,534.2 416.0,540.1 419.9,544.5 412.1,543.2 370.6,536.4" fill="#0b0b0d"/>
<polygon points="425.8,553.1 417.6,555.8 386.6,564.3 383.3,569.4 388.5,569.5 417.6,560.1 426.2,555.5" fill="#0b0b0d"/>
<polygon points="481.5,540.6 543.0,560.1 543.0,567.9 477.0,545.9" fill="#0b0b0d"/>
<polygon points="370.6,580.3 389.9,583.6 392.2,586.0 416.0,592.1 419.9,596.5 412.1,595.2 370.6,588.3" fill="#0b0b0d"/>
<polygon points="425.8,605.4 417.6,608.2 386.6,617.0 383.3,622.3 388.5,622.4 417.6,612.7 426.2,607.9" fill="#0b0b0d"/>
<polygon points="481.5,592.5 543.0,612.7 543.0,620.8 477.0,597.9" fill="#0b0b0d"/>
<polygon points="437.0,602.7 470.8,591.7 470.8,597.2 437.0,608.9" fill="#0b0b0d"/>
<polygon points="370.6,633.8 389.9,637.3 392.2,639.8 416.0,646.2 419.9,650.9 412.1,649.5 370.6,642.2" fill="#0b0b0d"/>
<polygon points="425.8,660.3 417.6,663.3 386.6,672.7 383.3,678.4 388.5,678.5 417.6,668.1 426.2,663.0" fill="#0b0b0d"/>
<polygon points="481.5,646.7 543.0,668.1 543.0,676.7 477.0,652.4" fill="#0b0b0d"/>
<polygon points="370.6,690.6 389.9,694.3 392.2,697.0 416.0,703.6 419.9,708.5 412.1,707.0 370.6,699.5" fill="#0b0b0d"/>
<polygon points="425.8,718.2 417.6,721.2 386.6,730.8 383.3,736.5 388.5,736.6 417.6,726.1 426.2,720.9" fill="#0b0b0d"/>
<polygon points="481.5,704.1 543.0,726.1 543.0,734.8 477.0,710.1" fill="#0b0b0d"/>
<polygon points="437.0,715.2 470.8,703.2 470.8,709.3 437.0,722.0" fill="#0b0b0d"/>
<polygon points="370.6,748.6 389.9,752.3 392.2,755.0 416.0,761.6 419.9,766.5 412.1,765.0 370.6,757.5" fill="#0b0b0d"/>
<polygon points="425.8,776.2 417.6,779.2 386.6,788.8 383.3,794.5 388.5,794.6 417.6,784.1 426.2,778.9" fill="#0b0b0d"/>
<polygon points="481.5,762.1 543.0,784.1 543.0,792.8 477.0,768.1" fill="#0b0b0d"/>
<polygon points="438.0,198.0 432.9,204.8 428.5,218.9 428.2,219.7 432.7,219.7 428.2,240.6 427.9,241.8 432.4,241.8 427.7,268.4 427.4,269.8 432.0,269.8 427.4,298.4 427.1,299.9 431.8,299.9 427.2,331.0 426.9,332.7 431.6,332.7 427.1,367.9 426.8,369.8 431.5,369.8 426.9,409.0 426.5,411.1 431.3,411.1 426.6,453.5 426.3,455.7 431.1,455.7 426.5,501.3 426.2,503.8 431.0,503.8 426.5,552.7 426.2,555.2 431.0,555.2 426.5,604.9 426.2,607.6 431.0,607.6 426.5,659.9 426.2,662.6 431.0,662.6 426.5,717.7 426.2,720.6 431.0,720.6 426.5,775.7 426.2,778.6 431.0,778.6 426.5,833.7 426.2,836.6 436.5,808.2" fill="#3e3e41"/>
<polygon points="435.1,198.0 433.4,808.2 435.5,808.2 437.0,198.0" fill="#1d1d1f"/>
<polygon points="459.8,188.3 470.9,201.0 459.8,202.3 471.0,215.1 459.8,216.6 471.1,235.1 459.8,237.3 471.3,261.8 459.9,264.5 471.5,291.6 459.9,294.5 471.6,323.2 459.9,326.5 471.7,359.3 459.9,362.9 471.8,399.3 460.0,403.3 471.9,443.4 460.0,447.6 472.0,490.0 460.0,494.7 472.0,541.1 460.0,546.0 472.0,593.0 460.0,598.0 472.0,647.2 460.0,652.5 472.0,704.7 460.0,710.2 472.0,762.7 460.0,768.2 472.0,820.7 481.2,823.0 470.0,769.9 481.2,765.0 470.0,711.9 481.2,707.0 470.0,654.2 481.2,649.5 470.0,599.6 481.2,595.2 470.0,547.5 481.2,543.2 470.0,496.2 481.2,492.0 469.9,449.0 481.1,445.2 469.8,404.6 480.9,401.0 469.8,364.1 480.7,360.9 469.7,327.5 480.6,324.6 469.6,295.4 480.4,292.9 469.4,265.4 480.1,263.0 469.3,238.1 479.8,236.0 469.1,217.1 479.6,215.8 469.1,202.8 479.5,201.6 469.1,188.8" fill="#7a7a7d"/>
<polygon points="465.4,188.8 476.5,201.5 465.4,202.8 476.6,215.7 465.4,217.2 476.8,235.9 465.5,238.2 477.1,262.8 465.6,265.6 477.3,292.7 465.7,295.6 477.5,324.4 465.8,327.7 477.6,360.7 465.8,364.3 477.7,400.8 465.9,404.8 477.9,445.0 466.0,449.2 478.0,491.7 466.0,496.5 478.0,542.9 466.0,547.8 478.0,594.9 466.0,599.9 478.0,649.2 466.0,654.5 478.0,706.7 466.0,712.2 478.0,764.7 466.0,770.2 478.0,822.7 481.2,823.0 470.0,769.9 481.2,765.0 470.0,711.9 481.2,707.0 470.0,654.2 481.2,649.5 470.0,599.6 481.2,595.2 470.0,547.5 481.2,543.2 470.0,496.2 481.2,492.0 469.9,449.0 481.1,445.2 469.8,404.6 480.9,401.0 469.8,364.1 480.7,360.9 469.7,327.5 480.6,324.6 469.6,295.4 480.4,292.9 469.4,265.4 480.1,263.0 469.3,238.1 479.8,236.0 469.1,217.1 479.6,215.8 469.1,202.8 479.5,201.6 469.1,188.8" fill="#19191b"/>
<polygon points="498.6,190.7 497.6,197.0 508.3,198.7 506.9,203.4 511.0,203.8 512.4,198.3 501.7,196.2 502.7,191.1" fill="#1a1a1c"/>
<polygon points="498.6,204.7 497.8,211.0 508.6,212.7 507.3,217.9 511.4,218.4 512.6,212.3 501.9,210.2 502.7,205.1" fill="#1a1a1c"/>
<polygon points="498.9,219.6 498.2,228.6 509.0,231.2 507.8,239.2 512.0,239.9 513.2,230.5 502.3,227.3 503.0,220.1" fill="#1a1a1c"/>
<polygon points="499.4,241.6 498.7,253.6 509.7,257.0 508.6,266.8 512.8,267.6 513.9,256.2 502.8,252.0 503.6,242.3" fill="#1a1a1c"/>
<polygon points="500.0,269.5 499.3,283.1 510.5,286.7 509.2,296.8 513.4,297.6 514.8,285.8 503.5,281.3 504.2,270.4" fill="#1a1a1c"/>
<polygon points="500.5,299.6 499.6,313.7 510.8,317.6 509.5,329.1 513.8,330.0 515.1,316.7 503.9,311.8 504.7,300.5" fill="#1a1a1c"/>
<polygon points="500.7,332.4 499.9,348.7 511.1,353.2 509.8,365.9 514.1,366.9 515.4,352.0 504.1,346.5 505.0,333.4" fill="#1a1a1c"/>
<polygon points="501.0,369.4 500.1,387.3 511.5,392.3 510.2,406.7 514.5,407.8 515.8,391.0 504.4,384.9 505.3,370.6" fill="#1a1a1c"/>
<polygon points="501.3,410.7 500.4,430.7 511.9,436.0 510.5,451.1 514.9,452.3 516.3,434.7 504.8,428.0 505.7,412.0" fill="#1a1a1c"/>
<polygon points="501.6,455.3 500.8,476.1 512.3,481.9 510.8,498.6 515.2,499.9 516.7,480.5 505.1,473.3 506.0,456.6" fill="#1a1a1c"/>
<polygon points="501.8,503.3 500.8,526.4 512.3,532.6 510.8,549.9 515.2,551.3 516.7,531.0 505.2,523.3 506.2,504.8" fill="#1a1a1c"/>
<polygon points="501.8,554.7 500.8,578.0 512.3,584.3 510.8,602.1 515.2,603.5 516.7,582.7 505.2,574.9 506.2,556.2" fill="#1a1a1c"/>
<polygon points="501.8,607.0 500.8,631.5 512.3,638.1 510.8,656.9 515.2,658.3 516.7,636.4 505.2,628.2 506.2,608.6" fill="#1a1a1c"/>
<polygon points="501.8,662.1 500.8,688.1 512.3,695.1 510.8,714.6 515.2,716.2 516.7,693.4 505.2,684.6 506.2,663.8" fill="#1a1a1c"/>
<polygon points="501.8,720.0 500.8,746.1 512.3,753.1 510.8,772.6 515.2,774.2 516.7,751.4 505.2,742.7 506.2,721.7" fill="#1a1a1c"/>
<polygon points="501.8,778.0 500.8,804.1 512.3,811.1 510.8,830.6 515.2,832.2 516.7,809.4 505.2,800.7 506.2,779.7" fill="#1a1a1c"/>
<rect x="260" y="200" width="400" height="325" fill="url(#shade)"/>
<polygon points="614.7,264.2 617.7,273.0 620.2,281.0 622.5,290.0 624.2,298.0 626.1,307.7 628.4,335.4 629.7,363.0 630.8,390.7 631.7,418.4 632.2,446.0 632.7,473.8 633.3,530.0 634.0,600.0 634.7,703.0 642.8,703.0 642.1,600.0 641.4,530.0 640.8,473.8 640.3,446.0 639.8,418.4 638.9,390.7 637.8,363.0 636.5,335.4 634.2,307.7 632.3,298.0 630.6,290.0 628.3,281.0 625.8,273.0 622.8,264.2" fill="url(#rb)"/>
<path d="M629.8,307.7 L632.1,335.4 L633.4,363.0 L634.5,390.7 L635.4,418.4 L635.9,446.0 L636.4,473.8" fill="none" stroke="#fff" stroke-opacity=".16" stroke-width="3"/>
<polygon points="302.2,249.4 313.3,246.3 311.8,250.7 299.7,253.8" fill="rgb(82,85,86)"/>
<polygon points="297.0,265.9 312.2,262.6 310.7,267.4 294.5,270.6" fill="rgb(106,109,110)"/>
<polygon points="295.5,278.4 311.4,275.1 309.9,279.9 293.0,283.3" fill="rgb(106,109,110)"/>
<polygon points="294.3,296.0 310.2,292.4 308.7,297.3 291.8,300.8" fill="rgb(107,110,111)"/>
<polygon points="293.7,308.9 309.4,305.2 307.9,310.3 291.2,313.9" fill="rgb(108,111,112)"/>
<polygon points="293.1,328.0 308.1,324.2 306.6,329.8 290.6,333.6" fill="rgb(109,112,113)"/>
<polygon points="292.5,343.0 307.1,339.0 305.6,344.9 290.0,348.8" fill="rgb(118,121,122)"/>
<polygon points="291.9,364.6 305.7,360.5 304.2,366.6 289.4,370.7" fill="rgb(132,135,136)"/>
<polygon points="291.7,381.0 304.6,376.7 303.1,383.1 289.2,387.4" fill="rgb(133,136,137)"/>
<polygon points="291.6,405.2 304.5,400.6 303.0,407.6 289.1,412.1" fill="rgb(135,138,139)"/>
<polygon points="290.9,423.7 304.5,419.0 303.0,426.1 288.4,430.8" fill="rgb(137,140,141)"/>
<polygon points="290.4,449.7 304.5,444.7 303.0,451.9 287.9,456.9" fill="rgb(114,117,118)"/>
<polygon points="290.0,468.9 304.5,463.7 303.0,471.2 287.5,476.3" fill="rgb(89,92,93)"/>
<polygon points="289.6,496.9 304.5,491.5 303.0,499.6 287.1,505.0" fill="rgb(72,75,76)"/>
<polygon points="289.4,518.4 304.5,512.8 303.0,521.0 286.9,526.6" fill="rgb(62,65,66)"/>
<polygon points="289.1,548.4 304.5,542.5 303.0,550.8 286.6,556.6" fill="rgb(59,62,63)"/>
<polygon points="288.9,570.1 304.5,564.1 303.0,572.4 286.4,578.4" fill="rgb(58,61,62)"/>
<polygon points="288.6,600.5 304.5,594.5 303.0,603.0 286.1,609.0" fill="rgb(57,60,61)"/>
<polygon points="288.5,623.0 304.5,617.0 303.0,625.7 286.0,631.7" fill="rgb(56,59,60)"/>
<polygon points="288.3,655.0 304.5,649.0 303.0,658.0 285.8,664.0" fill="rgb(55,58,59)"/>
<polygon points="288.2,678.9 304.5,672.9 303.0,682.2 285.7,688.2" fill="rgb(54,57,58)"/>
<polygon points="595.0,216.0 596.1,230.0 597.7,250.0 599.2,270.0 600.8,290.0 602.4,310.0 604.0,330.0 605.6,350.0 605.6,352.0 606.3,332.0 607.1,312.0 607.8,292.0 606.6,272.0 605.3,252.0 604.1,232.0 598.0,218.0" fill="#56565b" fill-opacity=".85"/>
<polygon points="376.8,197.6 394.7,198.5 396.9,199.1 419.0,200.8 422.6,201.9 415.3,201.6 376.8,199.8" fill="none" stroke="#e8338c" stroke-width="1.7"/>
<polygon points="376.5,211.6 394.4,212.5 396.6,213.1 418.7,214.8 422.3,216.2 415.1,215.8 376.4,213.8" fill="none" stroke="#e8338c" stroke-width="1.7"/>
<polygon points="427.8,219.0 420.1,219.9 391.0,223.1 387.9,225.0 392.7,225.1 420.1,221.5 428.2,219.9" fill="none" stroke="#e8338c" stroke-width="1.7"/>
<polygon points="479.9,215.0 537.5,221.5 537.7,224.5 475.7,216.6" fill="none" stroke="#e8338c" stroke-width="1.7"/>
<polygon points="438.3,218.1 469.9,214.7 469.9,216.4 438.3,220.2" fill="none" stroke="#e8338c" stroke-width="1.7"/>
<polygon points="375.7,229.5 393.9,230.9 396.0,232.0 418.3,234.6 422.0,236.6 414.6,236.0 375.6,232.9" fill="none" stroke="#e8338c" stroke-width="1.7"/>
<polygon points="427.5,240.8 419.7,242.1 390.2,246.4 387.0,249.0 391.9,249.1 419.7,244.3 427.9,242.0" fill="none" stroke="#e8338c" stroke-width="1.7"/>
<polygon points="480.1,234.8 538.5,244.3 538.6,248.3 475.9,237.3" fill="none" stroke="#e8338c" stroke-width="1.7"/>
<polygon points="374.7,254.8 393.0,256.6 395.2,257.9 417.8,261.2 421.5,263.7 414.1,263.0 374.5,259.2" fill="none" stroke="#e8338c" stroke-width="1.7"/>
<polygon points="427.1,268.6 419.2,270.2 389.3,275.1 386.0,278.1 391.0,278.1 419.1,272.7 427.4,270.0" fill="none" stroke="#e8338c" stroke-width="1.7"/>
<polygon points="480.4,261.5 539.7,272.7 539.8,277.2 476.1,264.5" fill="none" stroke="#e8338c" stroke-width="1.7"/>
<polygon points="437.8,267.1 470.2,261.0 470.2,264.1 437.8,270.6" fill="none" stroke="#e8338c" stroke-width="1.7"/>
<polygon points="373.5,284.4 392.1,286.3 394.3,287.7 417.3,291.1 421.0,293.6 413.5,292.9 373.3,289.0" fill="none" stroke="#e8338c" stroke-width="1.7"/>
<polygon points="426.7,298.7 418.8,300.3 388.6,305.3 385.4,308.4 390.4,308.5 418.8,302.9 427.1,300.1" fill="none" stroke="#e8338c" stroke-width="1.7"/>
<polygon points="480.7,291.3 540.5,302.9 540.5,307.5 476.4,294.4" fill="none" stroke="#e8338c" stroke-width="1.7"/>
<polygon points="373.0,315.1 391.7,317.2 393.9,318.7 417.1,322.6 420.8,325.5 413.3,324.6 372.9,320.1" fill="none" stroke="#e8338c" stroke-width="1.7"/>
<polygon points="426.6,331.3 418.6,333.1 388.2,339.0 385.0,342.6 390.0,342.7 418.5,336.1 426.9,332.9" fill="none" stroke="#e8338c" stroke-width="1.7"/>
<polygon points="480.9,322.9 541.0,336.1 541.0,341.6 476.5,326.4" fill="none" stroke="#e8338c" stroke-width="1.7"/>
<polygon points="437.5,329.5 470.4,322.3 470.4,325.9 437.5,333.6" fill="none" stroke="#e8338c" stroke-width="1.7"/>
<polygon points="372.4,350.3 391.3,352.6 393.5,354.3 416.8,358.7 420.6,361.8 413.0,360.9 372.4,356.0" fill="none" stroke="#e8338c" stroke-width="1.7"/>
<polygon points="426.4,368.2 418.3,370.2 387.8,376.7 384.5,380.6 389.6,380.6 418.3,373.5 426.8,370.0" fill="none" stroke="#e8338c" stroke-width="1.7"/>
<polygon points="481.0,359.0 541.5,373.5 541.6,379.4 476.6,362.8" fill="none" stroke="#e8338c" stroke-width="1.7"/>
<polygon points="371.9,389.1 390.9,391.7 393.1,393.6 416.5,398.5 420.4,402.1 412.7,401.0 371.8,395.4" fill="none" stroke="#e8338c" stroke-width="1.7"/>
<polygon points="426.2,409.3 418.0,411.6 387.3,418.9 384.0,423.2 389.1,423.3 418.0,415.4 426.5,411.4" fill="none" stroke="#e8338c" stroke-width="1.7"/>
<polygon points="481.2,398.8 542.1,415.4 542.2,422.0 476.7,403.2" fill="none" stroke="#e8338c" stroke-width="1.7"/>
<polygon points="437.2,407.1 470.6,398.2 470.6,402.7 437.2,412.2" fill="none" stroke="#e8338c" stroke-width="1.7"/>
<polygon points="371.3,432.6 390.4,435.4 392.7,437.5 416.3,442.6 420.1,446.3 412.4,445.2 371.2,439.4" fill="none" stroke="#e8338c" stroke-width="1.7"/>
<polygon points="425.9,453.9 417.8,456.2 386.8,463.7 383.4,468.3 388.6,468.4 417.7,460.1 426.3,456.0" fill="none" stroke="#e8338c" stroke-width="1.7"/>
<polygon points="481.4,442.9 542.7,460.1 542.8,467.0 476.9,447.6" fill="none" stroke="#e8338c" stroke-width="1.7"/>
<polygon points="370.6,478.2 389.9,481.2 392.2,483.5 416.0,489.1 419.9,493.3 412.1,492.0 370.6,485.6" fill="none" stroke="#e8338c" stroke-width="1.7"/>
<polygon points="425.8,501.7 417.6,504.3 386.6,512.8 383.3,517.8 388.5,517.9 417.6,508.7 426.2,504.1" fill="none" stroke="#e8338c" stroke-width="1.7"/>
<polygon points="481.5,489.5 543.0,508.7 543.0,516.3 477.0,494.6" fill="none" stroke="#e8338c" stroke-width="1.7"/>
<polygon points="437.0,499.1 470.8,488.8 470.8,494.0 437.0,505.0" fill="none" stroke="#e8338c" stroke-width="1.7"/>
<polygon points="370.6,528.6 389.9,531.9 392.2,534.2 416.0,540.1 419.9,544.5 412.1,543.2 370.6,536.4" fill="none" stroke="#e8338c" stroke-width="1.7"/>
<polygon points="425.8,553.1 417.6,555.8 386.6,564.3 383.3,569.4 388.5,569.5 417.6,560.1 426.2,555.5" fill="none" stroke="#e8338c" stroke-width="1.7"/>
<polygon points="481.5,540.6 543.0,560.1 543.0,567.9 477.0,545.9" fill="none" stroke="#e8338c" stroke-width="1.7"/>
<polygon points="370.6,580.3 389.9,583.6 392.2,586.0 416.0,592.1 419.9,596.5 412.1,595.2 370.6,588.3" fill="none" stroke="#e8338c" stroke-width="1.7"/>
<polygon points="425.8,605.4 417.6,608.2 386.6,617.0 383.3,622.3 388.5,622.4 417.6,612.7 426.2,607.9" fill="none" stroke="#e8338c" stroke-width="1.7"/>
<polygon points="481.5,592.5 543.0,612.7 543.0,620.8 477.0,597.9" fill="none" stroke="#e8338c" stroke-width="1.7"/>
<polygon points="437.0,602.7 470.8,591.7 470.8,597.2 437.0,608.9" fill="none" stroke="#e8338c" stroke-width="1.7"/>
<polygon points="370.6,633.8 389.9,637.3 392.2,639.8 416.0,646.2 419.9,650.9 412.1,649.5 370.6,642.2" fill="none" stroke="#e8338c" stroke-width="1.7"/>
<polygon points="425.8,660.3 417.6,663.3 386.6,672.7 383.3,678.4 388.5,678.5 417.6,668.1 426.2,663.0" fill="none" stroke="#e8338c" stroke-width="1.7"/>
<polygon points="481.5,646.7 543.0,668.1 543.0,676.7 477.0,652.4" fill="none" stroke="#e8338c" stroke-width="1.7"/>
<polygon points="370.6,690.6 389.9,694.3 392.2,697.0 416.0,703.6 419.9,708.5 412.1,707.0 370.6,699.5" fill="none" stroke="#e8338c" stroke-width="1.7"/>
<polygon points="425.8,718.2 417.6,721.2 386.6,730.8 383.3,736.5 388.5,736.6 417.6,726.1 426.2,720.9" fill="none" stroke="#e8338c" stroke-width="1.7"/>
<polygon points="481.5,704.1 543.0,726.1 543.0,734.8 477.0,710.1" fill="none" stroke="#e8338c" stroke-width="1.7"/>
<polygon points="437.0,715.2 470.8,703.2 470.8,709.3 437.0,722.0" fill="none" stroke="#e8338c" stroke-width="1.7"/>
<polygon points="370.6,748.6 389.9,752.3 392.2,755.0 416.0,761.6 419.9,766.5 412.1,765.0 370.6,757.5" fill="none" stroke="#e8338c" stroke-width="1.7"/>
<polygon points="425.8,776.2 417.6,779.2 386.6,788.8 383.3,794.5 388.5,794.6 417.6,784.1 426.2,778.9" fill="none" stroke="#e8338c" stroke-width="1.7"/>
<polygon points="481.5,762.1 543.0,784.1 543.0,792.8 477.0,768.1" fill="none" stroke="#e8338c" stroke-width="1.7"/>
<polyline points="432.9,204.8 428.5,218.9 428.2,219.7 432.7,219.7 428.2,240.6 427.9,241.8 432.4,241.8 427.7,268.4 427.4,269.8 432.0,269.8 427.4,298.4 427.1,299.9 431.8,299.9 427.2,331.0 426.9,332.7 431.6,332.7 427.1,367.9 426.8,369.8 431.5,369.8 426.9,409.0 426.5,411.1 431.3,411.1 426.6,453.5 426.3,455.7 431.1,455.7 426.5,501.3 426.2,503.8 431.0,503.8 426.5,552.7 426.2,555.2 431.0,555.2 426.5,604.9 426.2,607.6 431.0,607.6 426.5,659.9 426.2,662.6 431.0,662.6 426.5,717.7 426.2,720.6 431.0,720.6 426.5,775.7 426.2,778.6 431.0,778.6 426.5,833.7 426.2,836.6" fill="none" stroke="#1d9be8" stroke-width="1.5"/>
<polyline points="438.0,198.0 436.5,808.2" fill="none" stroke="#1d9be8" stroke-width="1.5"/>
<polyline points="459.8,188.3 470.9,201.0 459.8,202.3 471.0,215.1 459.8,216.6 471.1,235.1 459.8,237.3 471.3,261.8 459.9,264.5 471.5,291.6 459.9,294.5 471.6,323.2 459.9,326.5 471.7,359.3 459.9,362.9 471.8,399.3 460.0,403.3 471.9,443.4 460.0,447.6 472.0,490.0 460.0,494.7 472.0,541.1 460.0,546.0 472.0,593.0 460.0,598.0 472.0,647.2 460.0,652.5 472.0,704.7 460.0,710.2 472.0,762.7 460.0,768.2 472.0,820.7" fill="none" stroke="#1d9be8" stroke-width="1.5"/>
<polyline points="469.1,188.8 479.5,201.6 469.1,202.8 479.6,215.8 469.1,217.1 479.8,236.0 469.3,238.1 480.1,263.0 469.4,265.4 480.4,292.9 469.6,295.4 480.6,324.6 469.7,327.5 480.7,360.9 469.8,364.1 480.9,401.0 469.8,404.6 481.1,445.2 469.9,449.0 481.2,492.0 470.0,496.2 481.2,543.2 470.0,547.5 481.2,595.2 470.0,599.6 481.2,649.5 470.0,654.2 481.2,707.0 470.0,711.9 481.2,765.0 470.0,769.9 481.2,823.0" fill="none" stroke="#1d9be8" stroke-width="1.5"/>
<polyline points="498.6,190.7 497.6,197.0 508.3,198.7 506.9,203.4" fill="none" stroke="#1d9be8" stroke-width="1.5"/>
<polyline points="502.7,191.1 501.7,196.2 512.4,198.3 511.0,203.8" fill="none" stroke="#1d9be8" stroke-width="1.5"/>
<polyline points="498.6,204.7 497.8,211.0 508.6,212.7 507.3,217.9" fill="none" stroke="#1d9be8" stroke-width="1.5"/>
<polyline points="502.7,205.1 501.9,210.2 512.6,212.3 511.4,218.4" fill="none" stroke="#1d9be8" stroke-width="1.5"/>
<polyline points="498.9,219.6 498.2,228.6 509.0,231.2 507.8,239.2" fill="none" stroke="#1d9be8" stroke-width="1.5"/>
<polyline points="503.0,220.1 502.3,227.3 513.2,230.5 512.0,239.9" fill="none" stroke="#1d9be8" stroke-width="1.5"/>
<polyline points="499.4,241.6 498.7,253.6 509.7,257.0 508.6,266.8" fill="none" stroke="#1d9be8" stroke-width="1.5"/>
<polyline points="503.6,242.3 502.8,252.0 513.9,256.2 512.8,267.6" fill="none" stroke="#1d9be8" stroke-width="1.5"/>
<polyline points="500.0,269.5 499.3,283.1 510.5,286.7 509.2,296.8" fill="none" stroke="#1d9be8" stroke-width="1.5"/>
<polyline points="504.2,270.4 503.5,281.3 514.8,285.8 513.4,297.6" fill="none" stroke="#1d9be8" stroke-width="1.5"/>
<polyline points="500.5,299.6 499.6,313.7 510.8,317.6 509.5,329.1" fill="none" stroke="#1d9be8" stroke-width="1.5"/>
<polyline points="504.7,300.5 503.9,311.8 515.1,316.7 513.8,330.0" fill="none" stroke="#1d9be8" stroke-width="1.5"/>
<polyline points="500.7,332.4 499.9,348.7 511.1,353.2 509.8,365.9" fill="none" stroke="#1d9be8" stroke-width="1.5"/>
<polyline points="505.0,333.4 504.1,346.5 515.4,352.0 514.1,366.9" fill="none" stroke="#1d9be8" stroke-width="1.5"/>
<polyline points="501.0,369.4 500.1,387.3 511.5,392.3 510.2,406.7" fill="none" stroke="#1d9be8" stroke-width="1.5"/>
<polyline points="505.3,370.6 504.4,384.9 515.8,391.0 514.5,407.8" fill="none" stroke="#1d9be8" stroke-width="1.5"/>
<polyline points="501.3,410.7 500.4,430.7 511.9,436.0 510.5,451.1" fill="none" stroke="#1d9be8" stroke-width="1.5"/>
<polyline points="505.7,412.0 504.8,428.0 516.3,434.7 514.9,452.3" fill="none" stroke="#1d9be8" stroke-width="1.5"/>
<polyline points="501.6,455.3 500.8,476.1 512.3,481.9 510.8,498.6" fill="none" stroke="#1d9be8" stroke-width="1.5"/>
<polyline points="506.0,456.6 505.1,473.3 516.7,480.5 515.2,499.9" fill="none" stroke="#1d9be8" stroke-width="1.5"/>
<polyline points="501.8,503.3 500.8,526.4 512.3,532.6 510.8,549.9" fill="none" stroke="#1d9be8" stroke-width="1.5"/>
<polyline points="506.2,504.8 505.2,523.3 516.7,531.0 515.2,551.3" fill="none" stroke="#1d9be8" stroke-width="1.5"/>
<polyline points="501.8,554.7 500.8,578.0 512.3,584.3 510.8,602.1" fill="none" stroke="#1d9be8" stroke-width="1.5"/>
<polyline points="506.2,556.2 505.2,574.9 516.7,582.7 515.2,603.5" fill="none" stroke="#1d9be8" stroke-width="1.5"/>
<polyline points="501.8,607.0 500.8,631.5 512.3,638.1 510.8,656.9" fill="none" stroke="#1d9be8" stroke-width="1.5"/>
<polyline points="506.2,608.6 505.2,628.2 516.7,636.4 515.2,658.3" fill="none" stroke="#1d9be8" stroke-width="1.5"/>
<polyline points="501.8,662.1 500.8,688.1 512.3,695.1 510.8,714.6" fill="none" stroke="#1d9be8" stroke-width="1.5"/>
<polyline points="506.2,663.8 505.2,684.6 516.7,693.4 515.2,716.2" fill="none" stroke="#1d9be8" stroke-width="1.5"/>
<polyline points="501.8,720.0 500.8,746.1 512.3,753.1 510.8,772.6" fill="none" stroke="#1d9be8" stroke-width="1.5"/>
<polyline points="506.2,721.7 505.2,742.7 516.7,751.4 515.2,774.2" fill="none" stroke="#1d9be8" stroke-width="1.5"/>
<polyline points="501.8,778.0 500.8,804.1 512.3,811.1 510.8,830.6" fill="none" stroke="#1d9be8" stroke-width="1.5"/>
<polyline points="506.2,779.7 505.2,800.7 516.7,809.4 515.2,832.2" fill="none" stroke="#1d9be8" stroke-width="1.5"/>
<polygon points="368.3,203 377.2,203 376.6,217.7 369.3,217.7" fill="#fff"/>
<rect x="432.8" y="203" width="3.6" height="14" fill="#fff"/>
<polygon points="536.4,203 546.2,203 546.2,210.8 536.8,210.8" fill="#fff"/>
</g>
<path d="M18,479.5 H346 L401.6,512.4" fill="none" stroke="#fff" stroke-width="5.2" clip-path="url(#cs)"/>
<path d="M18,479.5 H346 L401.6,512.4" fill="none" stroke="#d4557f" stroke-width="1.5"/>
<circle cx="401.6" cy="512.4" r="5.3" fill="#c44a86" stroke="#fff" stroke-width="1.4"/>
<path d="M928,479.5 H533 L467.6,517.5" fill="none" stroke="#fff" stroke-width="5.2" clip-path="url(#cs)"/>
<path d="M928,479.5 H533 L467.6,517.5" fill="none" stroke="#1d72c8" stroke-width="1.5"/>
<circle cx="467.6" cy="517.5" r="5.1" fill="#1766bb" stroke="#fff" stroke-width="1.4"/>
</svg>
</body>
</html>
